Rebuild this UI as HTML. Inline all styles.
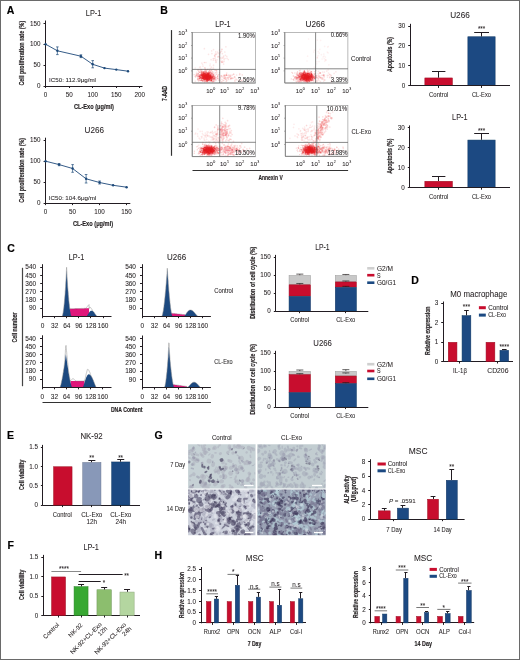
<!DOCTYPE html>
<html><head><meta charset="utf-8"><style>
html,body{margin:0;padding:0;background:#fff;}
svg{display:block;}
text{font-family:"Liberation Sans",sans-serif;stroke:#231f20;stroke-width:0.06px;}
</style></head><body>
<svg width="520" height="660" viewBox="0 0 520 660" fill="#231f20">
<filter id="gb" x="0" y="0" width="100%" height="100%"><feGaussianBlur stdDeviation="0.32"/></filter>
<rect width="520" height="660" fill="#fff"/>
<g filter="url(#gb)">
<rect x="0.5" y="0.5" width="519" height="659" fill="none" stroke="#6a6a6a" stroke-width="1"/>
<text x="6.80" y="14.20" font-size="10.5" font-weight="bold" style="stroke-width:0.18px" fill="#000">A</text>
<text x="160.20" y="14.40" font-size="10.5" font-weight="bold" style="stroke-width:0.18px" fill="#000">B</text>
<text x="7.20" y="252.30" font-size="10.5" font-weight="bold" style="stroke-width:0.18px" fill="#000">C</text>
<text x="411.30" y="283.50" font-size="10.5" font-weight="bold" style="stroke-width:0.18px" fill="#000">D</text>
<text x="7.10" y="438.80" font-size="10.5" font-weight="bold" style="stroke-width:0.18px" fill="#000">E</text>
<text x="7.60" y="549.40" font-size="10.5" font-weight="bold" style="stroke-width:0.18px" fill="#000">F</text>
<text x="154.60" y="439.40" font-size="10.5" font-weight="bold" style="stroke-width:0.18px" fill="#000">G</text>
<text x="154.60" y="559.40" font-size="10.5" font-weight="bold" style="stroke-width:0.18px" fill="#000">H</text>
<text x="85.80" y="15.90" font-size="8.6" textLength="15.60" lengthAdjust="spacingAndGlyphs">LP-1</text>
<line x1="45.50" y1="20.50" x2="45.50" y2="86.40" stroke="#231f20" stroke-width="1.0"/>
<line x1="43.50" y1="23.50" x2="45.50" y2="23.50" stroke="#231f20" stroke-width="1.0"/>
<text x="40.50" y="25.67" font-size="6.300000000000001" text-anchor="end">150</text>
<line x1="43.50" y1="44.50" x2="45.50" y2="44.50" stroke="#231f20" stroke-width="1.0"/>
<text x="40.50" y="46.47" font-size="6.300000000000001" text-anchor="end">100</text>
<line x1="43.50" y1="65.50" x2="45.50" y2="65.50" stroke="#231f20" stroke-width="1.0"/>
<text x="40.50" y="67.27" font-size="6.300000000000001" text-anchor="end">50</text>
<line x1="43.50" y1="86.50" x2="45.50" y2="86.50" stroke="#231f20" stroke-width="1.0"/>
<text x="40.50" y="88.17" font-size="6.300000000000001" text-anchor="end">0</text>
<line x1="45.10" y1="86.50" x2="142.50" y2="86.50" stroke="#231f20" stroke-width="1.0"/>
<line x1="45.50" y1="86.00" x2="45.50" y2="88.00" stroke="#231f20" stroke-width="1.0"/>
<text x="45.60" y="97.17" font-size="6.300000000000001" text-anchor="middle">0</text>
<line x1="69.50" y1="86.00" x2="69.50" y2="88.00" stroke="#231f20" stroke-width="1.0"/>
<text x="69.15" y="97.17" font-size="6.300000000000001" text-anchor="middle">50</text>
<line x1="92.50" y1="86.00" x2="92.50" y2="88.00" stroke="#231f20" stroke-width="1.0"/>
<text x="92.70" y="97.17" font-size="6.300000000000001" text-anchor="middle">100</text>
<line x1="116.50" y1="86.00" x2="116.50" y2="88.00" stroke="#231f20" stroke-width="1.0"/>
<text x="116.25" y="97.17" font-size="6.300000000000001" text-anchor="middle">150</text>
<line x1="139.50" y1="86.00" x2="139.50" y2="88.00" stroke="#231f20" stroke-width="1.0"/>
<text x="139.80" y="97.17" font-size="6.300000000000001" text-anchor="middle">200</text>
<text x="74.00" y="108.77" font-size="7.7700000000000005" font-weight="bold" style="stroke-width:0.18px" textLength="40.00" lengthAdjust="spacingAndGlyphs">CL-Exo (μg/ml)</text>
<text transform="translate(24.40,85.60) rotate(-90)" font-size="7.5600000000000005" font-weight="bold" style="stroke-width:0.18px" textLength="64.80" lengthAdjust="spacingAndGlyphs">Cell proliferation rate (%)</text>
<text x="49.00" y="81.72" font-size="5.88" textLength="47.00" lengthAdjust="spacingAndGlyphs">IC50: 112.9μg/ml</text>
<path d="M45.60,44.20 L57.38,50.80 L80.92,56.20 L92.70,64.30 L104.47,68.10 L116.25,69.60 L128.03,71.20" fill="none" stroke="#1f4a7a" stroke-width="0.9"/>
<circle cx="45.60" cy="44.20" r="1.2" fill="#1f4a7a"/>
<circle cx="57.38" cy="50.80" r="1.2" fill="#1f4a7a"/>
<circle cx="80.92" cy="56.20" r="1.2" fill="#1f4a7a"/>
<circle cx="92.70" cy="64.30" r="1.2" fill="#1f4a7a"/>
<circle cx="104.47" cy="68.10" r="1.2" fill="#1f4a7a"/>
<circle cx="116.25" cy="69.60" r="1.2" fill="#1f4a7a"/>
<circle cx="128.03" cy="71.20" r="1.2" fill="#1f4a7a"/>
<line x1="57.38" y1="46.90" x2="57.38" y2="54.60" stroke="#1f4a7a" stroke-width="0.7"/>
<line x1="56.08" y1="46.90" x2="58.67" y2="46.90" stroke="#1f4a7a" stroke-width="0.7"/>
<line x1="56.08" y1="54.60" x2="58.67" y2="54.60" stroke="#1f4a7a" stroke-width="0.7"/>
<line x1="80.92" y1="54.80" x2="80.92" y2="57.60" stroke="#1f4a7a" stroke-width="0.7"/>
<line x1="79.62" y1="54.80" x2="82.22" y2="54.80" stroke="#1f4a7a" stroke-width="0.7"/>
<line x1="79.62" y1="57.60" x2="82.22" y2="57.60" stroke="#1f4a7a" stroke-width="0.7"/>
<line x1="92.70" y1="60.60" x2="92.70" y2="67.80" stroke="#1f4a7a" stroke-width="0.7"/>
<line x1="91.40" y1="60.60" x2="94.00" y2="60.60" stroke="#1f4a7a" stroke-width="0.7"/>
<line x1="91.40" y1="67.80" x2="94.00" y2="67.80" stroke="#1f4a7a" stroke-width="0.7"/>
<text x="84.60" y="133.10" font-size="8.6" textLength="19.40" lengthAdjust="spacingAndGlyphs">U266</text>
<line x1="45.50" y1="137.70" x2="45.50" y2="203.50" stroke="#231f20" stroke-width="1.0"/>
<line x1="43.60" y1="140.50" x2="45.60" y2="140.50" stroke="#231f20" stroke-width="1.0"/>
<text x="40.60" y="142.17" font-size="6.300000000000001" text-anchor="end">150</text>
<line x1="43.60" y1="161.50" x2="45.60" y2="161.50" stroke="#231f20" stroke-width="1.0"/>
<text x="40.60" y="163.27" font-size="6.300000000000001" text-anchor="end">100</text>
<line x1="43.60" y1="182.50" x2="45.60" y2="182.50" stroke="#231f20" stroke-width="1.0"/>
<text x="40.60" y="184.27" font-size="6.300000000000001" text-anchor="end">50</text>
<line x1="43.60" y1="203.50" x2="45.60" y2="203.50" stroke="#231f20" stroke-width="1.0"/>
<text x="40.60" y="205.27" font-size="6.300000000000001" text-anchor="end">0</text>
<line x1="45.20" y1="203.50" x2="130.30" y2="203.50" stroke="#231f20" stroke-width="1.0"/>
<line x1="45.50" y1="203.10" x2="45.50" y2="205.10" stroke="#231f20" stroke-width="1.0"/>
<text x="45.60" y="214.47" font-size="6.300000000000001" text-anchor="middle">0</text>
<line x1="72.50" y1="203.10" x2="72.50" y2="205.10" stroke="#231f20" stroke-width="1.0"/>
<text x="72.60" y="214.47" font-size="6.300000000000001" text-anchor="middle">50</text>
<line x1="99.50" y1="203.10" x2="99.50" y2="205.10" stroke="#231f20" stroke-width="1.0"/>
<text x="99.60" y="214.47" font-size="6.300000000000001" text-anchor="middle">100</text>
<line x1="126.50" y1="203.10" x2="126.50" y2="205.10" stroke="#231f20" stroke-width="1.0"/>
<text x="126.60" y="214.47" font-size="6.300000000000001" text-anchor="middle">150</text>
<text x="72.90" y="226.27" font-size="7.7700000000000005" font-weight="bold" style="stroke-width:0.18px" textLength="40.20" lengthAdjust="spacingAndGlyphs">CL-Exo (μg/ml)</text>
<text transform="translate(24.40,202.80) rotate(-90)" font-size="7.5600000000000005" font-weight="bold" style="stroke-width:0.18px" textLength="65.00" lengthAdjust="spacingAndGlyphs">Cell proliferation rate (%)</text>
<text x="48.80" y="200.02" font-size="5.88" textLength="47.40" lengthAdjust="spacingAndGlyphs">IC50: 104.6μg/ml</text>
<path d="M45.60,161.20 L59.10,164.60 L72.60,168.50 L86.10,178.80 L99.60,182.50 L113.10,185.30 L126.60,187.20" fill="none" stroke="#1f4a7a" stroke-width="0.9"/>
<circle cx="45.60" cy="161.20" r="1.2" fill="#1f4a7a"/>
<circle cx="59.10" cy="164.60" r="1.2" fill="#1f4a7a"/>
<circle cx="72.60" cy="168.50" r="1.2" fill="#1f4a7a"/>
<circle cx="86.10" cy="178.80" r="1.2" fill="#1f4a7a"/>
<circle cx="99.60" cy="182.50" r="1.2" fill="#1f4a7a"/>
<circle cx="113.10" cy="185.30" r="1.2" fill="#1f4a7a"/>
<circle cx="126.60" cy="187.20" r="1.2" fill="#1f4a7a"/>
<line x1="59.10" y1="163.50" x2="59.10" y2="165.70" stroke="#1f4a7a" stroke-width="0.7"/>
<line x1="57.80" y1="163.50" x2="60.40" y2="163.50" stroke="#1f4a7a" stroke-width="0.7"/>
<line x1="57.80" y1="165.70" x2="60.40" y2="165.70" stroke="#1f4a7a" stroke-width="0.7"/>
<line x1="72.60" y1="164.60" x2="72.60" y2="172.30" stroke="#1f4a7a" stroke-width="0.7"/>
<line x1="71.30" y1="164.60" x2="73.90" y2="164.60" stroke="#1f4a7a" stroke-width="0.7"/>
<line x1="71.30" y1="172.30" x2="73.90" y2="172.30" stroke="#1f4a7a" stroke-width="0.7"/>
<line x1="86.10" y1="174.50" x2="86.10" y2="183.00" stroke="#1f4a7a" stroke-width="0.7"/>
<line x1="84.80" y1="174.50" x2="87.40" y2="174.50" stroke="#1f4a7a" stroke-width="0.7"/>
<line x1="84.80" y1="183.00" x2="87.40" y2="183.00" stroke="#1f4a7a" stroke-width="0.7"/>
<line x1="99.60" y1="181.00" x2="99.60" y2="184.00" stroke="#1f4a7a" stroke-width="0.7"/>
<line x1="98.30" y1="181.00" x2="100.90" y2="181.00" stroke="#1f4a7a" stroke-width="0.7"/>
<line x1="98.30" y1="184.00" x2="100.90" y2="184.00" stroke="#1f4a7a" stroke-width="0.7"/>
<path d="M205.4 78.1h0M208.0 76.8h0M202.9 77.2h0M209.4 75.4h0M207.7 78.0h0M208.1 78.6h0M203.0 78.2h0M205.1 77.7h0M211.2 74.0h0M210.3 77.4h0M212.4 79.1h0M211.8 80.9h0M206.3 79.5h0M205.7 73.5h0M201.2 77.4h0M210.7 80.4h0M210.7 77.3h0M200.1 74.7h0M203.3 76.3h0M208.6 76.4h0M206.5 78.3h0M208.3 79.8h0M205.5 73.1h0M209.5 78.8h0M206.2 75.0h0M203.3 73.1h0M210.1 79.5h0M214.3 77.3h0M203.6 76.5h0M202.4 77.0h0M207.3 77.9h0M208.7 75.5h0M210.0 76.7h0M207.9 77.5h0M199.7 76.5h0M208.0 81.2h0M206.6 76.1h0M199.4 80.6h0M206.0 80.9h0M209.0 72.9h0M211.0 78.8h0M212.1 81.5h0M212.6 76.6h0M210.7 77.2h0M203.6 78.7h0M212.0 79.0h0M211.9 75.1h0M206.7 76.1h0M203.8 77.1h0M216.2 70.6h0M207.5 78.8h0M203.4 74.7h0M209.2 77.3h0M213.8 81.8h0M212.0 78.0h0M208.1 72.9h0M207.9 73.8h0M198.0 77.3h0M204.3 73.2h0M200.9 72.9h0M211.3 77.6h0M208.7 79.7h0M207.4 76.5h0M209.0 79.4h0" stroke="#e4181d" stroke-opacity="0.17" stroke-width="1.40" stroke-linecap="round" fill="none"/>
<path d="M205.6 75.9h0M209.0 75.3h0M208.6 73.1h0M204.5 73.4h0M213.9 78.8h0M207.2 79.8h0M211.8 79.3h0M215.1 70.6h0M206.3 79.2h0M206.2 80.7h0M213.4 74.8h0M213.3 76.7h0M213.5 81.4h0M204.0 79.4h0M195.7 77.0h0M205.2 75.5h0M202.7 74.4h0M207.9 77.4h0M208.7 77.9h0M208.7 74.4h0M214.2 79.7h0M210.2 77.1h0M215.0 78.6h0M213.5 80.2h0M205.8 69.7h0M204.9 74.8h0M208.9 76.5h0M207.8 75.8h0M198.6 81.0h0M204.4 80.7h0M205.5 77.7h0M206.1 78.7h0M208.7 77.9h0M200.6 75.9h0M203.5 77.6h0M203.6 76.7h0M204.3 74.5h0M208.1 79.2h0M205.1 78.6h0M210.1 73.0h0M205.3 74.0h0M203.0 75.5h0M210.6 76.0h0M205.3 75.2h0M216.8 70.8h0M202.8 78.8h0M207.8 75.5h0M207.8 75.8h0M204.4 76.9h0M205.7 72.0h0M202.6 76.5h0M207.7 74.9h0M203.0 74.8h0M206.7 78.3h0M203.8 77.7h0M215.5 77.5h0M206.0 80.5h0M203.7 71.8h0M204.1 72.7h0M204.0 75.1h0M199.3 78.1h0M201.6 80.5h0M207.6 78.8h0M207.5 73.5h0" stroke="#e4181d" stroke-opacity="0.17" stroke-width="1.40" stroke-linecap="round" fill="none"/>
<path d="M202.3 76.0h0M208.0 77.9h0M206.8 80.2h0M202.1 75.2h0M209.0 78.4h0M203.6 75.6h0M208.2 77.3h0M201.4 77.1h0M210.5 80.9h0M211.4 76.3h0M206.6 73.9h0M203.2 79.2h0M203.5 78.9h0M199.0 74.8h0M203.6 71.6h0M215.5 72.8h0M218.9 80.4h0M204.8 74.2h0M209.5 77.5h0M197.9 76.5h0M211.3 74.3h0M210.5 78.4h0M211.6 74.8h0M200.6 75.2h0M202.1 76.6h0M201.5 76.2h0M208.9 74.1h0M213.1 75.3h0M212.9 74.0h0M210.1 76.7h0M206.8 78.8h0M202.6 78.2h0M199.7 75.9h0M204.1 77.8h0M201.4 71.4h0M207.4 79.5h0M203.7 78.3h0M207.5 76.5h0M214.3 77.3h0M203.4 75.2h0M207.1 79.5h0M195.2 81.1h0M209.9 74.9h0M205.4 78.3h0M204.6 78.0h0M208.9 78.6h0M207.3 75.1h0M201.9 74.6h0M210.0 79.0h0M195.1 76.5h0M209.4 77.3h0M212.6 76.9h0M196.9 75.8h0M212.0 79.2h0M214.1 78.8h0M206.4 73.9h0M209.7 76.6h0M199.8 78.0h0M212.2 78.5h0M208.3 77.6h0M202.5 79.9h0M205.9 78.5h0M211.0 75.3h0M210.2 79.1h0" stroke="#e4181d" stroke-opacity="0.17" stroke-width="1.40" stroke-linecap="round" fill="none"/>
<path d="M211.7 78.2h0M203.6 81.1h0M197.3 75.4h0M212.5 71.9h0M199.4 79.7h0M211.4 77.1h0M207.3 78.3h0M208.4 77.5h0M198.8 75.4h0M219.2 74.5h0M210.1 81.1h0M207.1 77.2h0M198.0 73.5h0M211.2 79.1h0M209.9 76.3h0M202.3 78.3h0M209.5 70.3h0M216.4 80.0h0M205.1 78.8h0M202.3 78.5h0M205.9 78.6h0M207.5 77.0h0M205.7 72.0h0M201.7 73.7h0M199.7 76.9h0M204.3 76.9h0M212.0 74.5h0M209.7 75.7h0M199.7 72.2h0M204.4 74.9h0M197.9 74.0h0M215.2 75.8h0M213.5 75.7h0M206.1 76.5h0M206.8 77.5h0M200.9 71.0h0M206.8 77.0h0M199.5 78.9h0M212.2 75.3h0M204.8 78.9h0M201.6 73.9h0M203.3 76.5h0M206.1 81.2h0M208.2 73.8h0M206.2 75.0h0M196.2 75.4h0M199.3 79.2h0M203.9 75.1h0M210.8 78.6h0M209.0 76.2h0M212.3 82.3h0M201.6 79.9h0M208.8 78.3h0M212.1 73.8h0M212.4 77.4h0M206.3 73.9h0M207.2 76.5h0M203.0 75.6h0M201.1 80.1h0M206.7 75.1h0M203.5 76.2h0M204.9 73.8h0M199.7 80.1h0M209.1 75.7h0" stroke="#e4181d" stroke-opacity="0.17" stroke-width="1.40" stroke-linecap="round" fill="none"/>
<path d="M211.4 77.7h0M209.2 80.0h0M206.1 74.7h0M199.9 77.0h0M211.0 78.4h0M202.5 79.0h0M205.8 77.5h0M204.6 78.4h0M205.0 78.3h0M210.8 76.4h0M202.5 80.6h0M213.2 76.5h0M197.6 79.1h0M206.6 78.9h0M196.3 74.0h0M215.3 77.0h0M209.5 78.2h0M201.1 73.0h0M206.8 74.7h0M201.6 69.7h0M205.2 79.5h0M205.5 78.5h0M210.2 79.4h0M206.2 76.8h0M207.3 73.3h0M209.0 75.9h0M207.7 82.4h0M203.4 78.5h0M212.0 75.9h0M202.3 75.6h0M206.6 74.1h0M207.3 76.4h0M201.9 73.0h0M205.0 79.4h0M204.1 79.0h0M209.4 79.0h0M205.8 79.1h0M206.7 76.1h0M207.6 76.7h0M207.0 75.8h0M206.5 71.8h0M209.0 73.4h0M208.6 76.5h0M208.6 77.4h0M216.5 77.6h0M210.7 78.9h0M208.0 75.4h0M201.3 78.1h0M205.3 76.7h0M209.1 71.1h0M202.4 71.6h0M203.9 77.2h0M206.0 76.3h0M203.7 77.8h0M209.0 76.4h0M206.9 78.0h0M206.4 78.7h0M208.1 80.4h0M210.7 72.1h0M204.6 79.1h0M207.9 76.0h0M211.6 79.4h0M207.1 79.7h0M208.0 78.9h0" stroke="#e4181d" stroke-opacity="0.17" stroke-width="1.40" stroke-linecap="round" fill="none"/>
<path d="M208.4 77.4h0M203.7 74.7h0M208.9 76.8h0M213.2 78.7h0M197.5 74.6h0M213.3 76.0h0M209.2 77.0h0M207.9 75.5h0M211.6 70.1h0M207.2 78.7h0M211.1 76.6h0M196.0 75.2h0M200.9 76.4h0M207.4 73.8h0M207.9 75.7h0M209.2 79.3h0M214.3 78.3h0M214.4 79.8h0M203.7 76.6h0M201.8 80.6h0M209.3 79.3h0M201.8 74.9h0M197.9 76.2h0M208.9 72.8h0M205.4 75.9h0M217.3 76.6h0M205.6 76.8h0M212.7 77.1h0M206.3 76.0h0M208.0 78.2h0M201.8 78.2h0M213.7 78.0h0M201.0 77.4h0M213.0 76.2h0M205.3 75.2h0M207.5 77.5h0M208.9 76.6h0M208.2 77.1h0M207.1 79.8h0M209.1 81.0h0M205.4 75.6h0M208.7 76.9h0M201.3 74.5h0M202.0 78.5h0M199.0 78.6h0M210.7 70.7h0M207.5 79.4h0M200.6 78.2h0M205.4 75.9h0M210.5 78.0h0M210.5 81.0h0M206.5 76.0h0M210.9 77.1h0M213.2 77.4h0M208.6 80.3h0M206.7 77.5h0M206.2 70.6h0M215.5 80.0h0M215.1 79.4h0M210.1 77.3h0M207.8 75.4h0M213.7 79.4h0M199.0 75.5h0" stroke="#e4181d" stroke-opacity="0.17" stroke-width="1.40" stroke-linecap="round" fill="none"/>
<path d="M198.9 78.6h0M205.0 76.4h0M199.9 78.6h0M197.9 69.8h0M210.5 72.3h0M200.3 76.1h0M210.1 78.5h0M217.8 78.4h0M211.6 73.3h0M207.6 78.5h0M197.5 79.9h0M198.1 78.4h0M205.7 76.7h0M199.4 74.7h0M210.2 78.9h0M202.4 76.3h0M206.3 78.1h0M215.0 79.4h0M206.1 77.2h0M204.8 73.2h0M212.3 76.6h0M206.6 73.0h0M209.5 72.4h0M200.9 76.4h0M208.7 78.5h0M211.7 77.4h0M211.9 77.2h0M203.5 78.7h0M206.0 74.0h0M209.2 82.4h0M203.6 78.3h0M210.7 75.2h0M214.4 78.4h0M210.5 75.1h0M208.8 72.9h0M210.9 78.0h0M209.7 76.6h0M209.7 76.0h0M217.6 75.7h0M206.6 77.7h0M208.7 75.1h0M198.2 77.1h0M207.5 79.3h0M205.3 75.9h0M198.7 79.3h0M207.4 78.1h0M202.1 76.3h0M201.9 77.4h0M205.8 72.3h0M206.7 75.3h0M210.8 79.1h0M208.1 75.1h0M210.0 78.5h0M202.7 75.7h0M200.0 76.3h0M202.7 80.3h0M206.5 74.5h0M207.3 77.3h0M216.1 74.2h0M205.1 80.7h0M209.7 77.0h0M204.0 72.4h0M206.7 73.1h0" stroke="#e4181d" stroke-opacity="0.17" stroke-width="1.40" stroke-linecap="round" fill="none"/>
<path d="M208.9 78.2h0M209.5 77.6h0M209.7 79.4h0M208.2 75.0h0M205.8 79.4h0M205.9 76.0h0M215.8 78.2h0M204.1 76.4h0M209.7 73.1h0M199.6 72.5h0M206.2 75.2h0M208.1 75.3h0M203.9 77.3h0M210.8 75.6h0M209.7 77.8h0M207.9 79.0h0M197.7 79.0h0M202.6 77.2h0M206.6 77.3h0M203.1 77.9h0M205.0 79.0h0M204.6 71.5h0M198.2 73.6h0M205.7 75.9h0M206.4 74.6h0M211.7 70.9h0M202.9 77.3h0M206.4 77.6h0M206.7 73.1h0M203.4 76.7h0M210.0 77.8h0M206.5 76.8h0M204.2 74.9h0M206.9 78.8h0M203.5 76.6h0M214.3 74.0h0M201.3 80.3h0M206.4 71.3h0M204.0 77.9h0M212.3 77.8h0M202.5 75.6h0M212.1 72.3h0M208.6 78.3h0M210.3 80.4h0M203.9 77.0h0M218.3 75.0h0M209.1 78.3h0M212.9 77.7h0M205.1 76.7h0M209.5 75.7h0M203.8 74.8h0M198.1 70.6h0M207.6 80.2h0M203.6 74.4h0M207.7 75.4h0M203.6 71.9h0M209.6 75.4h0M214.9 81.0h0M209.0 78.0h0M203.9 78.3h0M207.6 69.7h0M203.6 74.9h0M204.2 78.5h0" stroke="#e4181d" stroke-opacity="0.17" stroke-width="1.40" stroke-linecap="round" fill="none"/>
<path d="M198.8 71.8h0M204.5 74.2h0M213.2 78.1h0M201.4 79.0h0M200.6 80.6h0M213.1 74.5h0M204.6 75.7h0M205.6 76.6h0M207.4 79.9h0M209.4 74.5h0M208.4 78.0h0M206.6 79.0h0M214.8 77.4h0M202.4 74.6h0M212.7 78.9h0M206.4 76.3h0M208.1 75.1h0M196.7 74.3h0M206.0 73.5h0M208.9 77.4h0M211.1 77.1h0M203.5 78.1h0M203.7 73.0h0M206.3 74.8h0M205.9 76.6h0M203.1 77.2h0M209.3 78.8h0M213.6 80.1h0M206.3 77.6h0M219.5 72.7h0M208.9 76.7h0M198.4 80.1h0M209.0 78.4h0M213.6 76.2h0M210.5 76.6h0M204.9 67.8h0M208.7 74.4h0M204.7 78.4h0M201.7 77.8h0M216.8 72.2h0M206.4 75.1h0M210.3 77.6h0M206.4 80.3h0M203.4 77.8h0M212.4 77.4h0M205.1 76.8h0M205.1 71.3h0M203.2 76.7h0M202.1 76.5h0M207.6 75.5h0M210.7 74.7h0M200.8 74.5h0M204.0 75.7h0M213.5 75.6h0M205.2 78.8h0M205.7 74.8h0M201.8 73.6h0M205.2 77.9h0M207.5 77.3h0M211.9 76.4h0M211.9 77.2h0M202.9 78.1h0M211.6 81.2h0" stroke="#e4181d" stroke-opacity="0.17" stroke-width="1.40" stroke-linecap="round" fill="none"/>
<path d="M202.5 75.4h0M204.2 79.8h0M207.1 73.5h0M211.7 77.5h0M209.1 76.6h0M212.4 73.8h0M206.5 79.2h0M194.1 74.8h0M205.9 77.3h0M201.9 72.7h0M213.5 74.6h0M207.0 80.3h0M209.0 79.5h0M199.6 76.1h0M208.7 71.5h0M201.9 75.6h0M212.7 81.8h0M206.3 78.1h0M208.5 79.6h0M213.4 79.0h0M201.2 77.0h0M209.2 76.8h0M206.7 77.5h0M209.8 77.9h0M210.0 77.8h0M208.1 80.2h0M203.0 81.1h0M206.6 78.8h0M208.8 76.3h0M204.2 77.1h0M200.1 76.4h0M210.7 72.5h0M201.9 73.5h0M206.3 77.3h0M208.0 75.2h0M210.3 76.0h0M211.6 78.0h0M212.7 76.2h0M209.2 76.2h0M206.4 77.9h0M206.7 78.7h0M208.8 78.1h0M204.8 75.3h0M204.3 79.8h0M200.2 72.1h0M210.7 75.9h0M212.3 78.0h0M207.3 72.4h0M209.0 76.5h0M196.3 76.1h0M198.3 73.7h0M206.5 76.9h0M202.9 74.5h0M206.7 82.4h0M215.8 78.9h0M202.0 75.6h0M200.1 70.2h0M207.9 77.0h0M211.4 73.2h0M210.4 74.1h0M198.4 76.6h0M208.1 76.2h0M202.6 73.0h0" stroke="#e4181d" stroke-opacity="0.17" stroke-width="1.40" stroke-linecap="round" fill="none"/>
<path d="M204.8 73.4h0M207.5 79.3h0M204.7 77.3h0M204.4 75.4h0M202.6 76.3h0M205.1 77.8h0M208.3 73.9h0M203.0 77.7h0M206.8 79.9h0M204.4 76.2h0M207.3 76.7h0M201.9 76.0h0M203.3 74.2h0M205.5 75.6h0M202.5 73.3h0M206.6 77.1h0M203.5 74.6h0M202.7 77.6h0M211.2 76.7h0M208.3 73.6h0M206.2 79.8h0M203.7 77.9h0M206.8 75.0h0M211.1 80.2h0M207.2 74.1h0M206.1 76.5h0M205.3 76.0h0M211.5 78.5h0M207.1 75.3h0M206.0 78.0h0M207.7 75.9h0M211.2 78.5h0M203.5 75.6h0M209.1 73.2h0M212.2 76.1h0M205.0 75.6h0M204.9 76.5h0M205.6 78.0h0" stroke="#e4181d" stroke-opacity="0.4" stroke-width="1.40" stroke-linecap="round" fill="none"/>
<path d="M207.2 77.7h0M207.7 77.7h0M205.4 73.1h0M203.6 72.9h0M207.8 75.0h0M207.0 79.8h0M204.2 77.0h0M205.0 75.3h0M205.4 77.6h0M206.4 77.8h0M203.9 74.7h0M207.0 78.7h0M210.3 77.8h0M204.9 75.0h0M209.5 77.8h0M210.2 77.2h0M200.4 77.4h0M209.1 79.5h0M204.5 75.8h0M204.4 76.0h0M207.0 74.9h0M206.8 77.3h0M210.5 76.1h0M206.1 79.1h0M201.7 72.3h0M205.9 75.6h0M206.5 77.4h0M205.4 75.7h0M206.4 76.9h0M203.2 74.8h0M208.2 80.0h0M209.2 76.4h0M205.9 76.0h0M204.2 77.9h0M206.3 78.7h0M205.4 75.4h0M207.3 77.5h0M206.9 79.0h0" stroke="#e4181d" stroke-opacity="0.4" stroke-width="1.40" stroke-linecap="round" fill="none"/>
<path d="M206.3 78.4h0M205.8 77.1h0M206.9 74.1h0M207.8 79.3h0M201.0 78.8h0M209.3 76.2h0M205.0 76.4h0M210.9 75.6h0M210.1 75.3h0M205.4 76.8h0M209.8 77.5h0M203.4 77.7h0M208.8 75.5h0M206.4 76.0h0M207.6 77.1h0M211.2 80.4h0M206.1 81.4h0M203.9 78.6h0M201.4 78.1h0M209.1 74.4h0M210.3 78.8h0M208.8 76.9h0M209.1 72.8h0M202.2 73.0h0M207.7 77.2h0M212.1 78.1h0M205.6 74.5h0M204.2 76.9h0M207.9 75.0h0M207.6 74.7h0M205.3 77.5h0M203.1 76.4h0M209.1 74.9h0M208.0 75.1h0M204.6 75.4h0M200.6 75.3h0M205.6 78.5h0M203.7 78.2h0" stroke="#e4181d" stroke-opacity="0.4" stroke-width="1.40" stroke-linecap="round" fill="none"/>
<path d="M204.8 76.5h0M202.6 78.4h0M208.7 74.8h0M206.8 75.1h0M207.3 79.5h0M207.2 80.0h0M207.5 75.4h0M210.9 78.3h0M209.0 80.3h0M204.9 76.9h0M203.8 72.8h0M207.3 75.5h0M208.4 77.4h0M206.6 77.3h0M207.6 74.7h0M210.8 79.0h0M206.2 76.5h0M204.4 75.3h0M203.5 78.5h0M204.0 73.0h0M206.6 75.5h0M209.2 78.6h0M206.3 77.3h0M205.0 75.1h0M206.5 72.6h0M207.4 81.0h0M209.5 79.9h0M206.2 78.0h0M207.4 78.6h0M206.6 77.5h0M203.9 78.4h0M205.8 76.7h0M207.6 77.1h0M201.4 79.1h0M205.3 76.6h0M204.9 75.8h0M205.8 78.1h0M208.7 77.1h0" stroke="#e4181d" stroke-opacity="0.4" stroke-width="1.40" stroke-linecap="round" fill="none"/>
<path d="M205.5 77.8h0M205.2 74.7h0M204.5 75.1h0M199.3 76.6h0M202.9 78.5h0M204.9 77.5h0M207.5 75.7h0M210.1 75.3h0M202.8 74.6h0M203.3 76.7h0M202.7 81.0h0M207.5 75.3h0M208.0 77.0h0M207.2 72.9h0M208.8 76.0h0M206.6 77.1h0M210.1 77.3h0M202.9 78.6h0M201.9 74.2h0M205.7 77.4h0M201.4 74.6h0M206.7 75.8h0M206.8 77.9h0M204.8 77.0h0M205.3 75.4h0M209.9 74.3h0M206.0 78.6h0M201.0 80.6h0M207.9 76.2h0M206.0 75.0h0M209.4 77.1h0M208.1 76.7h0M203.2 76.7h0M206.7 75.2h0M203.5 77.5h0M203.5 76.4h0M209.1 78.2h0M207.5 75.9h0" stroke="#e4181d" stroke-opacity="0.4" stroke-width="1.40" stroke-linecap="round" fill="none"/>
<path d="M210.4 76.6h0M204.3 75.2h0M204.9 79.0h0M209.5 77.6h0M211.7 80.8h0M209.4 79.3h0M204.9 77.7h0M209.4 79.6h0M203.6 73.3h0M201.3 75.6h0M203.3 76.5h0M204.2 76.6h0M209.4 75.9h0M204.9 75.3h0M208.9 77.1h0M205.9 75.5h0M206.7 76.2h0M210.6 76.0h0M207.0 75.5h0M201.9 75.4h0M208.7 75.5h0M204.3 75.7h0M207.0 77.1h0M214.2 76.2h0M202.6 74.9h0M208.1 78.4h0M207.5 78.1h0M212.2 77.2h0M205.0 76.3h0M206.1 76.2h0M203.3 77.3h0M206.8 77.6h0M206.1 77.7h0M206.4 78.4h0M207.7 77.0h0M208.3 76.5h0M208.2 74.9h0M203.5 75.9h0" stroke="#e4181d" stroke-opacity="0.4" stroke-width="1.40" stroke-linecap="round" fill="none"/>
<path d="M211.6 79.9h0M208.5 78.8h0M208.5 78.0h0M208.7 79.6h0M205.8 77.2h0M207.6 74.5h0M204.8 77.2h0M206.0 76.5h0M207.5 73.6h0M211.3 77.3h0M206.8 76.6h0M199.2 76.1h0M203.8 74.0h0M208.3 74.1h0M201.2 74.1h0M206.1 75.6h0M204.7 79.4h0M204.3 76.1h0M208.3 77.0h0M207.6 79.7h0M202.9 76.9h0M205.8 76.7h0M201.4 75.2h0M206.4 77.3h0M208.1 77.9h0M211.2 79.5h0M207.6 75.5h0M208.1 77.8h0M208.2 79.7h0M207.2 75.4h0M209.3 79.0h0M206.3 80.1h0M205.1 77.3h0M199.6 78.3h0M210.7 76.5h0M205.0 79.1h0M202.9 75.5h0M204.6 81.9h0" stroke="#e4181d" stroke-opacity="0.4" stroke-width="1.40" stroke-linecap="round" fill="none"/>
<path d="M208.4 78.0h0M202.8 78.2h0M207.1 74.1h0M209.2 76.2h0M205.9 78.6h0M203.0 77.0h0M210.5 77.1h0M212.7 77.6h0M207.6 79.5h0M203.0 77.0h0M205.6 74.3h0M203.7 74.0h0M209.3 75.7h0M204.4 76.1h0M209.2 76.8h0M210.6 78.1h0M208.9 80.1h0M212.8 79.1h0M203.2 77.7h0M208.0 76.4h0M206.9 77.9h0M214.1 78.5h0M200.2 77.5h0M206.2 78.5h0M206.2 77.7h0M208.3 74.8h0M207.8 78.7h0M207.0 76.5h0M205.9 75.6h0M209.1 74.0h0M208.4 73.7h0M207.5 77.0h0M202.0 74.6h0M208.2 73.2h0M209.7 76.1h0M208.8 78.6h0M207.5 79.6h0M205.0 79.7h0" stroke="#e4181d" stroke-opacity="0.4" stroke-width="1.40" stroke-linecap="round" fill="none"/>
<path d="M210.9 76.8h0M208.6 75.9h0M204.9 75.7h0M209.0 78.4h0M209.0 77.1h0M207.3 81.4h0M205.9 78.1h0M205.2 75.6h0M202.1 75.9h0M203.8 73.7h0M203.6 79.6h0M205.2 78.1h0M203.6 74.9h0M205.4 78.5h0M205.3 77.2h0M205.1 73.3h0M205.4 76.8h0M204.9 73.5h0M208.5 73.5h0M203.2 74.9h0M208.0 79.4h0M208.3 75.4h0M207.1 76.5h0M210.9 74.9h0M204.7 76.8h0M204.0 77.1h0M204.0 80.2h0M206.0 75.3h0M207.3 77.2h0M205.8 76.8h0M204.5 79.2h0M205.8 75.6h0M208.3 78.8h0M208.3 73.8h0M208.3 73.5h0M209.3 76.4h0M203.1 77.1h0M206.8 77.4h0" stroke="#e4181d" stroke-opacity="0.4" stroke-width="1.40" stroke-linecap="round" fill="none"/>
<path d="M206.0 74.9h0M202.4 75.2h0M203.8 77.5h0M202.3 75.8h0M202.8 77.9h0M204.1 78.7h0M205.3 78.7h0M207.5 77.5h0M201.3 77.9h0M204.4 78.0h0M204.3 78.2h0M205.2 79.0h0M205.1 74.4h0M205.1 78.4h0M205.2 75.7h0M206.2 76.0h0M204.0 78.4h0M204.6 78.8h0M211.0 78.0h0M204.6 76.9h0M204.1 78.4h0M204.5 76.1h0M204.2 75.6h0M206.7 76.4h0M206.4 77.8h0M207.6 75.1h0M211.7 80.4h0M206.8 76.8h0M203.9 75.3h0M208.8 75.9h0M203.1 78.6h0M209.8 77.3h0M206.3 75.7h0M209.3 77.7h0M206.8 76.5h0M206.0 78.8h0M204.1 75.3h0M208.2 75.5h0" stroke="#e4181d" stroke-opacity="0.4" stroke-width="1.40" stroke-linecap="round" fill="none"/>
<path d="M224.1 61.2h0M221.5 51.2h0M215.6 60.4h0M211.1 59.7h0M223.5 61.9h0M225.4 55.3h0" stroke="#e4181d" stroke-opacity="0.098" stroke-width="1.70" stroke-linecap="round" fill="none"/>
<path d="M213.2 58.6h0M222.0 57.4h0M217.0 59.8h0M221.4 58.6h0M215.3 60.0h0M225.9 46.8h0" stroke="#e4181d" stroke-opacity="0.098" stroke-width="1.70" stroke-linecap="round" fill="none"/>
<path d="M222.5 61.0h0M220.3 57.8h0M222.0 49.6h0M215.2 54.2h0M211.7 50.8h0M223.6 56.0h0" stroke="#e4181d" stroke-opacity="0.098" stroke-width="1.70" stroke-linecap="round" fill="none"/>
<path d="M227.1 58.4h0M220.6 51.9h0M215.1 56.4h0M226.8 56.3h0M225.1 58.5h0M222.1 62.0h0" stroke="#e4181d" stroke-opacity="0.098" stroke-width="1.70" stroke-linecap="round" fill="none"/>
<path d="M222.3 62.3h0M208.5 54.3h0M221.5 62.2h0M204.4 48.7h0M214.1 58.5h0M214.7 55.8h0" stroke="#e4181d" stroke-opacity="0.098" stroke-width="1.70" stroke-linecap="round" fill="none"/>
<path d="M215.9 62.4h0M215.8 54.4h0M223.6 64.1h0M214.6 55.6h0M224.1 59.3h0M221.1 61.2h0" stroke="#e4181d" stroke-opacity="0.098" stroke-width="1.70" stroke-linecap="round" fill="none"/>
<path d="M213.5 49.6h0M221.9 49.2h0M218.3 56.4h0M218.2 53.1h0M211.9 53.6h0M215.8 51.9h0" stroke="#e4181d" stroke-opacity="0.098" stroke-width="1.70" stroke-linecap="round" fill="none"/>
<path d="M222.4 53.6h0M216.6 53.9h0M223.5 57.1h0M216.2 61.7h0M221.9 62.3h0M211.3 67.2h0" stroke="#e4181d" stroke-opacity="0.098" stroke-width="1.70" stroke-linecap="round" fill="none"/>
<path d="M219.5 50.0h0M215.2 58.0h0M224.8 52.0h0M213.5 65.2h0M228.3 59.6h0M219.1 56.7h0" stroke="#e4181d" stroke-opacity="0.098" stroke-width="1.70" stroke-linecap="round" fill="none"/>
<path d="M220.3 52.7h0M219.4 53.9h0M222.9 58.2h0M217.6 52.0h0M217.8 57.1h0M213.3 60.2h0" stroke="#e4181d" stroke-opacity="0.098" stroke-width="1.70" stroke-linecap="round" fill="none"/>
<path d="M223.7 80.6h0M232.0 77.9h0M243.8 78.8h0M226.9 75.3h0M224.4 78.5h0M213.6 81.4h0M219.2 79.4h0M226.4 79.5h0M241.2 80.7h0" stroke="#e4181d" stroke-opacity="0.112" stroke-width="1.70" stroke-linecap="round" fill="none"/>
<path d="M234.8 77.1h0M213.3 76.3h0M210.4 73.9h0M222.1 81.8h0M230.4 78.9h0M222.3 76.9h0M221.7 76.1h0M239.6 74.7h0M226.7 73.1h0" stroke="#e4181d" stroke-opacity="0.112" stroke-width="1.70" stroke-linecap="round" fill="none"/>
<path d="M233.8 74.2h0M217.0 74.0h0M217.7 78.3h0M213.9 77.4h0M228.2 77.7h0M223.9 77.4h0M225.4 77.7h0M239.8 73.7h0M230.2 77.2h0" stroke="#e4181d" stroke-opacity="0.112" stroke-width="1.70" stroke-linecap="round" fill="none"/>
<path d="M225.4 75.6h0M229.2 77.2h0M228.0 77.7h0M228.2 78.5h0M224.2 75.0h0M226.3 75.1h0M234.9 81.4h0M232.3 78.5h0M230.8 78.4h0" stroke="#e4181d" stroke-opacity="0.112" stroke-width="1.70" stroke-linecap="round" fill="none"/>
<path d="M217.8 77.0h0M228.9 74.8h0M242.3 74.9h0M224.8 78.2h0M235.0 80.2h0M236.6 75.0h0M222.9 80.3h0M239.9 77.7h0M225.4 79.3h0" stroke="#e4181d" stroke-opacity="0.112" stroke-width="1.70" stroke-linecap="round" fill="none"/>
<path d="M226.8 80.6h0M226.4 74.7h0M221.2 81.9h0M234.5 76.6h0M233.3 78.1h0M223.9 78.4h0M236.0 79.0h0M224.2 75.0h0M234.7 77.5h0" stroke="#e4181d" stroke-opacity="0.112" stroke-width="1.70" stroke-linecap="round" fill="none"/>
<path d="M201.2 75.3h0M231.1 78.7h0M230.7 75.1h0M224.3 76.5h0M230.1 75.9h0M223.7 75.9h0M221.9 79.3h0M218.0 78.9h0M224.7 75.8h0" stroke="#e4181d" stroke-opacity="0.112" stroke-width="1.70" stroke-linecap="round" fill="none"/>
<path d="M220.7 75.8h0M242.0 80.2h0M211.8 73.2h0M220.3 76.5h0M213.7 78.7h0M230.8 76.1h0M227.1 77.9h0M226.1 75.2h0M233.5 74.3h0" stroke="#e4181d" stroke-opacity="0.112" stroke-width="1.70" stroke-linecap="round" fill="none"/>
<path d="M231.4 78.0h0M221.6 75.9h0M208.4 77.2h0M225.6 77.5h0M229.6 75.6h0M218.0 76.7h0M225.8 78.7h0M232.3 75.1h0M226.7 75.1h0" stroke="#e4181d" stroke-opacity="0.112" stroke-width="1.70" stroke-linecap="round" fill="none"/>
<path d="M228.2 75.8h0M220.5 77.8h0M228.4 79.5h0M238.7 80.3h0M220.3 80.2h0M226.2 81.3h0M236.9 79.8h0M224.5 75.9h0" stroke="#e4181d" stroke-opacity="0.112" stroke-width="1.70" stroke-linecap="round" fill="none"/>
<path d="M196.6 72.4h0M204.8 62.5h0M201.8 63.1h0M210.1 68.5h0M209.5 71.2h0" stroke="#e4181d" stroke-opacity="0.084" stroke-width="1.70" stroke-linecap="round" fill="none"/>
<path d="M204.8 70.1h0M204.5 71.7h0M204.5 75.0h0M201.2 77.9h0M208.0 75.9h0" stroke="#e4181d" stroke-opacity="0.084" stroke-width="1.70" stroke-linecap="round" fill="none"/>
<path d="M210.2 64.0h0M210.9 68.6h0M213.4 68.9h0M209.9 74.0h0M202.2 70.6h0" stroke="#e4181d" stroke-opacity="0.084" stroke-width="1.70" stroke-linecap="round" fill="none"/>
<path d="M204.6 71.2h0M213.3 67.4h0M200.6 69.2h0M199.5 76.4h0M202.0 74.0h0" stroke="#e4181d" stroke-opacity="0.084" stroke-width="1.70" stroke-linecap="round" fill="none"/>
<path d="M210.0 65.7h0M204.2 62.5h0M210.3 71.4h0M195.3 68.0h0M202.6 71.8h0" stroke="#e4181d" stroke-opacity="0.084" stroke-width="1.70" stroke-linecap="round" fill="none"/>
<path d="M209.3 70.9h0M200.4 66.8h0M201.6 71.4h0M209.3 75.2h0M205.8 70.3h0" stroke="#e4181d" stroke-opacity="0.084" stroke-width="1.70" stroke-linecap="round" fill="none"/>
<path d="M213.1 74.6h0M213.8 72.1h0M203.8 72.0h0M199.6 67.4h0M215.0 69.7h0" stroke="#e4181d" stroke-opacity="0.084" stroke-width="1.70" stroke-linecap="round" fill="none"/>
<path d="M208.3 78.6h0M198.5 72.1h0M202.6 64.3h0M206.1 62.5h0M213.2 73.2h0" stroke="#e4181d" stroke-opacity="0.084" stroke-width="1.70" stroke-linecap="round" fill="none"/>
<path d="M205.0 68.3h0M207.8 69.1h0M205.3 73.0h0M208.7 72.2h0M212.7 69.4h0" stroke="#e4181d" stroke-opacity="0.084" stroke-width="1.70" stroke-linecap="round" fill="none"/>
<path d="M203.0 66.2h0M205.1 68.8h0M198.5 69.6h0M202.4 72.1h0M210.4 72.9h0" stroke="#e4181d" stroke-opacity="0.084" stroke-width="1.70" stroke-linecap="round" fill="none"/>
<rect x="192.20" y="32.50" width="63.50" height="50.50" fill="none" stroke="#8a8a8a" stroke-width="0.6"/>
<line x1="192.20" y1="32.50" x2="192.20" y2="83.00" stroke="#777" stroke-width="0.8"/>
<line x1="192.20" y1="83.00" x2="255.70" y2="83.00" stroke="#777" stroke-width="0.8"/>
<line x1="219.70" y1="32.50" x2="219.70" y2="83.00" stroke="#555" stroke-width="0.7"/>
<line x1="192.20" y1="69.40" x2="255.70" y2="69.40" stroke="#555" stroke-width="0.7"/>
<line x1="191.00" y1="32.50" x2="192.20" y2="32.50" stroke="#777" stroke-width="0.6"/>
<line x1="191.00" y1="45.50" x2="192.20" y2="45.50" stroke="#777" stroke-width="0.6"/>
<line x1="191.00" y1="58.10" x2="192.20" y2="58.10" stroke="#777" stroke-width="0.6"/>
<line x1="191.00" y1="70.90" x2="192.20" y2="70.90" stroke="#777" stroke-width="0.6"/>
<text x="178.22" y="34.56" font-size="6.0">10<tspan font-size="3.60" dx="0.3" dy="-3.00">3</tspan></text>
<text x="178.22" y="47.56" font-size="6.0">10<tspan font-size="3.60" dx="0.3" dy="-3.00">2</tspan></text>
<text x="178.22" y="60.16" font-size="6.0">10<tspan font-size="3.60" dx="0.3" dy="-3.00">1</tspan></text>
<text x="178.22" y="72.96" font-size="6.0">10<tspan font-size="3.60" dx="0.3" dy="-3.00">0</tspan></text>
<text x="206.21" y="92.56" font-size="6.0">10<tspan font-size="3.60" dx="0.3" dy="-3.00">0</tspan></text>
<text x="220.01" y="92.56" font-size="6.0">10<tspan font-size="3.60" dx="0.3" dy="-3.00">1</tspan></text>
<text x="235.21" y="92.56" font-size="6.0">10<tspan font-size="3.60" dx="0.3" dy="-3.00">2</tspan></text>
<text x="250.31" y="92.56" font-size="6.0">10<tspan font-size="3.60" dx="0.3" dy="-3.00">3</tspan></text>
<text x="238.00" y="38.20" font-size="6.405" textLength="16.80" lengthAdjust="spacingAndGlyphs">1.90%</text>
<text x="238.00" y="82.30" font-size="6.405" textLength="16.80" lengthAdjust="spacingAndGlyphs">2.56%</text>
<path d="M302.5 77.7h0M309.8 81.0h0M299.6 77.1h0M304.0 80.7h0M314.5 71.7h0M311.8 78.9h0M306.5 80.4h0M311.7 76.2h0M309.6 80.7h0M307.4 79.7h0M303.9 78.2h0M304.2 76.6h0M305.0 80.4h0M305.1 73.9h0M306.4 77.8h0M308.7 75.8h0M304.0 78.2h0M302.4 75.8h0M298.6 75.7h0M306.2 74.6h0M306.2 75.1h0M312.1 75.8h0M295.0 77.5h0M316.5 77.3h0M303.4 77.5h0M311.5 74.2h0M302.0 78.3h0M306.8 76.5h0M303.6 74.9h0M298.6 77.9h0M296.6 77.6h0M306.6 76.0h0M308.4 76.2h0M295.1 77.9h0M305.6 73.6h0M304.0 78.8h0M306.6 75.4h0M310.5 78.0h0M307.3 77.7h0M307.1 75.7h0M311.2 75.8h0M298.8 82.2h0M311.4 79.2h0M308.7 79.8h0M307.7 78.7h0M307.3 74.8h0M299.7 77.4h0M312.3 74.6h0M302.0 77.5h0M311.3 77.1h0M311.0 79.7h0M305.4 77.0h0M302.2 75.1h0M315.6 75.4h0M303.6 73.1h0M307.2 79.1h0M298.6 75.6h0M305.7 73.1h0M299.6 76.4h0M305.7 73.9h0M299.4 70.7h0M302.4 75.3h0M298.9 76.7h0M308.3 81.0h0" stroke="#e4181d" stroke-opacity="0.17" stroke-width="1.40" stroke-linecap="round" fill="none"/>
<path d="M304.9 76.9h0M309.5 73.3h0M307.8 78.8h0M300.3 76.8h0M312.3 76.1h0M300.9 79.5h0M310.0 79.0h0M305.9 75.6h0M300.9 80.7h0M309.0 74.1h0M295.3 76.9h0M307.8 79.2h0M293.2 75.9h0M302.4 75.2h0M304.1 79.1h0M305.4 77.6h0M307.8 80.0h0M304.7 77.1h0M301.9 75.6h0M309.1 76.9h0M311.3 76.7h0M306.1 79.0h0M309.5 80.3h0M310.3 80.4h0M320.7 78.0h0M305.1 78.6h0M293.8 80.4h0M304.0 74.8h0M301.2 74.6h0M310.5 72.1h0M305.7 75.5h0M299.0 73.1h0M313.3 76.3h0M300.1 78.1h0M312.6 78.3h0M309.5 74.4h0M311.1 75.4h0M304.5 76.4h0M308.1 70.8h0M309.8 70.1h0M304.3 79.3h0M304.6 76.3h0M309.9 79.5h0M300.7 76.9h0M310.4 77.5h0M307.6 74.3h0M307.5 71.4h0M310.0 72.9h0M294.6 77.3h0M307.9 77.1h0M314.5 78.2h0M296.8 78.3h0M298.1 76.5h0M309.6 79.7h0M305.0 78.5h0M308.6 76.4h0M305.6 74.9h0M297.8 79.5h0M300.3 72.1h0M314.1 73.7h0M307.0 74.7h0M302.3 79.9h0M307.0 82.2h0M300.2 76.7h0" stroke="#e4181d" stroke-opacity="0.17" stroke-width="1.40" stroke-linecap="round" fill="none"/>
<path d="M311.8 75.2h0M304.0 78.5h0M303.7 76.5h0M302.7 79.4h0M306.2 76.2h0M300.2 78.6h0M303.8 76.4h0M305.8 76.1h0M301.5 72.6h0M306.3 77.4h0M305.9 76.3h0M299.1 77.7h0M306.8 77.0h0M300.7 76.2h0M304.6 73.7h0M307.5 78.8h0M310.6 74.4h0M311.2 75.5h0M305.3 75.0h0M305.6 75.9h0M302.5 75.2h0M305.1 79.8h0M301.0 75.4h0M308.0 77.9h0M301.3 81.9h0M305.3 78.0h0M301.8 78.7h0M301.7 74.4h0M306.7 80.5h0M306.5 76.4h0M303.5 74.7h0M307.1 79.6h0M300.4 79.8h0M296.2 76.6h0M304.1 74.1h0M300.3 76.8h0M309.6 77.7h0M306.8 76.2h0M299.2 78.9h0M304.5 77.4h0M305.5 74.0h0M302.8 79.5h0M302.6 79.0h0M307.1 79.5h0M301.4 76.8h0M306.1 76.8h0M305.6 73.3h0M301.0 75.5h0M302.4 73.2h0M307.5 74.5h0M307.1 78.9h0M305.5 79.4h0M310.4 75.3h0M304.1 76.6h0M297.2 74.8h0M303.2 79.5h0M298.2 81.4h0M308.8 78.4h0M308.5 78.8h0M305.1 72.2h0M304.9 76.0h0M307.3 81.5h0M314.5 76.9h0M308.0 80.8h0" stroke="#e4181d" stroke-opacity="0.17" stroke-width="1.40" stroke-linecap="round" fill="none"/>
<path d="M297.4 72.6h0M307.5 75.0h0M304.4 75.6h0M300.8 72.8h0M302.4 73.8h0M300.9 76.0h0M303.9 77.6h0M305.9 79.5h0M309.0 78.8h0M312.4 80.0h0M309.3 81.4h0M301.9 78.6h0M297.5 75.3h0M309.7 77.9h0M309.7 76.1h0M304.5 75.2h0M308.6 76.2h0M307.2 76.9h0M303.5 72.7h0M308.1 77.2h0M307.2 74.3h0M305.9 78.7h0M296.4 74.4h0M304.6 76.0h0M309.7 79.1h0M311.2 77.8h0M303.2 77.8h0M313.8 77.0h0M297.6 77.7h0M298.6 80.3h0M301.8 76.8h0M307.3 73.5h0M304.6 77.9h0M301.6 73.3h0M312.7 78.3h0M309.5 77.7h0M300.5 76.4h0M302.9 76.1h0M304.4 75.6h0M300.3 79.5h0M307.5 76.5h0M305.6 81.3h0M303.9 75.7h0M306.3 78.3h0M307.1 76.3h0M310.3 76.0h0M307.7 80.5h0M309.5 72.9h0M298.7 79.9h0M301.1 75.2h0M310.1 76.4h0M310.6 79.0h0M296.5 82.4h0M299.0 79.7h0M306.8 74.7h0M308.5 78.3h0M301.4 76.6h0M297.5 71.6h0M310.2 78.1h0M299.4 72.7h0M307.8 75.0h0M307.9 81.8h0M309.8 76.4h0M306.8 78.9h0" stroke="#e4181d" stroke-opacity="0.17" stroke-width="1.40" stroke-linecap="round" fill="none"/>
<path d="M303.3 75.4h0M301.2 79.4h0M293.1 79.4h0M308.0 76.1h0M303.6 80.2h0M307.9 78.1h0M296.2 78.9h0M312.2 77.3h0M304.5 70.7h0M308.0 80.0h0M303.4 74.7h0M312.1 77.1h0M311.5 73.8h0M300.7 77.3h0M311.3 75.4h0M302.8 78.0h0M301.6 80.8h0M299.4 74.3h0M306.2 74.8h0M311.0 78.1h0M300.7 82.0h0M305.9 73.3h0M308.1 82.2h0M299.5 81.9h0M309.0 79.1h0M300.2 78.8h0M306.0 77.0h0M309.1 74.5h0M299.9 76.6h0M306.6 75.8h0M302.4 78.7h0M304.5 77.6h0M305.7 74.5h0M304.3 77.4h0M299.7 78.7h0M311.5 73.5h0M301.4 76.1h0M311.2 75.4h0M312.7 78.4h0M306.5 80.2h0M295.6 77.5h0M309.3 81.1h0M300.8 81.4h0M306.1 82.3h0M302.3 76.1h0M303.7 77.6h0M310.5 73.2h0M308.4 75.4h0M307.6 73.2h0M303.7 78.5h0M307.2 82.4h0M309.4 74.6h0M314.4 78.7h0M302.9 75.4h0M309.3 79.4h0M301.6 78.6h0M302.8 75.5h0M300.4 74.0h0M295.7 76.9h0M310.8 80.0h0M312.5 77.1h0M307.7 74.0h0M307.4 76.9h0M298.3 75.5h0" stroke="#e4181d" stroke-opacity="0.17" stroke-width="1.40" stroke-linecap="round" fill="none"/>
<path d="M305.6 78.4h0M299.1 80.6h0M306.7 77.4h0M304.0 79.7h0M311.0 76.1h0M310.4 74.9h0M298.0 75.7h0M306.5 79.1h0M305.2 76.2h0M303.6 80.8h0M302.6 77.2h0M305.0 77.5h0M300.7 74.3h0M305.7 78.9h0M308.2 77.8h0M297.5 73.9h0M302.5 74.9h0M304.4 78.0h0M307.4 69.9h0M302.5 76.4h0M311.8 79.6h0M306.9 80.3h0M299.9 80.5h0M303.3 71.7h0M308.8 80.6h0M305.0 77.3h0M296.6 73.3h0M291.9 72.4h0M306.0 78.4h0M307.7 78.6h0M304.8 77.3h0M301.0 77.9h0M299.7 76.5h0M302.8 74.0h0M314.7 76.9h0M307.9 75.4h0M304.2 81.6h0M307.3 74.1h0M314.7 78.3h0M310.1 78.6h0M300.4 75.1h0M304.9 77.9h0M309.5 74.9h0M295.0 76.9h0M298.3 74.4h0M305.8 81.2h0M312.1 79.3h0M311.5 76.2h0M314.2 75.3h0M299.6 81.0h0M297.3 73.5h0M297.3 81.2h0M302.9 74.0h0M305.8 74.8h0M307.6 75.9h0M309.3 76.5h0M305.7 76.3h0M306.3 74.4h0M302.3 74.0h0M303.5 73.6h0M308.1 78.6h0M314.0 77.9h0M302.8 77.2h0M313.7 76.3h0" stroke="#e4181d" stroke-opacity="0.17" stroke-width="1.40" stroke-linecap="round" fill="none"/>
<path d="M314.0 77.8h0M305.6 77.8h0M302.5 77.6h0M301.2 76.1h0M303.0 75.2h0M313.1 80.4h0M305.6 75.7h0M304.1 74.4h0M303.7 76.3h0M303.5 78.0h0M308.3 74.9h0M291.3 78.9h0M302.9 78.6h0M303.9 78.1h0M292.6 73.3h0M303.5 75.6h0M303.5 74.9h0M307.0 78.2h0M301.6 77.6h0M309.9 76.1h0M312.1 78.5h0M311.0 81.3h0M307.6 75.8h0M306.8 76.9h0M310.4 80.4h0M302.7 73.5h0M305.3 80.6h0M306.2 80.6h0M311.0 75.6h0M309.2 78.5h0M307.5 80.2h0M304.5 74.9h0M312.3 74.5h0M306.5 72.6h0M307.4 75.9h0M306.0 77.8h0M303.5 81.0h0M302.0 73.5h0M304.5 78.8h0M304.8 74.3h0M307.8 77.8h0M303.4 76.6h0M306.8 77.9h0M317.4 77.6h0M305.1 76.1h0M304.3 75.7h0M303.8 78.3h0M307.8 76.6h0M303.7 77.6h0M302.5 75.5h0M300.9 78.9h0M311.3 74.6h0M297.6 78.4h0M300.5 76.3h0M305.3 75.4h0M296.4 78.5h0M308.5 74.0h0M313.2 75.4h0M300.1 78.9h0M305.2 78.0h0M310.6 78.0h0M311.3 77.5h0M298.2 78.1h0M316.1 75.1h0" stroke="#e4181d" stroke-opacity="0.17" stroke-width="1.40" stroke-linecap="round" fill="none"/>
<path d="M307.7 75.2h0M299.1 75.5h0M305.4 76.8h0M306.2 78.0h0M299.7 81.5h0M305.5 78.2h0M313.5 76.8h0M310.8 74.7h0M296.9 75.6h0M309.9 74.7h0M310.3 74.4h0M308.2 77.4h0M308.4 71.9h0M315.6 77.2h0M300.1 80.5h0M304.2 70.4h0M310.3 77.9h0M305.7 75.9h0M293.7 76.1h0M307.3 78.3h0M297.4 80.0h0M308.2 75.5h0M316.1 70.6h0M306.4 81.6h0M303.1 77.0h0M299.4 76.1h0M302.8 78.3h0M305.3 74.5h0M299.4 76.5h0M307.5 74.0h0M308.4 77.6h0M299.4 79.1h0M312.1 77.6h0M308.1 78.2h0M302.4 79.7h0M300.8 76.4h0M307.7 73.7h0M304.5 78.7h0M301.7 75.9h0M304.4 75.8h0M307.5 75.5h0M297.2 75.5h0M307.3 76.1h0M296.7 77.3h0M305.7 80.5h0M304.0 78.2h0M312.8 76.2h0M314.1 76.1h0M300.0 73.0h0M308.9 78.1h0M311.2 76.2h0M311.7 78.7h0M311.8 74.3h0M312.7 76.5h0M304.9 77.8h0M299.8 73.6h0M298.3 81.9h0M302.8 79.2h0M304.1 82.0h0M298.1 74.1h0M297.0 75.4h0M303.9 77.4h0M304.1 74.2h0M304.1 72.9h0" stroke="#e4181d" stroke-opacity="0.17" stroke-width="1.40" stroke-linecap="round" fill="none"/>
<path d="M308.3 80.4h0M308.8 73.3h0M310.8 72.7h0M303.0 79.6h0M308.7 77.3h0M301.8 76.6h0M313.0 79.9h0M310.0 74.6h0M314.1 80.9h0M302.1 72.6h0M309.5 78.1h0M303.6 75.2h0M312.5 75.5h0M300.3 77.8h0M296.4 79.3h0M303.9 76.4h0M312.2 78.0h0M307.6 74.5h0M306.0 77.3h0M304.6 71.2h0M311.5 78.2h0M305.6 72.2h0M305.2 77.6h0M305.0 76.3h0M302.0 79.4h0M300.3 70.1h0M306.3 78.2h0M304.3 74.5h0M306.9 75.2h0M303.4 77.3h0M304.7 75.0h0M307.2 74.8h0M300.1 77.7h0M313.7 79.2h0M320.5 77.3h0M299.9 77.7h0M294.3 78.7h0M307.0 75.8h0M302.8 76.4h0M306.7 75.8h0M306.6 76.7h0M300.9 75.4h0M299.3 77.1h0M298.6 75.3h0M306.9 76.9h0M306.6 78.7h0M305.4 75.6h0M305.4 82.0h0M301.9 80.0h0M303.9 74.3h0M308.7 76.9h0M293.7 79.3h0M305.5 76.3h0M308.0 73.3h0M304.1 79.4h0M304.4 78.4h0M305.1 78.9h0M307.1 74.7h0M307.8 72.2h0M305.0 78.8h0M314.6 78.2h0M300.0 74.0h0M303.7 78.4h0" stroke="#e4181d" stroke-opacity="0.17" stroke-width="1.40" stroke-linecap="round" fill="none"/>
<path d="M312.0 72.1h0M315.5 73.5h0M306.7 74.3h0M316.3 76.0h0M303.1 74.4h0M299.2 77.2h0M303.1 78.0h0M314.3 74.4h0M303.8 75.2h0M306.3 76.9h0M307.7 82.4h0M304.6 80.0h0M302.7 81.2h0M301.6 76.1h0M310.7 78.2h0M309.2 72.1h0M302.5 79.6h0M299.0 76.2h0M298.3 77.6h0M306.1 77.5h0M296.0 80.1h0M304.6 79.3h0M315.8 81.5h0M301.9 76.9h0M309.5 75.8h0M311.1 74.1h0M310.3 73.2h0M298.7 76.4h0M309.9 81.3h0M303.7 74.3h0M303.8 78.7h0M300.6 79.3h0M308.3 74.7h0M307.2 77.7h0M304.9 79.0h0M301.4 75.8h0M295.9 78.8h0M308.5 76.1h0M309.3 75.8h0M320.3 73.0h0M294.9 73.0h0M311.4 77.7h0M309.7 79.0h0M306.6 81.3h0M299.9 74.3h0M314.4 76.9h0M311.1 71.6h0M305.9 78.7h0M310.1 73.0h0M300.7 73.0h0M306.9 75.6h0M300.7 79.9h0M304.3 78.3h0M296.1 81.6h0M318.0 75.6h0M305.8 74.1h0M311.2 78.4h0M309.5 81.8h0M309.8 80.2h0M305.9 78.1h0M308.2 78.2h0M301.1 75.7h0M302.2 78.2h0" stroke="#e4181d" stroke-opacity="0.17" stroke-width="1.40" stroke-linecap="round" fill="none"/>
<path d="M308.2 77.5h0M309.3 79.7h0M306.0 75.1h0M302.0 77.3h0M304.1 74.3h0M307.2 77.1h0M310.5 79.1h0M308.9 74.0h0M299.8 73.7h0M303.8 73.6h0M306.3 75.5h0M308.0 76.8h0M304.5 74.3h0M305.2 77.8h0M307.3 75.8h0M306.5 77.7h0M307.0 78.3h0M306.7 79.0h0M307.7 76.0h0M309.6 77.3h0M306.5 77.5h0M307.3 75.9h0M307.7 78.1h0M309.2 76.3h0M308.3 73.1h0M309.7 77.1h0M307.8 78.0h0M301.0 80.6h0M305.9 75.5h0M304.0 77.2h0M305.9 75.7h0M306.1 79.0h0M304.7 72.3h0M305.5 74.7h0M302.2 77.7h0M306.5 76.0h0M298.9 77.8h0M308.6 79.8h0" stroke="#e4181d" stroke-opacity="0.4" stroke-width="1.40" stroke-linecap="round" fill="none"/>
<path d="M312.3 77.3h0M297.3 78.0h0M308.5 73.6h0M306.9 78.4h0M306.6 79.7h0M306.7 81.4h0M311.4 74.3h0M304.8 77.3h0M306.3 76.8h0M300.7 78.6h0M306.3 79.0h0M302.0 76.5h0M306.2 73.8h0M309.0 78.4h0M309.6 74.3h0M312.1 77.3h0M304.2 78.2h0M307.1 77.5h0M308.3 77.7h0M306.1 74.6h0M304.8 77.4h0M309.6 77.0h0M311.8 80.3h0M312.6 78.3h0M308.2 76.7h0M304.2 74.3h0M306.8 78.5h0M306.9 73.4h0M306.6 77.1h0M307.5 77.3h0M307.9 73.7h0M301.6 76.4h0M307.0 75.4h0M306.5 76.1h0M306.2 77.5h0M307.2 77.5h0M304.3 76.0h0M305.2 78.0h0" stroke="#e4181d" stroke-opacity="0.4" stroke-width="1.40" stroke-linecap="round" fill="none"/>
<path d="M305.6 74.4h0M310.8 75.2h0M306.6 77.2h0M308.7 76.0h0M305.1 75.0h0M307.2 79.8h0M312.2 77.1h0M305.1 76.0h0M307.6 77.4h0M309.4 81.1h0M308.5 77.2h0M299.4 75.9h0M306.3 78.5h0M310.8 76.4h0M305.1 75.7h0M311.6 80.6h0M304.2 75.3h0M304.1 78.6h0M309.3 76.0h0M306.7 79.2h0M308.1 79.9h0M307.4 81.8h0M307.3 77.8h0M306.7 77.2h0M312.0 78.9h0M305.2 76.0h0M307.9 77.2h0M303.6 74.9h0M308.4 79.6h0M307.0 77.7h0M309.6 78.4h0M311.0 77.6h0M304.4 79.8h0M309.0 77.8h0M312.8 76.5h0M308.2 79.0h0M301.7 77.7h0M301.4 78.7h0" stroke="#e4181d" stroke-opacity="0.4" stroke-width="1.40" stroke-linecap="round" fill="none"/>
<path d="M306.1 78.8h0M300.8 77.5h0M307.2 79.5h0M309.5 78.5h0M310.4 80.2h0M310.2 75.9h0M301.1 75.8h0M305.0 77.4h0M304.9 74.6h0M301.9 78.1h0M311.4 74.2h0M300.7 79.3h0M310.8 77.5h0M305.5 80.2h0M308.2 77.1h0M303.2 79.3h0M307.0 76.6h0M309.8 76.1h0M306.2 76.3h0M302.9 75.3h0M300.1 74.8h0M305.0 78.7h0M302.4 76.7h0M305.7 78.5h0M304.6 76.5h0M311.4 76.1h0M303.7 78.1h0M304.1 72.2h0M308.5 77.0h0M303.0 74.9h0M308.0 79.8h0M306.8 78.5h0M310.2 77.9h0M304.0 77.1h0M308.6 78.5h0M307.2 76.0h0M306.1 76.0h0M308.9 75.1h0" stroke="#e4181d" stroke-opacity="0.4" stroke-width="1.40" stroke-linecap="round" fill="none"/>
<path d="M308.5 79.3h0M307.3 77.7h0M306.0 77.2h0M307.7 77.9h0M305.4 76.6h0M308.3 76.3h0M302.1 77.0h0M310.0 76.6h0M303.0 76.7h0M306.3 78.6h0M303.9 79.9h0M303.4 72.4h0M306.9 78.4h0M306.9 77.8h0M307.8 76.4h0M309.7 79.6h0M303.4 73.9h0M308.2 77.6h0M303.8 77.5h0M309.6 79.7h0M302.6 78.7h0M303.8 79.4h0M307.1 76.6h0M312.2 76.2h0M305.5 75.6h0M306.6 79.0h0M309.8 78.2h0M308.0 80.1h0M305.9 80.0h0M305.9 80.4h0M308.1 73.8h0M303.4 74.8h0M307.1 77.3h0M305.3 75.8h0M304.4 75.9h0M308.7 79.9h0M308.9 81.5h0M311.4 77.2h0" stroke="#e4181d" stroke-opacity="0.4" stroke-width="1.40" stroke-linecap="round" fill="none"/>
<path d="M308.9 76.9h0M303.0 76.1h0M308.8 74.1h0M302.5 77.7h0M306.7 78.9h0M306.6 77.3h0M301.8 75.1h0M305.5 77.7h0M302.9 78.4h0M304.8 78.4h0M307.3 73.1h0M308.1 77.7h0M310.5 76.4h0M305.3 78.8h0M304.1 74.9h0M306.3 78.8h0M306.4 77.5h0M306.2 74.6h0M307.5 79.7h0M310.9 76.0h0M313.6 77.4h0M309.2 77.3h0M306.5 78.1h0M303.1 78.1h0M306.5 78.8h0M308.3 76.7h0M310.0 76.1h0M305.6 78.4h0M306.9 77.0h0M305.9 75.3h0M306.5 77.8h0M301.4 74.3h0M304.6 76.9h0M304.9 79.0h0M310.8 78.3h0M303.9 77.8h0M310.6 79.2h0M301.3 74.5h0" stroke="#e4181d" stroke-opacity="0.4" stroke-width="1.40" stroke-linecap="round" fill="none"/>
<path d="M308.1 77.3h0M306.9 78.4h0M305.4 77.1h0M303.2 74.7h0M307.6 73.6h0M306.4 76.1h0M307.2 77.3h0M305.6 73.3h0M302.3 73.6h0M309.0 78.2h0M307.3 74.7h0M304.8 81.0h0M302.6 75.5h0M305.1 75.1h0M305.3 76.0h0M304.9 76.9h0M304.9 77.4h0M311.6 73.5h0M305.3 77.7h0M308.1 75.6h0M306.7 79.2h0M309.3 80.0h0M303.5 75.9h0M309.5 74.2h0M301.8 76.6h0M299.9 79.6h0M303.4 79.3h0M308.1 74.7h0M311.6 79.9h0M304.4 77.1h0M304.3 74.9h0M307.0 78.6h0M311.9 75.4h0M305.1 73.8h0M306.7 75.0h0M307.9 78.0h0M305.1 78.2h0M308.8 76.5h0" stroke="#e4181d" stroke-opacity="0.4" stroke-width="1.40" stroke-linecap="round" fill="none"/>
<path d="M302.4 80.2h0M312.8 77.6h0M309.1 75.5h0M305.3 77.3h0M303.0 74.7h0M311.0 76.5h0M303.9 76.6h0M307.1 76.3h0M305.7 73.6h0M310.6 76.7h0M310.7 79.2h0M308.6 77.1h0M302.5 75.3h0M306.1 76.2h0M307.1 77.7h0M306.4 80.4h0M301.7 77.7h0M307.2 76.3h0M309.7 76.8h0M307.9 76.3h0M299.0 76.7h0M310.4 77.0h0M301.0 79.2h0M304.2 75.1h0M310.7 78.4h0M308.1 76.2h0M304.6 77.5h0M309.9 73.9h0M308.0 76.8h0M309.8 75.9h0M307.6 77.9h0M305.1 75.7h0M304.4 77.3h0M304.0 78.5h0M308.9 78.0h0M307.8 76.8h0M306.2 79.1h0M309.5 74.1h0" stroke="#e4181d" stroke-opacity="0.4" stroke-width="1.40" stroke-linecap="round" fill="none"/>
<path d="M307.4 75.0h0M304.5 72.6h0M308.7 77.7h0M306.1 76.4h0M307.6 77.2h0M308.4 80.2h0M306.0 77.1h0M304.6 78.2h0M311.2 75.1h0M310.9 75.7h0M304.7 79.5h0M304.4 71.4h0M305.9 77.7h0M308.8 76.3h0M309.2 76.8h0M305.7 78.8h0M307.5 77.5h0M309.7 76.2h0M306.5 77.3h0M306.9 79.5h0M297.0 77.3h0M306.1 79.1h0M303.2 73.8h0M308.0 77.9h0M303.9 75.5h0M306.0 75.2h0M305.7 77.0h0M304.6 76.3h0M304.4 79.0h0M307.9 77.3h0M305.1 76.6h0M307.5 78.1h0M308.9 78.5h0M312.6 75.1h0M312.7 79.7h0M306.0 80.1h0M308.0 76.9h0M306.0 78.8h0" stroke="#e4181d" stroke-opacity="0.4" stroke-width="1.40" stroke-linecap="round" fill="none"/>
<path d="M307.4 77.5h0M309.5 76.8h0M301.9 74.2h0M303.3 77.4h0M311.6 76.5h0M308.2 78.9h0M306.3 76.6h0M306.4 75.9h0M306.1 76.5h0M311.3 71.8h0M303.8 78.7h0M307.7 78.8h0M306.8 77.1h0M306.7 76.6h0M304.1 75.0h0M306.5 75.7h0M304.5 77.2h0M306.4 78.2h0M304.2 75.1h0M307.3 76.5h0M304.8 76.1h0M301.9 75.9h0M308.6 76.6h0M304.1 74.9h0M303.8 74.0h0M303.6 74.2h0M305.5 76.0h0M310.0 77.2h0M305.0 78.8h0M305.3 75.2h0M304.8 75.9h0M307.1 73.5h0M303.5 76.8h0M305.3 76.4h0M308.6 77.5h0M311.4 74.4h0M307.9 75.7h0" stroke="#e4181d" stroke-opacity="0.4" stroke-width="1.40" stroke-linecap="round" fill="none"/>
<path d="M318.1 78.7h0M324.4 74.9h0M322.0 78.2h0M317.4 81.7h0M313.3 78.6h0M317.4 80.6h0M309.2 76.9h0M319.9 72.9h0" stroke="#e4181d" stroke-opacity="0.098" stroke-width="1.70" stroke-linecap="round" fill="none"/>
<path d="M319.9 77.8h0M328.5 73.0h0M321.4 77.5h0M319.5 76.5h0M319.6 77.5h0M324.9 79.9h0M334.1 73.4h0M322.4 78.9h0" stroke="#e4181d" stroke-opacity="0.098" stroke-width="1.70" stroke-linecap="round" fill="none"/>
<path d="M314.8 78.9h0M324.4 76.1h0M323.2 75.3h0M312.4 74.5h0M311.0 76.3h0M313.1 77.0h0M308.1 76.6h0M318.3 76.8h0" stroke="#e4181d" stroke-opacity="0.098" stroke-width="1.70" stroke-linecap="round" fill="none"/>
<path d="M329.7 74.3h0M331.2 75.4h0M324.0 77.4h0M315.1 76.7h0M323.4 74.7h0M331.3 81.9h0M318.9 76.5h0M311.6 73.7h0" stroke="#e4181d" stroke-opacity="0.098" stroke-width="1.70" stroke-linecap="round" fill="none"/>
<path d="M328.1 69.8h0M318.1 73.7h0M321.8 75.3h0M311.3 79.6h0M323.7 81.1h0M329.7 77.0h0M314.6 73.7h0M324.4 80.2h0" stroke="#e4181d" stroke-opacity="0.098" stroke-width="1.70" stroke-linecap="round" fill="none"/>
<path d="M320.6 72.8h0M333.6 78.5h0M316.1 77.6h0M319.9 75.5h0M323.3 75.3h0M323.1 75.5h0M314.8 78.6h0M320.2 72.9h0" stroke="#e4181d" stroke-opacity="0.098" stroke-width="1.70" stroke-linecap="round" fill="none"/>
<path d="M323.8 75.2h0M315.7 76.2h0M326.8 71.1h0M318.3 78.8h0M335.9 71.8h0M328.4 75.3h0M321.7 79.0h0M319.8 73.2h0" stroke="#e4181d" stroke-opacity="0.098" stroke-width="1.70" stroke-linecap="round" fill="none"/>
<path d="M318.7 75.0h0M316.4 80.7h0M318.9 80.3h0M330.9 76.0h0M316.6 78.0h0M322.7 72.0h0M315.7 78.4h0M320.4 81.7h0" stroke="#e4181d" stroke-opacity="0.098" stroke-width="1.70" stroke-linecap="round" fill="none"/>
<path d="M323.7 75.9h0M324.4 72.1h0M327.3 75.3h0M331.4 80.9h0M318.5 71.4h0M313.2 81.3h0M319.4 77.2h0" stroke="#e4181d" stroke-opacity="0.098" stroke-width="1.70" stroke-linecap="round" fill="none"/>
<path d="M316.7 76.4h0M323.2 79.2h0M329.9 74.6h0M329.8 77.7h0M323.5 79.0h0M322.3 77.5h0M327.5 77.1h0" stroke="#e4181d" stroke-opacity="0.098" stroke-width="1.70" stroke-linecap="round" fill="none"/>
<path d="M323.8 54.1h0M324.2 58.6h0M317.4 58.2h0M320.6 40.4h0" stroke="#e4181d" stroke-opacity="0.056" stroke-width="1.70" stroke-linecap="round" fill="none"/>
<path d="M328.1 52.8h0M325.4 57.0h0M317.0 57.5h0M325.5 59.5h0" stroke="#e4181d" stroke-opacity="0.056" stroke-width="1.70" stroke-linecap="round" fill="none"/>
<path d="M324.0 56.2h0M319.1 61.5h0M319.8 49.4h0M328.3 46.5h0" stroke="#e4181d" stroke-opacity="0.056" stroke-width="1.70" stroke-linecap="round" fill="none"/>
<path d="M324.6 46.4h0M324.8 61.3h0M328.9 64.8h0M314.4 50.2h0" stroke="#e4181d" stroke-opacity="0.056" stroke-width="1.70" stroke-linecap="round" fill="none"/>
<path d="M326.2 60.2h0M307.0 61.0h0M321.4 54.7h0M314.3 67.2h0" stroke="#e4181d" stroke-opacity="0.056" stroke-width="1.70" stroke-linecap="round" fill="none"/>
<path d="M308.6 39.0h0M307.6 56.2h0M327.7 47.1h0" stroke="#e4181d" stroke-opacity="0.056" stroke-width="1.70" stroke-linecap="round" fill="none"/>
<path d="M316.7 63.8h0M318.1 55.7h0M316.8 61.7h0" stroke="#e4181d" stroke-opacity="0.056" stroke-width="1.70" stroke-linecap="round" fill="none"/>
<path d="M322.1 59.0h0M319.2 53.2h0M327.3 52.1h0" stroke="#e4181d" stroke-opacity="0.056" stroke-width="1.70" stroke-linecap="round" fill="none"/>
<path d="M325.3 60.2h0M323.1 57.0h0M317.4 57.1h0" stroke="#e4181d" stroke-opacity="0.056" stroke-width="1.70" stroke-linecap="round" fill="none"/>
<path d="M318.2 51.6h0M317.3 40.1h0M313.7 52.0h0" stroke="#e4181d" stroke-opacity="0.056" stroke-width="1.70" stroke-linecap="round" fill="none"/>
<rect x="284.80" y="32.50" width="63.10" height="50.50" fill="none" stroke="#8a8a8a" stroke-width="0.6"/>
<line x1="284.80" y1="32.50" x2="284.80" y2="83.00" stroke="#777" stroke-width="0.8"/>
<line x1="284.80" y1="83.00" x2="347.90" y2="83.00" stroke="#777" stroke-width="0.8"/>
<line x1="315.60" y1="32.50" x2="315.60" y2="83.00" stroke="#555" stroke-width="0.7"/>
<line x1="284.80" y1="68.80" x2="347.90" y2="68.80" stroke="#555" stroke-width="0.7"/>
<line x1="283.60" y1="32.50" x2="284.80" y2="32.50" stroke="#777" stroke-width="0.6"/>
<line x1="283.60" y1="45.50" x2="284.80" y2="45.50" stroke="#777" stroke-width="0.6"/>
<line x1="283.60" y1="58.10" x2="284.80" y2="58.10" stroke="#777" stroke-width="0.6"/>
<line x1="283.60" y1="70.90" x2="284.80" y2="70.90" stroke="#777" stroke-width="0.6"/>
<text x="271.12" y="34.56" font-size="6.0">10<tspan font-size="3.60" dx="0.3" dy="-3.00">3</tspan></text>
<text x="271.12" y="47.56" font-size="6.0">10<tspan font-size="3.60" dx="0.3" dy="-3.00">2</tspan></text>
<text x="271.12" y="60.16" font-size="6.0">10<tspan font-size="3.60" dx="0.3" dy="-3.00">1</tspan></text>
<text x="271.12" y="72.96" font-size="6.0">10<tspan font-size="3.60" dx="0.3" dy="-3.00">0</tspan></text>
<text x="295.81" y="92.56" font-size="6.0">10<tspan font-size="3.60" dx="0.3" dy="-3.00">0</tspan></text>
<text x="311.11" y="92.56" font-size="6.0">10<tspan font-size="3.60" dx="0.3" dy="-3.00">1</tspan></text>
<text x="326.71" y="92.56" font-size="6.0">10<tspan font-size="3.60" dx="0.3" dy="-3.00">2</tspan></text>
<text x="342.21" y="92.56" font-size="6.0">10<tspan font-size="3.60" dx="0.3" dy="-3.00">3</tspan></text>
<text x="330.80" y="37.30" font-size="6.405" textLength="16.80" lengthAdjust="spacingAndGlyphs">0.66%</text>
<text x="330.80" y="82.30" font-size="6.405" textLength="16.80" lengthAdjust="spacingAndGlyphs">3.39%</text>
<path d="M204.2 149.4h0M209.9 148.2h0M208.2 146.1h0M209.7 150.6h0M210.2 151.6h0M210.9 151.5h0M206.2 151.6h0M214.0 153.7h0M208.4 148.4h0M208.3 149.4h0M202.6 155.2h0M204.8 147.9h0M203.3 150.8h0M211.9 151.7h0M212.9 146.9h0M213.1 154.6h0M224.3 147.8h0M203.7 151.9h0M215.0 148.6h0M211.5 150.6h0M209.9 152.8h0M205.7 150.3h0M208.3 151.0h0M210.5 150.2h0M206.0 149.2h0M200.9 150.7h0M214.9 149.4h0M210.2 151.6h0M208.5 150.5h0M205.7 153.5h0M208.0 154.7h0M209.1 150.4h0M204.2 148.0h0M204.2 151.1h0M207.3 149.1h0M201.4 148.4h0M200.2 152.0h0M214.4 150.0h0M210.8 148.5h0M206.1 150.0h0M208.8 155.1h0M210.8 155.3h0M209.8 148.0h0M209.0 151.3h0M199.2 153.4h0M209.2 153.5h0M214.3 150.6h0M204.3 152.1h0M211.4 149.0h0M211.1 149.6h0M209.8 149.5h0M207.9 153.9h0M206.4 149.1h0M212.1 150.7h0M217.8 148.3h0M210.6 155.2h0M203.8 148.7h0M211.8 154.0h0M203.8 151.2h0M212.0 149.9h0" stroke="#e4181d" stroke-opacity="0.17" stroke-width="1.40" stroke-linecap="round" fill="none"/>
<path d="M210.0 151.4h0M205.6 152.1h0M219.2 146.8h0M207.2 146.7h0M204.2 153.6h0M203.3 152.9h0M216.3 147.6h0M199.2 147.7h0M206.7 148.5h0M215.2 150.0h0M210.1 151.5h0M212.3 148.0h0M208.5 152.7h0M204.6 147.8h0M204.4 144.8h0M218.3 153.8h0M216.0 150.1h0M210.7 150.3h0M209.8 151.1h0M213.2 147.1h0M209.7 151.3h0M206.2 147.5h0M202.1 148.1h0M202.8 154.4h0M208.0 153.2h0M210.3 153.0h0M202.7 144.3h0M206.8 156.0h0M203.1 153.4h0M204.2 148.3h0M194.4 151.2h0M210.8 150.8h0M208.6 151.3h0M210.0 154.8h0M206.7 149.2h0M205.4 152.3h0M206.7 147.2h0M210.2 148.2h0M207.3 147.7h0M213.9 148.8h0M202.6 149.1h0M206.8 151.2h0M208.5 148.3h0M205.2 150.3h0M205.6 151.6h0M210.3 149.4h0M205.9 153.3h0M206.8 150.9h0M201.1 151.8h0M206.5 154.1h0M208.9 149.0h0M216.7 152.6h0M216.2 150.1h0M213.8 149.6h0M211.9 148.8h0M204.4 154.6h0M209.1 152.3h0M201.2 148.2h0M209.3 147.9h0M213.9 151.5h0" stroke="#e4181d" stroke-opacity="0.17" stroke-width="1.40" stroke-linecap="round" fill="none"/>
<path d="M216.2 147.4h0M201.8 154.6h0M198.3 148.4h0M211.3 151.2h0M214.7 151.4h0M218.0 150.3h0M211.2 145.5h0M204.5 148.8h0M201.3 154.4h0M208.8 148.8h0M210.0 149.0h0M218.0 153.5h0M201.0 148.7h0M216.2 148.9h0M216.5 150.0h0M207.9 155.5h0M207.3 148.9h0M205.8 151.1h0M212.9 151.4h0M212.9 153.2h0M202.9 142.5h0M210.5 148.2h0M204.5 153.5h0M213.4 150.1h0M203.8 150.1h0M206.3 151.9h0M210.2 148.4h0M211.7 148.3h0M205.2 153.6h0M211.5 151.5h0M213.6 151.1h0M205.4 152.2h0M213.6 149.5h0M199.9 151.5h0M204.7 150.1h0M218.1 149.3h0M211.2 148.9h0M217.2 148.1h0M209.6 152.0h0M200.2 150.0h0M207.2 149.2h0M211.7 153.3h0M202.5 148.5h0M207.3 153.0h0M219.9 153.0h0M202.0 154.1h0M207.6 151.4h0M204.8 149.9h0M208.5 151.7h0M213.8 150.5h0M213.8 149.3h0M205.4 150.2h0M211.3 147.1h0M204.7 151.3h0M210.3 147.3h0M207.7 152.1h0M213.7 149.7h0M204.3 147.7h0M214.4 152.5h0M214.7 150.5h0" stroke="#e4181d" stroke-opacity="0.17" stroke-width="1.40" stroke-linecap="round" fill="none"/>
<path d="M213.4 150.6h0M205.1 149.7h0M218.6 153.4h0M211.9 153.4h0M208.4 149.6h0M210.3 147.2h0M216.6 150.0h0M211.0 149.7h0M225.4 147.0h0M205.8 148.3h0M211.3 153.0h0M211.6 146.5h0M206.5 149.4h0M201.1 155.0h0M208.9 150.0h0M204.6 150.0h0M208.1 146.9h0M209.2 148.3h0M215.1 152.2h0M214.6 151.3h0M207.0 152.0h0M217.4 148.3h0M203.7 153.2h0M216.4 147.7h0M207.4 148.8h0M203.7 153.6h0M207.8 151.3h0M215.3 145.8h0M206.7 149.0h0M207.0 152.7h0M210.0 153.8h0M204.9 150.1h0M214.5 152.7h0M203.3 153.2h0M206.5 149.8h0M207.6 149.2h0M212.7 148.8h0M208.6 148.3h0M213.6 149.5h0M211.6 154.1h0M209.7 148.1h0M211.1 152.9h0M205.0 152.3h0M202.9 153.5h0M203.6 150.0h0M209.8 150.1h0M207.0 148.3h0M213.8 149.7h0M203.8 149.9h0M213.0 152.3h0M200.8 147.2h0M213.5 152.2h0M217.8 152.7h0M206.3 146.2h0M207.2 152.5h0M208.4 150.4h0M219.4 149.8h0M217.1 148.0h0M210.4 148.4h0" stroke="#e4181d" stroke-opacity="0.17" stroke-width="1.40" stroke-linecap="round" fill="none"/>
<path d="M203.2 150.6h0M204.4 154.4h0M206.0 150.9h0M202.8 144.1h0M200.8 151.9h0M217.9 150.4h0M205.5 154.2h0M209.4 149.0h0M203.2 151.7h0M209.1 155.0h0M207.5 151.5h0M208.9 148.3h0M212.6 148.6h0M204.8 147.8h0M214.0 151.0h0M214.0 149.6h0M202.2 154.5h0M210.7 148.5h0M205.2 151.2h0M207.8 151.2h0M207.3 148.6h0M206.3 150.4h0M208.6 150.3h0M213.4 147.6h0M205.1 149.8h0M208.6 148.4h0M211.3 146.1h0M206.1 151.0h0M216.4 150.7h0M202.0 154.4h0M210.7 145.3h0M207.2 147.2h0M204.6 149.7h0M212.5 150.5h0M202.1 150.6h0M208.0 149.8h0M213.5 150.6h0M218.6 153.4h0M203.1 150.0h0M203.5 154.0h0M214.7 146.7h0M203.8 149.5h0M215.6 151.7h0M208.6 148.9h0M201.1 151.9h0M204.1 147.6h0M210.1 148.1h0M205.7 150.9h0M218.9 148.1h0M211.8 150.3h0M210.5 150.8h0M201.0 150.1h0M210.7 152.0h0M206.0 148.1h0M211.9 145.4h0M204.5 151.2h0M215.9 153.8h0M204.9 149.3h0M204.7 145.2h0" stroke="#e4181d" stroke-opacity="0.17" stroke-width="1.40" stroke-linecap="round" fill="none"/>
<path d="M202.1 154.4h0M213.1 153.6h0M208.9 145.1h0M200.1 155.8h0M204.1 148.9h0M202.6 152.2h0M208.5 153.8h0M208.6 151.5h0M212.0 146.1h0M214.6 150.8h0M214.1 148.9h0M199.9 151.3h0M222.7 148.4h0M213.8 147.3h0M213.3 149.8h0M208.4 149.3h0M208.9 151.6h0M213.8 151.8h0M197.3 149.7h0M208.6 146.1h0M202.8 152.5h0M206.4 150.3h0M215.8 152.5h0M216.1 149.5h0M210.0 146.2h0M209.9 154.7h0M204.2 150.4h0M209.7 147.7h0M205.8 148.8h0M219.9 155.3h0M204.3 149.4h0M212.0 150.0h0M204.4 154.6h0M216.3 149.2h0M211.8 151.9h0M221.2 147.4h0M210.8 150.6h0M202.5 149.0h0M217.3 150.9h0M212.3 151.4h0M205.0 145.9h0M199.5 150.1h0M208.0 148.8h0M209.1 150.5h0M211.8 147.6h0M212.1 147.8h0M200.3 148.9h0M213.3 149.8h0M209.5 153.5h0M209.4 151.3h0M206.7 147.0h0M205.4 152.1h0M206.6 149.1h0M203.5 148.9h0M213.2 147.0h0M218.9 150.6h0M216.8 150.7h0M213.3 149.1h0M210.9 151.2h0" stroke="#e4181d" stroke-opacity="0.17" stroke-width="1.40" stroke-linecap="round" fill="none"/>
<path d="M205.4 152.8h0M212.2 150.4h0M207.3 151.0h0M204.4 151.2h0M214.0 147.8h0M201.7 148.4h0M214.4 154.5h0M212.7 148.2h0M199.4 151.6h0M217.3 152.8h0M209.8 148.3h0M220.0 148.8h0M213.2 152.9h0M204.6 152.9h0M208.4 150.1h0M215.8 143.8h0M210.6 151.4h0M205.6 151.7h0M209.1 151.7h0M206.0 150.1h0M206.4 150.8h0M206.0 146.5h0M213.7 147.4h0M215.1 149.1h0M210.2 147.1h0M204.8 147.0h0M208.3 153.2h0M216.9 154.0h0M212.0 155.1h0M209.6 155.3h0M209.7 149.0h0M203.2 150.0h0M206.3 152.5h0M206.4 147.5h0M206.3 147.3h0M208.5 148.2h0M207.2 149.3h0M210.8 149.1h0M208.7 144.9h0M205.2 148.0h0M202.1 151.7h0M220.5 150.8h0M201.3 148.9h0M207.9 151.3h0M211.2 152.6h0M211.9 151.8h0M215.1 153.0h0M203.3 146.3h0M207.9 150.5h0M211.8 151.1h0M208.3 148.1h0M212.1 148.9h0M201.3 151.2h0M217.5 149.2h0M210.4 151.5h0M208.9 150.3h0M211.8 146.5h0M212.6 151.6h0M204.5 150.3h0" stroke="#e4181d" stroke-opacity="0.17" stroke-width="1.40" stroke-linecap="round" fill="none"/>
<path d="M215.4 148.6h0M217.4 151.9h0M214.8 147.1h0M208.9 152.1h0M206.4 152.4h0M198.3 153.8h0M205.0 150.3h0M208.4 148.2h0M199.0 153.9h0M210.0 149.8h0M212.0 149.2h0M213.0 153.5h0M213.8 149.7h0M209.6 150.3h0M199.7 153.0h0M215.4 153.0h0M201.4 147.7h0M209.3 148.4h0M207.5 152.4h0M206.4 147.8h0M214.7 151.6h0M196.9 146.8h0M214.7 154.6h0M211.0 153.2h0M204.2 150.0h0M203.9 147.2h0M206.5 144.8h0M204.3 151.2h0M212.1 149.2h0M209.3 153.7h0M208.5 154.5h0M202.1 153.9h0M213.6 149.5h0M205.7 150.5h0M202.5 147.2h0M210.8 148.9h0M211.2 152.0h0M207.3 147.4h0M206.9 151.6h0M204.3 152.6h0M212.1 149.7h0M209.4 150.9h0M216.7 153.1h0M206.2 145.9h0M213.0 148.5h0M207.1 146.1h0M219.7 152.7h0M202.4 152.9h0M198.6 152.2h0M206.3 150.0h0M205.8 150.2h0M219.5 149.5h0M215.1 152.4h0M214.6 150.1h0M205.9 149.5h0M212.5 149.7h0M200.3 148.7h0M205.9 144.4h0M225.1 147.5h0" stroke="#e4181d" stroke-opacity="0.17" stroke-width="1.40" stroke-linecap="round" fill="none"/>
<path d="M204.6 150.5h0M211.2 151.7h0M197.8 146.1h0M225.0 148.9h0M218.3 148.4h0M220.1 148.5h0M210.8 149.7h0M208.1 146.5h0M206.5 150.4h0M203.5 150.8h0M214.7 148.2h0M204.2 149.3h0M204.9 149.5h0M205.8 149.6h0M201.1 147.6h0M208.6 151.7h0M212.2 152.8h0M204.4 145.9h0M215.6 148.0h0M207.8 149.2h0M220.2 149.9h0M216.6 151.4h0M208.5 148.9h0M204.5 150.5h0M207.7 152.8h0M208.7 151.1h0M214.9 145.9h0M205.8 149.1h0M203.4 148.5h0M208.0 150.7h0M194.3 153.2h0M211.6 155.4h0M206.6 151.1h0M212.3 153.5h0M205.8 149.4h0M211.9 147.4h0M207.0 156.0h0M210.2 147.4h0M204.3 153.7h0M210.1 152.9h0M213.2 151.8h0M209.7 146.8h0M210.1 149.6h0M212.4 150.2h0M205.6 147.4h0M211.0 153.8h0M216.9 150.9h0M208.6 151.4h0M206.8 153.5h0M211.2 147.8h0M205.2 151.0h0M221.0 149.8h0M213.5 152.0h0M211.0 148.6h0M207.8 151.2h0M209.0 150.8h0M212.5 152.9h0M204.5 147.2h0M200.6 151.7h0" stroke="#e4181d" stroke-opacity="0.17" stroke-width="1.40" stroke-linecap="round" fill="none"/>
<path d="M203.8 152.5h0M212.7 150.9h0M210.6 150.4h0M208.2 148.6h0M214.5 148.5h0M205.7 148.7h0M216.6 148.3h0M213.8 151.9h0M209.0 148.7h0M207.4 146.1h0M217.4 149.4h0M210.3 151.4h0M212.3 150.5h0M206.5 150.1h0M212.4 150.3h0M204.2 153.1h0M203.3 148.7h0M203.3 151.1h0M206.3 150.9h0M209.3 150.1h0M213.8 152.0h0M209.8 149.0h0M203.5 152.8h0M204.8 152.4h0M206.6 145.6h0M208.2 150.7h0M204.1 151.2h0M213.9 150.5h0M208.4 150.8h0M211.6 145.7h0M213.7 151.8h0M206.2 152.0h0M205.1 146.9h0M207.7 148.3h0M200.2 151.9h0M219.5 150.7h0M217.4 147.3h0M207.4 154.4h0M206.2 148.0h0M218.0 150.3h0M206.2 150.1h0M205.6 149.8h0M209.0 151.3h0M217.2 151.2h0M202.7 151.0h0M205.0 147.0h0M206.9 151.4h0M214.3 150.9h0M208.6 149.3h0M209.0 152.1h0M205.4 149.1h0M208.6 155.0h0M204.5 147.0h0M208.6 146.1h0M213.5 153.6h0M215.4 152.6h0M208.5 152.8h0M217.0 148.5h0M206.9 149.0h0" stroke="#e4181d" stroke-opacity="0.17" stroke-width="1.40" stroke-linecap="round" fill="none"/>
<path d="M202.2 152.5h0M203.4 151.8h0M211.5 151.8h0M212.0 149.2h0M208.7 149.8h0M210.2 152.3h0M212.4 152.4h0M211.9 146.7h0M210.5 151.0h0M211.2 150.5h0M214.8 148.2h0M208.1 146.1h0M211.7 147.5h0M207.6 150.8h0M206.6 149.7h0M212.0 151.1h0M206.8 148.7h0M207.1 153.0h0M207.7 150.2h0M210.8 151.1h0M215.6 148.8h0M205.6 149.3h0M208.8 152.4h0M204.2 147.7h0M207.4 149.7h0M213.7 151.9h0M210.1 150.4h0M213.0 150.9h0M211.2 150.4h0M210.9 147.3h0M205.7 151.0h0M207.7 152.2h0M206.9 150.5h0" stroke="#e4181d" stroke-opacity="0.4" stroke-width="1.40" stroke-linecap="round" fill="none"/>
<path d="M203.5 152.0h0M206.0 145.8h0M214.6 146.4h0M211.8 149.0h0M205.3 147.6h0M209.6 146.0h0M206.8 150.2h0M206.7 152.7h0M209.0 148.2h0M208.8 153.4h0M204.8 150.9h0M207.1 148.9h0M204.5 152.6h0M211.8 151.1h0M210.2 150.6h0M207.3 149.1h0M206.7 149.8h0M205.5 152.7h0M208.8 148.9h0M208.0 147.9h0M211.2 150.3h0M207.3 152.3h0M209.9 148.8h0M210.0 151.1h0M209.8 150.0h0M207.1 148.5h0M213.4 150.1h0M205.0 150.3h0M207.9 151.1h0M210.0 150.1h0M205.0 151.2h0M208.0 150.8h0M213.0 151.3h0" stroke="#e4181d" stroke-opacity="0.4" stroke-width="1.40" stroke-linecap="round" fill="none"/>
<path d="M209.2 147.9h0M210.6 148.2h0M208.5 149.6h0M209.2 150.2h0M208.7 152.0h0M210.9 150.4h0M210.9 147.2h0M206.2 147.0h0M209.2 149.2h0M207.3 147.1h0M210.0 149.1h0M206.0 150.1h0M209.6 153.1h0M205.7 149.2h0M205.5 152.8h0M211.8 150.8h0M212.9 149.8h0M203.6 148.7h0M208.4 150.2h0M210.8 152.8h0M207.6 151.3h0M209.2 147.3h0M204.1 150.2h0M208.8 148.2h0M209.5 147.4h0M215.7 149.5h0M208.9 151.2h0M210.7 151.9h0M207.8 150.4h0M208.9 151.0h0M206.6 151.6h0M213.0 148.1h0M213.5 151.6h0" stroke="#e4181d" stroke-opacity="0.4" stroke-width="1.40" stroke-linecap="round" fill="none"/>
<path d="M208.7 151.7h0M208.1 150.1h0M211.7 148.4h0M204.8 150.8h0M209.2 153.0h0M201.5 150.4h0M210.0 154.4h0M206.3 149.6h0M210.7 151.2h0M203.9 149.6h0M208.4 151.0h0M205.3 150.9h0M205.5 150.6h0M211.6 150.0h0M210.2 149.4h0M213.3 150.8h0M204.3 149.7h0M211.4 150.0h0M208.2 152.9h0M212.2 152.2h0M202.7 151.8h0M204.8 153.6h0M210.0 152.6h0M211.0 149.5h0M206.6 152.7h0M209.7 150.0h0M212.1 148.6h0M209.0 149.3h0M211.5 149.2h0M207.7 147.3h0M205.9 151.0h0M208.6 151.6h0M206.8 148.4h0" stroke="#e4181d" stroke-opacity="0.4" stroke-width="1.40" stroke-linecap="round" fill="none"/>
<path d="M205.5 150.3h0M206.8 151.1h0M207.4 154.2h0M207.4 145.5h0M204.5 149.8h0M211.5 153.1h0M209.3 149.0h0M208.5 152.5h0M209.8 149.5h0M210.6 151.5h0M203.4 150.2h0M214.1 148.1h0M210.3 153.2h0M206.6 151.7h0M209.1 148.3h0M206.8 149.2h0M210.7 151.2h0M208.9 150.2h0M208.9 147.6h0M209.3 150.8h0M214.1 150.7h0M209.5 148.0h0M200.9 152.5h0M202.5 152.9h0M204.3 151.8h0M207.1 147.4h0M207.1 149.7h0M210.7 148.9h0M211.9 148.3h0M205.4 147.7h0M209.8 150.1h0M206.8 147.2h0M213.9 147.6h0" stroke="#e4181d" stroke-opacity="0.4" stroke-width="1.40" stroke-linecap="round" fill="none"/>
<path d="M206.3 148.5h0M207.7 149.7h0M211.4 146.8h0M206.1 148.8h0M206.7 152.3h0M205.5 151.6h0M214.5 150.2h0M212.4 152.9h0M213.0 151.5h0M207.8 151.6h0M210.3 151.8h0M211.6 149.3h0M208.3 149.4h0M211.9 154.0h0M204.9 149.7h0M206.4 150.6h0M209.2 153.6h0M209.0 149.9h0M203.9 151.2h0M208.5 152.4h0M208.3 150.5h0M205.8 150.4h0M210.3 152.8h0M204.2 154.1h0M215.2 151.3h0M208.1 150.0h0M202.3 152.5h0M208.3 151.5h0M207.9 147.2h0M204.7 150.0h0M213.3 150.5h0M205.6 150.5h0M207.5 149.6h0" stroke="#e4181d" stroke-opacity="0.4" stroke-width="1.40" stroke-linecap="round" fill="none"/>
<path d="M206.7 152.4h0M205.7 149.7h0M208.6 152.6h0M206.0 148.5h0M213.5 149.3h0M209.5 149.9h0M209.1 149.5h0M210.2 149.3h0M212.2 151.7h0M208.4 149.0h0M211.9 150.1h0M210.1 150.0h0M210.6 150.0h0M205.3 149.0h0M209.6 150.4h0M209.2 151.2h0M211.7 150.4h0M205.6 149.7h0M207.5 149.1h0M207.7 153.9h0M210.4 149.4h0M212.7 153.0h0M210.8 150.6h0M210.1 149.4h0M204.5 152.4h0M211.4 149.3h0M211.6 150.2h0M204.3 150.9h0M207.0 153.0h0M212.3 149.0h0M205.9 151.4h0M209.1 153.4h0M205.8 149.2h0" stroke="#e4181d" stroke-opacity="0.4" stroke-width="1.40" stroke-linecap="round" fill="none"/>
<path d="M210.5 150.2h0M205.4 150.3h0M206.7 151.2h0M206.5 146.0h0M210.7 149.8h0M207.7 151.1h0M209.0 147.1h0M207.0 147.7h0M210.5 150.9h0M207.4 151.5h0M204.3 152.5h0M212.3 149.0h0M206.3 151.5h0M206.5 150.8h0M206.2 147.8h0M209.8 148.4h0M212.1 147.9h0M208.8 148.6h0M204.5 149.7h0M210.8 149.6h0M208.9 151.1h0M207.4 149.7h0M209.8 150.9h0M201.7 149.0h0M203.1 150.8h0M203.9 148.3h0M218.3 152.4h0M202.8 148.6h0M209.5 152.4h0M206.3 148.2h0M206.1 149.3h0M212.4 147.5h0M208.5 154.3h0" stroke="#e4181d" stroke-opacity="0.4" stroke-width="1.40" stroke-linecap="round" fill="none"/>
<path d="M208.3 150.4h0M212.4 151.9h0M208.8 147.7h0M211.1 150.3h0M205.6 150.0h0M210.2 151.3h0M204.7 147.7h0M212.3 152.4h0M205.3 147.1h0M211.3 148.3h0M210.8 149.1h0M210.7 148.9h0M202.9 148.5h0M207.1 152.1h0M203.6 153.0h0M207.9 148.6h0M208.0 148.7h0M209.9 153.2h0M208.2 149.0h0M208.5 147.4h0M207.5 150.9h0M214.1 148.5h0M206.7 150.0h0M212.8 152.6h0M207.3 152.3h0M208.4 150.6h0M214.4 152.9h0M204.9 150.0h0M204.2 148.4h0M203.5 150.3h0M208.5 150.5h0M211.5 151.8h0M208.3 149.3h0" stroke="#e4181d" stroke-opacity="0.4" stroke-width="1.40" stroke-linecap="round" fill="none"/>
<path d="M209.3 150.5h0M209.8 147.9h0M206.7 152.2h0M209.3 149.8h0M205.4 152.9h0M207.3 147.9h0M211.2 150.0h0M208.8 148.7h0M205.7 151.3h0M205.6 150.4h0M211.5 152.0h0M209.2 150.2h0M212.5 149.3h0M200.6 151.9h0M209.6 148.8h0M209.9 147.9h0M209.0 153.0h0M203.7 149.3h0M207.5 151.7h0M206.4 149.7h0M209.5 151.4h0M213.1 150.8h0M208.9 149.4h0M209.3 147.2h0M211.9 150.5h0M210.6 149.5h0M211.1 147.7h0M210.6 150.1h0M209.9 151.6h0M207.1 149.8h0M213.5 147.2h0M213.2 149.9h0M208.9 151.8h0" stroke="#e4181d" stroke-opacity="0.4" stroke-width="1.40" stroke-linecap="round" fill="none"/>
<path d="M221.0 129.4h0M222.2 137.7h0M220.2 131.8h0M221.0 137.3h0M222.9 129.8h0M226.4 130.1h0M220.2 126.0h0M224.4 129.7h0M224.5 130.2h0M226.2 123.3h0M228.1 127.0h0M225.7 134.0h0M222.3 143.4h0M225.3 130.2h0M222.1 137.5h0M220.8 130.5h0M221.6 131.6h0M228.4 135.4h0" stroke="#e4181d" stroke-opacity="0.126" stroke-width="1.70" stroke-linecap="round" fill="none"/>
<path d="M217.5 133.6h0M227.7 129.6h0M225.2 122.3h0M223.7 131.8h0M226.2 133.3h0M226.0 134.4h0M221.6 131.2h0M222.0 140.3h0M219.7 140.5h0M223.1 134.2h0M220.6 129.6h0M221.5 125.4h0M225.2 125.3h0M220.9 137.5h0M218.1 141.0h0M221.8 126.1h0M223.2 139.4h0M222.8 118.3h0" stroke="#e4181d" stroke-opacity="0.126" stroke-width="1.70" stroke-linecap="round" fill="none"/>
<path d="M226.5 139.5h0M223.9 138.2h0M216.4 134.9h0M223.0 126.9h0M223.8 137.7h0M227.6 120.7h0M225.3 130.7h0M223.3 129.7h0M229.6 125.4h0M224.4 124.9h0M222.8 141.4h0M226.0 125.7h0M221.9 138.7h0M225.6 128.3h0M229.9 131.4h0M221.4 129.1h0M225.8 132.2h0M225.6 131.6h0" stroke="#e4181d" stroke-opacity="0.126" stroke-width="1.70" stroke-linecap="round" fill="none"/>
<path d="M219.6 140.8h0M222.9 139.8h0M224.0 145.0h0M226.7 134.2h0M226.2 126.9h0M220.4 125.5h0M225.3 135.4h0M221.4 123.6h0M224.5 126.3h0M221.6 134.5h0M225.0 128.4h0M225.1 131.6h0M217.2 131.0h0M229.5 133.1h0M224.7 130.5h0M223.4 124.7h0M227.5 133.1h0M214.3 141.8h0" stroke="#e4181d" stroke-opacity="0.126" stroke-width="1.70" stroke-linecap="round" fill="none"/>
<path d="M227.2 131.6h0M225.6 135.5h0M218.3 129.4h0M225.7 140.9h0M221.4 132.9h0M223.4 135.5h0M219.7 130.4h0M222.1 133.0h0M225.2 126.3h0M228.1 140.3h0M226.2 134.1h0M226.8 132.9h0M218.9 138.0h0M225.9 133.1h0M226.5 135.7h0M223.0 126.6h0M221.0 136.4h0M214.7 127.1h0" stroke="#e4181d" stroke-opacity="0.126" stroke-width="1.70" stroke-linecap="round" fill="none"/>
<path d="M222.6 130.2h0M216.3 133.9h0M221.8 134.0h0M220.8 129.9h0M230.3 132.7h0M233.4 141.4h0M218.2 128.0h0M222.2 128.1h0M226.2 135.0h0M217.3 132.4h0M225.0 132.0h0M224.4 129.4h0M222.3 126.9h0M228.4 135.9h0M226.8 136.2h0M221.0 132.1h0M229.6 139.3h0M224.0 133.1h0" stroke="#e4181d" stroke-opacity="0.126" stroke-width="1.70" stroke-linecap="round" fill="none"/>
<path d="M219.5 134.4h0M225.3 135.0h0M229.2 140.7h0M224.0 135.9h0M223.4 133.1h0M229.0 135.0h0M227.4 129.6h0M225.5 134.5h0M230.3 139.1h0M222.2 135.0h0M225.7 127.1h0M217.6 128.8h0M217.7 127.1h0M222.7 135.0h0M231.2 133.0h0M228.1 134.4h0M219.6 139.6h0M226.8 131.5h0" stroke="#e4181d" stroke-opacity="0.126" stroke-width="1.70" stroke-linecap="round" fill="none"/>
<path d="M221.8 128.1h0M225.8 134.9h0M220.3 136.7h0M223.3 136.1h0M226.9 132.3h0M222.6 134.1h0M230.9 136.1h0M222.4 133.0h0M222.3 135.9h0M217.7 129.8h0M219.5 128.9h0M226.6 137.4h0M214.5 127.4h0M222.5 132.2h0M226.6 131.8h0M222.2 129.5h0M222.5 135.1h0M220.7 129.5h0" stroke="#e4181d" stroke-opacity="0.126" stroke-width="1.70" stroke-linecap="round" fill="none"/>
<path d="M225.9 133.0h0M222.1 135.6h0M219.5 132.3h0M225.7 124.4h0M225.1 130.4h0M215.9 134.2h0M227.3 133.3h0M220.4 135.0h0M222.3 131.1h0M226.6 129.7h0M219.9 134.2h0M229.1 128.7h0M232.1 134.5h0M230.1 128.7h0M224.1 133.0h0M229.0 125.8h0M228.4 144.0h0M216.2 124.9h0" stroke="#e4181d" stroke-opacity="0.126" stroke-width="1.70" stroke-linecap="round" fill="none"/>
<path d="M221.8 130.4h0M224.2 127.3h0M224.6 135.0h0M221.5 122.1h0M222.0 127.9h0M224.0 134.8h0M227.2 137.8h0M220.3 129.5h0M222.1 123.5h0M222.7 127.2h0M231.2 139.5h0M220.5 134.3h0M223.0 126.4h0M220.2 129.2h0M223.8 133.5h0M228.2 126.2h0M218.0 125.8h0M231.4 130.7h0" stroke="#e4181d" stroke-opacity="0.126" stroke-width="1.70" stroke-linecap="round" fill="none"/>
<path d="M228.4 154.8h0M215.2 151.2h0M236.6 148.7h0M223.7 150.8h0M238.0 152.2h0M239.2 149.9h0M228.6 146.3h0M235.1 150.0h0M230.4 150.5h0M234.1 145.7h0M231.8 144.1h0M224.1 144.8h0M230.5 153.3h0M228.8 150.1h0M224.5 151.8h0M221.3 147.4h0M226.3 148.3h0M237.8 147.5h0M241.7 143.5h0M230.9 148.1h0M230.0 150.4h0M222.2 147.3h0M232.9 149.8h0M237.4 154.5h0" stroke="#e4181d" stroke-opacity="0.126" stroke-width="1.70" stroke-linecap="round" fill="none"/>
<path d="M237.2 150.3h0M246.9 148.9h0M232.3 152.5h0M209.9 146.2h0M211.9 151.7h0M226.3 151.6h0M239.8 148.3h0M221.9 154.9h0M234.8 146.6h0M230.1 148.7h0M232.2 149.8h0M223.3 154.7h0M224.0 151.3h0M243.1 149.4h0M244.1 150.6h0M226.8 150.7h0M226.3 150.8h0M233.8 151.0h0M230.2 146.8h0M224.4 147.3h0M209.3 147.5h0M232.4 147.9h0M232.5 154.5h0M214.7 147.7h0" stroke="#e4181d" stroke-opacity="0.126" stroke-width="1.70" stroke-linecap="round" fill="none"/>
<path d="M234.8 149.3h0M222.7 149.6h0M221.9 148.5h0M229.8 151.0h0M239.5 152.6h0M220.1 146.9h0M232.1 150.0h0M226.8 150.0h0M224.3 148.4h0M232.5 150.1h0M229.0 148.1h0M228.2 146.6h0M238.5 154.2h0M231.7 150.9h0M228.3 147.0h0M244.2 150.5h0M230.5 148.4h0M220.8 148.3h0M226.6 146.4h0M237.1 149.0h0M227.5 152.4h0M248.6 151.5h0M236.4 151.2h0M234.3 152.4h0" stroke="#e4181d" stroke-opacity="0.126" stroke-width="1.70" stroke-linecap="round" fill="none"/>
<path d="M221.9 152.5h0M206.6 149.1h0M232.5 150.0h0M227.7 148.8h0M225.3 147.8h0M229.2 154.0h0M237.3 150.6h0M225.7 153.4h0M227.1 155.8h0M237.2 145.9h0M225.7 152.1h0M220.3 151.8h0M216.5 145.5h0M231.0 153.8h0M234.8 150.0h0M240.5 145.8h0M233.2 151.6h0M232.5 150.2h0M249.6 148.3h0M227.9 150.5h0M223.4 153.9h0M218.7 149.3h0M231.6 146.0h0M225.3 150.2h0" stroke="#e4181d" stroke-opacity="0.126" stroke-width="1.70" stroke-linecap="round" fill="none"/>
<path d="M230.1 154.1h0M227.5 146.2h0M228.0 148.7h0M230.5 152.8h0M236.6 152.6h0M237.0 150.0h0M238.6 150.5h0M230.4 148.8h0M227.4 149.9h0M223.2 149.8h0M231.8 149.9h0M232.2 150.5h0M231.9 151.8h0M230.1 150.4h0M236.2 148.3h0M241.2 152.0h0M221.8 147.1h0M219.1 148.6h0M229.4 148.2h0M219.3 150.6h0M214.7 150.2h0M241.1 151.7h0M230.1 148.7h0M227.5 155.8h0" stroke="#e4181d" stroke-opacity="0.126" stroke-width="1.70" stroke-linecap="round" fill="none"/>
<path d="M226.9 149.0h0M233.5 147.8h0M228.5 154.7h0M236.1 149.8h0M229.5 147.1h0M236.9 149.0h0M225.4 148.7h0M230.5 147.5h0M225.0 152.0h0M231.5 149.0h0M225.2 150.5h0M227.5 151.2h0M226.2 149.9h0M228.1 150.0h0M233.1 154.6h0M232.5 152.1h0M213.5 149.2h0M241.1 152.2h0M221.2 148.8h0M227.6 151.1h0M233.3 150.0h0M220.9 152.7h0M234.8 148.4h0M227.4 146.9h0" stroke="#e4181d" stroke-opacity="0.126" stroke-width="1.70" stroke-linecap="round" fill="none"/>
<path d="M231.7 149.5h0M214.5 148.2h0M239.7 145.9h0M225.3 152.7h0M217.0 150.7h0M219.7 145.7h0M234.1 147.9h0M220.7 149.6h0M249.1 153.0h0M228.8 150.1h0M238.4 150.0h0M241.1 151.2h0M225.8 153.1h0M228.6 152.5h0M232.2 149.2h0M233.9 154.9h0M229.1 148.2h0M229.6 153.5h0M230.6 154.5h0M226.0 150.1h0M231.1 152.4h0M225.2 155.7h0M232.5 147.3h0M216.7 146.7h0" stroke="#e4181d" stroke-opacity="0.126" stroke-width="1.70" stroke-linecap="round" fill="none"/>
<path d="M226.6 147.7h0M234.0 154.9h0M229.4 150.2h0M233.2 152.2h0M222.5 148.3h0M231.1 152.3h0M236.3 149.4h0M206.4 153.0h0M241.0 147.3h0M237.2 149.7h0M226.1 147.0h0M227.7 146.4h0M211.6 150.7h0M229.2 150.2h0M218.7 150.0h0M235.4 145.5h0M224.2 149.7h0M221.8 149.6h0M231.3 154.0h0M233.1 152.5h0M222.6 151.5h0M224.6 151.5h0M236.1 148.1h0M239.3 149.0h0" stroke="#e4181d" stroke-opacity="0.126" stroke-width="1.70" stroke-linecap="round" fill="none"/>
<path d="M231.0 150.8h0M238.8 150.5h0M229.3 146.5h0M226.8 147.8h0M232.5 152.7h0M231.9 149.9h0M221.7 147.8h0M244.6 147.2h0M237.3 150.1h0M230.9 145.4h0M229.8 147.7h0M232.5 154.0h0M218.9 148.3h0M228.6 151.9h0M234.2 151.5h0M215.2 154.1h0M229.2 151.5h0M236.6 149.1h0M220.6 150.2h0M223.6 152.5h0M237.4 149.4h0M233.5 148.9h0M228.8 151.5h0M244.4 151.6h0" stroke="#e4181d" stroke-opacity="0.126" stroke-width="1.70" stroke-linecap="round" fill="none"/>
<path d="M243.3 149.9h0M225.0 149.3h0M228.0 150.4h0M230.5 148.4h0M212.8 148.3h0M225.9 152.8h0M227.9 154.5h0M227.9 146.0h0M238.8 152.7h0M208.4 146.3h0M217.7 152.2h0M234.1 146.8h0M216.9 147.7h0M225.3 152.4h0M220.2 147.4h0M228.3 153.4h0M235.6 151.1h0M220.2 151.5h0M225.5 146.0h0M221.2 149.5h0M210.7 146.9h0M227.8 153.0h0M226.4 150.0h0" stroke="#e4181d" stroke-opacity="0.126" stroke-width="1.70" stroke-linecap="round" fill="none"/>
<path d="M212.6 139.5h0M213.2 135.8h0M212.8 137.5h0M198.0 129.0h0M208.7 145.0h0M198.8 145.1h0M206.0 134.6h0M200.1 139.2h0M217.5 135.2h0M213.5 137.6h0" stroke="#e4181d" stroke-opacity="0.084" stroke-width="1.70" stroke-linecap="round" fill="none"/>
<path d="M215.5 140.6h0M215.9 134.2h0M216.2 138.8h0M223.7 135.4h0M219.5 141.6h0M205.5 135.6h0M209.7 141.8h0M213.6 140.2h0M216.5 137.1h0M217.3 134.2h0" stroke="#e4181d" stroke-opacity="0.084" stroke-width="1.70" stroke-linecap="round" fill="none"/>
<path d="M203.2 134.8h0M216.1 139.7h0M216.5 136.3h0M218.8 142.0h0M217.2 133.9h0M197.4 133.9h0M205.1 136.4h0M212.4 131.1h0M213.2 142.3h0M215.6 142.4h0" stroke="#e4181d" stroke-opacity="0.084" stroke-width="1.70" stroke-linecap="round" fill="none"/>
<path d="M206.2 137.4h0M197.8 136.2h0M209.6 136.0h0M210.6 132.5h0M209.4 136.7h0M204.9 140.1h0M210.8 132.3h0M207.2 136.0h0M202.1 136.7h0M222.5 133.4h0" stroke="#e4181d" stroke-opacity="0.084" stroke-width="1.70" stroke-linecap="round" fill="none"/>
<path d="M208.3 132.1h0M212.2 140.0h0M201.3 136.5h0M219.5 136.9h0M202.4 133.6h0M207.1 135.1h0M206.7 139.4h0M211.1 140.0h0M220.6 134.0h0M202.2 131.3h0" stroke="#e4181d" stroke-opacity="0.084" stroke-width="1.70" stroke-linecap="round" fill="none"/>
<path d="M205.2 144.1h0M211.1 136.9h0M217.5 140.0h0M213.6 138.9h0M211.1 132.2h0M204.6 135.3h0M217.8 129.6h0M219.8 138.1h0M211.5 137.5h0M216.7 139.3h0" stroke="#e4181d" stroke-opacity="0.084" stroke-width="1.70" stroke-linecap="round" fill="none"/>
<path d="M224.7 133.6h0M207.6 135.9h0M204.1 138.2h0M216.6 141.0h0M213.7 138.9h0M199.1 138.1h0M214.9 135.9h0M195.7 133.0h0M207.1 131.9h0M212.4 133.6h0" stroke="#e4181d" stroke-opacity="0.084" stroke-width="1.70" stroke-linecap="round" fill="none"/>
<path d="M212.6 136.9h0M210.0 132.8h0M215.2 131.6h0M200.2 131.4h0M208.4 135.7h0M218.3 137.6h0M218.9 139.4h0M195.2 134.0h0M205.3 133.1h0M218.7 143.3h0" stroke="#e4181d" stroke-opacity="0.084" stroke-width="1.70" stroke-linecap="round" fill="none"/>
<path d="M204.1 139.8h0M214.4 135.7h0M212.4 138.3h0M211.0 137.0h0M214.2 138.9h0M206.3 142.0h0M223.6 138.2h0M201.7 137.9h0M217.5 138.0h0" stroke="#e4181d" stroke-opacity="0.084" stroke-width="1.70" stroke-linecap="round" fill="none"/>
<path d="M209.5 143.6h0M213.6 135.0h0M215.2 138.0h0M215.4 136.5h0M212.5 132.2h0M213.4 132.9h0M207.3 133.7h0M208.5 141.4h0M214.9 132.3h0" stroke="#e4181d" stroke-opacity="0.084" stroke-width="1.70" stroke-linecap="round" fill="none"/>
<rect x="192.20" y="105.60" width="63.50" height="51.00" fill="none" stroke="#8a8a8a" stroke-width="0.6"/>
<line x1="192.20" y1="105.60" x2="192.20" y2="156.60" stroke="#777" stroke-width="0.8"/>
<line x1="192.20" y1="156.60" x2="255.70" y2="156.60" stroke="#777" stroke-width="0.8"/>
<line x1="219.70" y1="105.60" x2="219.70" y2="156.60" stroke="#555" stroke-width="0.7"/>
<line x1="192.20" y1="142.30" x2="255.70" y2="142.30" stroke="#555" stroke-width="0.7"/>
<line x1="191.00" y1="105.90" x2="192.20" y2="105.90" stroke="#777" stroke-width="0.6"/>
<line x1="191.00" y1="118.20" x2="192.20" y2="118.20" stroke="#777" stroke-width="0.6"/>
<line x1="191.00" y1="131.20" x2="192.20" y2="131.20" stroke="#777" stroke-width="0.6"/>
<line x1="191.00" y1="144.50" x2="192.20" y2="144.50" stroke="#777" stroke-width="0.6"/>
<text x="178.22" y="107.96" font-size="6.0">10<tspan font-size="3.60" dx="0.3" dy="-3.00">3</tspan></text>
<text x="178.22" y="120.26" font-size="6.0">10<tspan font-size="3.60" dx="0.3" dy="-3.00">2</tspan></text>
<text x="178.22" y="133.26" font-size="6.0">10<tspan font-size="3.60" dx="0.3" dy="-3.00">1</tspan></text>
<text x="178.22" y="146.56" font-size="6.0">10<tspan font-size="3.60" dx="0.3" dy="-3.00">0</tspan></text>
<text x="206.21" y="166.16" font-size="6.0">10<tspan font-size="3.60" dx="0.3" dy="-3.00">0</tspan></text>
<text x="220.01" y="166.16" font-size="6.0">10<tspan font-size="3.60" dx="0.3" dy="-3.00">1</tspan></text>
<text x="235.21" y="166.16" font-size="6.0">10<tspan font-size="3.60" dx="0.3" dy="-3.00">2</tspan></text>
<text x="250.31" y="166.16" font-size="6.0">10<tspan font-size="3.60" dx="0.3" dy="-3.00">3</tspan></text>
<text x="238.00" y="110.40" font-size="6.405" textLength="16.80" lengthAdjust="spacingAndGlyphs">9.78%</text>
<text x="234.90" y="155.40" font-size="6.405" textLength="19.90" lengthAdjust="spacingAndGlyphs">15.50%</text>
<path d="M309.8 149.7h0M298.7 148.4h0M309.0 149.2h0M304.6 148.7h0M313.2 147.2h0M307.8 147.9h0M306.0 151.8h0M302.4 148.4h0M311.7 150.0h0M311.6 147.4h0M309.7 149.3h0M312.1 150.9h0M314.0 151.3h0M310.6 149.5h0M311.8 153.6h0M314.6 149.1h0M309.1 149.8h0M311.5 154.0h0M305.9 145.5h0M304.3 151.9h0M313.4 154.0h0M322.8 150.5h0M314.6 152.0h0M309.7 145.6h0M310.2 148.5h0M310.6 151.7h0M305.8 147.6h0M321.6 150.3h0M312.4 146.2h0M303.4 148.3h0M313.9 150.1h0M310.3 152.9h0M315.6 147.3h0M309.5 151.6h0M313.2 151.6h0M316.0 152.1h0M309.0 153.1h0M308.2 152.2h0M302.1 150.9h0M310.3 144.7h0M311.6 151.7h0M312.2 150.3h0M305.1 146.9h0M309.8 144.6h0M302.4 148.2h0M303.5 151.9h0M315.2 150.0h0M297.9 147.9h0M313.1 146.1h0M310.8 149.5h0M311.4 150.7h0M296.3 148.1h0M314.9 149.7h0M313.3 145.7h0M312.0 152.8h0M312.7 151.3h0M307.1 153.5h0M316.7 148.4h0M305.7 151.0h0" stroke="#e4181d" stroke-opacity="0.17" stroke-width="1.40" stroke-linecap="round" fill="none"/>
<path d="M315.9 151.3h0M307.9 150.1h0M309.1 154.4h0M308.6 147.1h0M310.4 145.0h0M320.0 147.9h0M305.2 148.0h0M314.6 153.7h0M314.1 150.9h0M320.9 152.2h0M307.9 147.8h0M311.3 151.5h0M314.6 149.2h0M319.4 155.2h0M305.8 149.2h0M305.1 149.0h0M313.0 150.2h0M313.5 153.5h0M311.8 147.3h0M298.5 147.9h0M312.0 147.2h0M308.5 153.2h0M308.7 149.1h0M308.8 153.6h0M310.0 149.7h0M306.7 148.5h0M309.0 147.7h0M308.3 149.1h0M299.5 151.2h0M315.4 150.1h0M317.3 153.0h0M311.5 150.1h0M309.0 147.0h0M317.4 153.3h0M312.1 150.7h0M314.5 153.1h0M310.1 150.3h0M305.8 150.1h0M318.8 146.4h0M308.9 152.0h0M316.1 150.8h0M309.0 147.0h0M319.5 150.3h0M300.7 151.4h0M304.1 148.3h0M311.3 149.2h0M312.6 150.2h0M310.4 148.8h0M304.2 152.8h0M311.4 146.3h0M309.4 151.6h0M314.7 149.9h0M313.5 152.1h0M304.1 150.2h0M312.7 150.0h0M309.4 146.6h0M311.5 149.7h0M316.5 148.9h0M311.9 144.7h0" stroke="#e4181d" stroke-opacity="0.17" stroke-width="1.40" stroke-linecap="round" fill="none"/>
<path d="M316.6 149.0h0M309.1 148.5h0M309.3 151.0h0M305.3 152.2h0M309.9 152.7h0M314.0 149.6h0M317.2 145.9h0M319.2 149.0h0M320.8 153.0h0M316.7 154.1h0M313.8 149.0h0M307.6 148.0h0M308.6 149.1h0M314.9 147.4h0M315.1 151.4h0M308.5 150.0h0M306.1 147.1h0M304.2 147.2h0M303.0 152.8h0M303.8 149.8h0M312.0 148.7h0M313.3 149.5h0M305.9 149.3h0M306.0 152.1h0M313.3 151.7h0M310.7 146.6h0M304.4 150.4h0M304.2 149.6h0M315.3 142.1h0M313.3 149.7h0M308.6 148.5h0M307.5 150.4h0M311.4 149.0h0M312.3 149.3h0M317.1 152.8h0M308.3 148.3h0M300.0 149.3h0M318.1 149.9h0M310.3 148.4h0M309.1 148.6h0M312.8 150.8h0M310.3 148.3h0M313.8 148.5h0M314.2 152.2h0M310.8 151.1h0M301.1 149.7h0M310.9 148.8h0M305.4 149.4h0M312.2 153.4h0M310.5 148.5h0M313.8 148.5h0M322.0 148.3h0M316.4 151.3h0M311.4 148.9h0M309.1 154.6h0M312.8 151.6h0M307.3 150.1h0M309.8 146.5h0M307.7 153.9h0" stroke="#e4181d" stroke-opacity="0.17" stroke-width="1.40" stroke-linecap="round" fill="none"/>
<path d="M311.7 149.1h0M316.2 149.7h0M299.9 150.5h0M314.6 150.3h0M308.7 150.8h0M307.7 149.9h0M309.7 150.3h0M313.1 143.9h0M306.9 152.0h0M317.0 151.1h0M306.0 150.9h0M313.1 149.0h0M311.5 144.9h0M306.1 148.1h0M300.9 149.3h0M314.9 147.7h0M317.3 149.8h0M314.0 149.3h0M306.5 147.3h0M305.0 150.6h0M306.9 152.7h0M313.1 150.7h0M309.8 146.4h0M302.7 149.3h0M314.9 151.5h0M311.0 149.0h0M310.0 149.0h0M308.0 148.1h0M316.3 149.1h0M308.0 150.2h0M308.9 147.8h0M312.0 149.1h0M302.8 147.4h0M303.1 154.3h0M311.1 149.5h0M306.6 150.3h0M309.3 148.3h0M304.6 152.9h0M309.6 150.2h0M317.1 149.2h0M315.2 155.2h0M309.4 151.8h0M302.8 149.5h0M309.7 145.5h0M307.8 146.0h0M317.8 153.7h0M308.1 153.0h0M317.8 149.4h0M313.3 150.2h0M315.3 151.6h0M314.6 147.6h0M303.6 149.5h0M310.5 151.8h0M310.1 150.4h0M304.1 155.1h0M320.4 152.4h0M309.9 147.2h0M310.3 151.0h0M310.1 150.3h0" stroke="#e4181d" stroke-opacity="0.17" stroke-width="1.40" stroke-linecap="round" fill="none"/>
<path d="M307.2 149.2h0M314.8 148.3h0M310.3 149.2h0M326.0 152.1h0M315.4 147.2h0M308.8 150.8h0M311.3 146.3h0M308.7 146.8h0M313.8 147.5h0M312.4 151.6h0M306.0 149.6h0M310.1 151.7h0M306.6 151.8h0M307.5 150.7h0M310.9 151.6h0M307.7 151.7h0M309.2 149.9h0M307.9 147.6h0M310.9 149.5h0M309.1 148.8h0M309.2 147.2h0M315.6 154.2h0M315.8 148.1h0M314.7 154.3h0M305.4 153.5h0M313.4 147.5h0M306.1 149.9h0M315.9 148.1h0M309.3 146.1h0M309.7 154.8h0M308.0 149.8h0M310.0 145.4h0M311.2 146.2h0M319.1 144.6h0M313.2 145.3h0M314.9 147.3h0M303.4 149.8h0M312.6 149.3h0M311.4 152.3h0M308.4 149.7h0M311.0 147.9h0M314.6 146.7h0M316.5 148.3h0M307.7 151.0h0M308.1 148.3h0M314.2 149.1h0M308.8 149.9h0M306.9 148.8h0M312.1 152.2h0M304.0 147.5h0M318.5 146.7h0M312.9 154.3h0M302.6 145.5h0M304.5 150.2h0M313.7 150.2h0M310.1 147.1h0M313.9 146.7h0M309.8 147.2h0M306.6 145.9h0" stroke="#e4181d" stroke-opacity="0.17" stroke-width="1.40" stroke-linecap="round" fill="none"/>
<path d="M308.6 151.3h0M306.6 153.4h0M308.0 146.5h0M316.1 147.9h0M303.7 150.2h0M297.5 149.9h0M308.9 149.2h0M314.1 145.8h0M306.3 148.0h0M302.6 152.1h0M307.5 147.7h0M314.7 153.1h0M306.2 149.8h0M306.2 149.4h0M306.9 154.4h0M314.5 155.6h0M315.6 149.2h0M317.3 147.0h0M315.6 150.2h0M305.9 144.4h0M306.8 154.9h0M308.5 149.9h0M311.3 151.5h0M312.3 151.9h0M297.1 150.3h0M307.5 148.6h0M306.7 148.9h0M318.3 152.1h0M305.2 151.8h0M318.8 151.0h0M314.4 146.0h0M307.5 153.0h0M315.3 151.1h0M314.2 149.9h0M307.5 148.2h0M307.5 146.6h0M305.1 148.6h0M301.3 145.2h0M312.5 152.7h0M308.9 152.7h0M312.9 149.7h0M314.5 153.5h0M301.5 149.6h0M316.6 149.1h0M301.5 150.4h0M310.7 151.4h0M315.8 152.5h0M304.4 151.2h0M309.9 149.5h0M312.8 153.0h0M308.7 147.2h0M301.6 150.4h0M317.9 150.4h0M321.1 148.3h0M306.4 154.7h0M323.4 148.3h0M316.4 149.1h0M314.5 152.3h0M309.1 147.8h0" stroke="#e4181d" stroke-opacity="0.17" stroke-width="1.40" stroke-linecap="round" fill="none"/>
<path d="M308.5 150.2h0M308.6 147.2h0M302.7 150.4h0M315.4 154.3h0M311.4 149.3h0M310.4 147.5h0M319.5 152.6h0M304.9 147.2h0M297.8 151.6h0M305.2 151.1h0M308.9 147.9h0M306.6 149.1h0M310.7 151.3h0M317.3 153.6h0M310.8 153.7h0M312.6 147.9h0M310.9 149.4h0M310.6 146.5h0M317.9 152.9h0M310.4 146.8h0M305.9 151.7h0M309.2 153.1h0M307.4 145.5h0M318.5 143.9h0M311.7 148.7h0M308.3 147.5h0M311.0 151.8h0M313.2 148.5h0M306.5 149.9h0M313.0 145.0h0M303.3 148.1h0M316.9 149.8h0M309.2 153.5h0M313.5 150.8h0M310.9 149.0h0M319.7 152.0h0M302.4 149.8h0M302.7 153.8h0M314.9 152.8h0M312.8 149.8h0M313.1 152.0h0M315.4 150.7h0M308.7 150.0h0M307.4 148.0h0M303.0 145.6h0M311.0 152.7h0M308.2 150.6h0M305.3 152.3h0M311.6 149.2h0M313.7 149.6h0M310.3 153.3h0M316.2 148.3h0M305.0 148.5h0M305.1 151.7h0M316.0 152.3h0M311.0 151.9h0M298.8 146.0h0M309.6 152.0h0M310.6 145.0h0" stroke="#e4181d" stroke-opacity="0.17" stroke-width="1.40" stroke-linecap="round" fill="none"/>
<path d="M306.0 146.9h0M309.2 152.7h0M306.9 149.8h0M308.1 154.6h0M305.2 153.1h0M319.1 151.6h0M306.3 152.2h0M312.0 152.1h0M309.0 153.1h0M305.0 151.8h0M303.9 150.9h0M312.8 146.4h0M307.7 147.1h0M300.9 147.6h0M312.0 150.2h0M304.9 148.0h0M312.9 147.5h0M309.2 155.7h0M318.8 152.8h0M308.6 150.9h0M310.9 152.9h0M312.0 152.0h0M314.8 151.0h0M301.7 154.8h0M319.2 147.3h0M308.8 146.6h0M313.8 148.5h0M307.6 145.0h0M309.3 155.0h0M306.2 152.1h0M308.6 151.1h0M299.6 154.6h0M305.6 151.7h0M309.1 150.0h0M321.9 151.9h0M311.1 146.9h0M314.4 147.9h0M311.5 147.8h0M306.8 151.0h0M308.3 149.4h0M310.8 148.9h0M309.6 154.4h0M305.1 149.2h0M314.9 152.2h0M317.3 152.4h0M306.9 144.1h0M305.2 150.3h0M314.4 151.5h0M321.6 148.1h0M315.4 144.0h0M306.5 154.5h0M307.9 146.9h0M309.3 150.2h0M316.6 152.7h0M320.2 145.4h0M312.5 153.4h0M311.5 147.8h0M314.9 147.5h0M317.0 154.4h0" stroke="#e4181d" stroke-opacity="0.17" stroke-width="1.40" stroke-linecap="round" fill="none"/>
<path d="M317.1 147.5h0M309.2 148.2h0M309.1 148.7h0M306.0 147.1h0M304.3 149.3h0M311.2 149.2h0M313.2 149.7h0M305.5 154.6h0M307.3 150.2h0M311.0 151.3h0M308.6 146.3h0M303.8 151.5h0M322.3 148.2h0M308.2 153.3h0M308.5 147.1h0M310.4 150.6h0M311.1 152.6h0M322.0 148.8h0M310.4 151.4h0M315.2 151.8h0M308.7 147.6h0M314.5 148.4h0M308.8 152.9h0M322.1 151.5h0M304.4 148.7h0M312.7 151.7h0M315.9 147.1h0M311.4 149.3h0M314.4 146.7h0M316.0 149.0h0M306.3 153.8h0M308.1 152.5h0M303.5 149.2h0M309.9 152.9h0M312.0 155.7h0M305.1 148.4h0M311.6 146.2h0M315.6 153.7h0M308.3 147.9h0M318.2 149.2h0M311.5 146.8h0M308.5 146.1h0M307.4 152.2h0M301.3 153.1h0M317.0 150.3h0M298.5 147.7h0M311.6 150.0h0M315.0 149.8h0M302.8 146.7h0M307.5 147.5h0M316.9 151.0h0M313.8 152.1h0M306.4 152.5h0M307.0 149.8h0M310.6 149.2h0M305.0 148.2h0M319.0 153.6h0M309.9 145.2h0M306.3 150.8h0" stroke="#e4181d" stroke-opacity="0.17" stroke-width="1.40" stroke-linecap="round" fill="none"/>
<path d="M319.0 152.4h0M313.1 152.5h0M306.4 154.7h0M309.8 148.0h0M309.8 151.8h0M316.9 148.9h0M308.8 149.3h0M310.8 147.9h0M313.6 152.5h0M305.6 149.3h0M308.1 150.5h0M307.0 147.7h0M318.5 145.6h0M308.4 154.8h0M314.3 151.9h0M309.7 148.5h0M315.9 151.6h0M305.1 154.1h0M310.2 146.1h0M317.3 146.4h0M306.9 147.4h0M310.7 153.5h0M314.5 147.6h0M310.4 150.7h0M312.1 152.0h0M310.0 149.5h0M309.2 153.3h0M312.0 148.3h0M307.8 147.1h0M309.0 148.9h0M307.5 149.5h0M307.1 153.5h0M313.1 148.7h0M308.8 148.6h0M310.0 149.2h0M310.2 146.8h0M312.8 151.4h0M306.0 151.2h0M319.4 150.7h0M313.2 146.0h0M311.4 147.8h0M310.5 150.7h0M310.8 152.2h0M305.6 146.3h0M308.1 149.8h0M303.4 151.7h0M310.8 150.9h0M301.6 149.8h0M315.1 149.0h0M305.1 151.4h0M307.2 152.3h0M312.9 150.6h0M304.8 154.2h0M311.1 149.5h0M306.5 150.2h0M310.9 146.8h0M320.4 152.3h0M304.9 151.1h0M305.6 152.2h0" stroke="#e4181d" stroke-opacity="0.17" stroke-width="1.40" stroke-linecap="round" fill="none"/>
<path d="M307.7 149.9h0M308.1 148.4h0M305.9 149.0h0M309.4 150.4h0M313.5 151.5h0M312.1 149.6h0M307.0 152.4h0M309.9 150.3h0M314.6 149.7h0M308.8 150.3h0M308.1 151.3h0M306.6 150.2h0M304.1 145.5h0M317.8 152.2h0M311.4 152.3h0M315.0 148.1h0M308.3 148.9h0M310.1 147.6h0M309.2 152.5h0M312.4 151.2h0M313.1 151.3h0M306.4 149.6h0M307.0 149.7h0M310.1 148.1h0M308.9 148.4h0M312.5 149.5h0M305.6 148.0h0M309.4 152.2h0M312.5 147.7h0M311.0 148.3h0M311.2 152.6h0M309.1 150.4h0M310.9 150.4h0M308.9 148.3h0M312.0 149.3h0" stroke="#e4181d" stroke-opacity="0.4" stroke-width="1.40" stroke-linecap="round" fill="none"/>
<path d="M313.7 151.1h0M304.8 149.4h0M307.9 152.3h0M307.3 151.7h0M305.3 150.5h0M309.0 152.5h0M317.5 149.2h0M308.9 143.8h0M308.5 147.0h0M312.3 147.5h0M306.5 151.2h0M307.9 151.8h0M309.9 150.4h0M310.9 148.0h0M309.0 151.5h0M309.7 150.1h0M309.2 149.3h0M307.1 149.1h0M310.2 149.3h0M311.8 153.5h0M310.2 149.3h0M315.1 150.5h0M309.6 150.3h0M311.2 149.6h0M312.1 151.3h0M308.4 147.5h0M311.9 149.2h0M303.4 150.1h0M306.7 150.9h0M313.0 146.4h0M306.3 149.4h0M314.6 151.9h0M312.9 150.2h0M304.7 149.6h0M313.6 149.6h0" stroke="#e4181d" stroke-opacity="0.4" stroke-width="1.40" stroke-linecap="round" fill="none"/>
<path d="M309.1 147.5h0M305.8 146.9h0M309.8 148.4h0M316.6 152.9h0M312.4 149.6h0M305.3 153.3h0M306.5 151.4h0M308.1 149.0h0M316.1 148.0h0M306.4 150.5h0M313.4 150.7h0M302.4 151.5h0M312.7 148.9h0M308.5 149.0h0M309.8 148.5h0M307.9 148.9h0M313.5 150.8h0M308.2 148.4h0M308.2 150.3h0M309.0 152.2h0M313.5 151.8h0M308.4 150.5h0M307.9 150.0h0M308.9 146.3h0M308.3 154.4h0M309.7 149.9h0M314.1 150.6h0M308.0 153.8h0M316.4 149.8h0M309.6 149.5h0M311.3 152.1h0M310.1 149.0h0M306.5 149.4h0M313.1 151.6h0M315.7 149.6h0" stroke="#e4181d" stroke-opacity="0.4" stroke-width="1.40" stroke-linecap="round" fill="none"/>
<path d="M305.6 152.4h0M307.4 146.6h0M307.5 146.7h0M307.3 149.2h0M311.2 149.1h0M311.5 150.1h0M312.6 152.0h0M307.6 153.1h0M307.3 149.8h0M311.1 148.2h0M310.9 149.9h0M304.6 146.7h0M306.8 147.5h0M310.5 146.6h0M309.8 147.2h0M305.3 148.7h0M309.8 149.2h0M305.7 152.3h0M307.4 148.0h0M314.1 151.1h0M305.1 150.8h0M312.2 148.4h0M310.8 150.5h0M314.3 148.1h0M303.4 152.5h0M308.2 147.4h0M308.5 147.8h0M309.4 147.9h0M309.1 149.7h0M307.0 152.2h0M312.0 148.1h0M309.5 150.9h0M311.9 151.3h0M308.1 153.0h0M310.5 148.5h0" stroke="#e4181d" stroke-opacity="0.4" stroke-width="1.40" stroke-linecap="round" fill="none"/>
<path d="M311.5 150.3h0M313.9 152.4h0M307.7 151.8h0M312.1 150.4h0M309.8 150.0h0M310.3 151.3h0M314.3 147.7h0M312.6 149.9h0M313.4 150.3h0M306.8 150.5h0M312.8 148.7h0M311.5 149.6h0M312.1 149.1h0M307.6 151.6h0M309.5 150.5h0M313.7 152.8h0M314.0 151.0h0M309.1 151.9h0M310.4 151.5h0M305.0 149.9h0M303.2 152.9h0M309.7 147.3h0M311.7 151.7h0M306.9 151.0h0M309.9 150.8h0M310.4 151.0h0M311.7 147.1h0M315.5 149.0h0M310.7 149.9h0M308.9 151.0h0M310.1 151.8h0M308.6 152.2h0M306.9 152.4h0M309.4 148.4h0M306.4 150.8h0" stroke="#e4181d" stroke-opacity="0.4" stroke-width="1.40" stroke-linecap="round" fill="none"/>
<path d="M313.5 150.5h0M307.3 153.9h0M304.7 150.5h0M307.9 152.4h0M311.4 148.5h0M307.8 150.7h0M311.1 151.0h0M307.3 151.1h0M310.0 150.2h0M309.6 147.3h0M314.5 150.2h0M310.4 148.5h0M312.8 150.1h0M310.4 151.5h0M312.0 148.3h0M309.2 151.5h0M315.9 151.8h0M306.9 146.0h0M309.2 151.7h0M309.2 147.3h0M311.7 149.1h0M305.6 147.4h0M311.6 151.9h0M311.6 148.8h0M310.9 149.8h0M313.2 151.1h0M306.3 147.8h0M310.0 147.9h0M313.0 152.0h0M308.5 150.5h0M310.7 149.8h0M310.1 148.1h0M310.9 147.5h0M312.7 152.7h0M311.0 148.4h0" stroke="#e4181d" stroke-opacity="0.4" stroke-width="1.40" stroke-linecap="round" fill="none"/>
<path d="M308.0 150.0h0M311.9 145.7h0M309.7 151.7h0M311.5 152.0h0M306.8 150.8h0M307.3 146.9h0M313.5 148.6h0M308.3 152.9h0M312.4 150.1h0M307.5 152.9h0M309.1 147.2h0M307.1 148.9h0M309.2 146.8h0M312.4 148.1h0M306.3 148.9h0M311.3 150.4h0M309.4 149.2h0M308.3 151.8h0M314.5 147.9h0M309.8 151.6h0M306.4 149.7h0M312.4 150.8h0M312.4 152.7h0M310.0 150.7h0M310.9 147.8h0M314.3 152.4h0M314.8 153.3h0M311.9 150.5h0M311.5 153.0h0M308.7 150.3h0M306.7 150.5h0M315.8 145.0h0M311.3 152.0h0M308.9 148.0h0M311.6 149.5h0" stroke="#e4181d" stroke-opacity="0.4" stroke-width="1.40" stroke-linecap="round" fill="none"/>
<path d="M309.8 150.2h0M310.1 148.4h0M306.8 151.8h0M309.5 152.5h0M308.6 151.1h0M310.6 150.4h0M310.1 149.5h0M313.1 150.0h0M310.5 150.1h0M307.0 152.1h0M308.8 150.6h0M309.8 148.7h0M308.1 151.6h0M306.2 151.0h0M304.2 149.0h0M309.6 152.4h0M309.2 150.5h0M308.4 150.9h0M310.7 148.5h0M309.3 149.9h0M305.1 151.2h0M312.1 152.4h0M311.8 149.1h0M310.4 151.1h0M308.9 153.5h0M302.1 153.2h0M309.4 149.5h0M309.2 149.5h0M309.3 149.2h0M309.7 149.0h0M309.8 150.3h0M309.2 150.0h0M311.5 149.6h0M309.8 145.8h0M308.4 150.1h0" stroke="#e4181d" stroke-opacity="0.4" stroke-width="1.40" stroke-linecap="round" fill="none"/>
<path d="M317.0 151.2h0M305.2 149.7h0M314.4 154.3h0M308.7 148.2h0M308.6 147.8h0M311.8 151.2h0M309.6 149.9h0M311.7 148.8h0M306.9 152.6h0M305.7 152.9h0M313.5 147.3h0M308.8 148.6h0M308.3 151.4h0M310.1 150.3h0M317.4 150.5h0M311.6 149.8h0M312.2 151.1h0M307.0 152.7h0M308.2 150.5h0M314.1 149.1h0M308.6 147.0h0M310.1 150.6h0M316.5 152.2h0M312.2 149.5h0M302.8 152.4h0M309.7 148.3h0M312.0 152.4h0M308.4 148.9h0M318.4 146.7h0M311.2 149.9h0M314.2 152.3h0M312.8 152.2h0M307.7 152.2h0M310.1 153.0h0M311.1 151.5h0" stroke="#e4181d" stroke-opacity="0.4" stroke-width="1.40" stroke-linecap="round" fill="none"/>
<path d="M310.8 149.8h0M313.3 151.0h0M305.5 150.1h0M310.0 147.7h0M312.1 150.7h0M312.0 151.6h0M309.6 147.0h0M305.6 151.7h0M308.1 147.8h0M314.5 149.1h0M309.6 149.0h0M310.7 148.1h0M305.4 152.0h0M307.7 152.0h0M307.9 149.0h0M309.3 151.9h0M314.4 147.5h0M311.2 152.1h0M303.3 151.3h0M307.4 150.3h0M309.9 152.3h0M311.1 151.0h0M313.5 151.5h0M305.4 154.1h0M303.7 148.7h0M311.2 151.9h0M307.7 154.2h0M306.0 152.4h0M305.6 145.9h0M307.3 148.3h0M307.8 150.6h0M314.1 153.0h0M310.6 150.2h0M310.8 148.9h0" stroke="#e4181d" stroke-opacity="0.4" stroke-width="1.40" stroke-linecap="round" fill="none"/>
<path d="M328.2 121.9h0M310.0 151.8h0M325.1 123.0h0M322.4 132.5h0M325.3 121.0h0M318.3 139.2h0M324.2 119.7h0M322.7 131.0h0M329.0 120.8h0M320.7 127.0h0M322.5 121.5h0M327.0 122.2h0M318.8 130.6h0M317.8 130.3h0M321.1 126.3h0M325.6 120.8h0M316.7 127.3h0M317.1 134.6h0M321.6 122.5h0M320.4 135.0h0M316.3 134.4h0M321.7 122.8h0M319.8 136.6h0M328.6 116.3h0M322.6 134.9h0M326.6 112.4h0" stroke="#e4181d" stroke-opacity="0.119" stroke-width="1.70" stroke-linecap="round" fill="none"/>
<path d="M318.3 129.4h0M322.3 123.7h0M324.0 120.9h0M321.9 122.4h0M325.1 125.2h0M321.1 132.2h0M322.4 127.5h0M318.2 137.1h0M321.0 127.1h0M318.2 131.9h0M315.4 149.9h0M322.0 134.6h0M317.7 128.1h0M324.7 119.2h0M317.1 130.8h0M324.1 123.5h0M317.9 133.1h0M322.9 123.4h0M320.4 126.6h0M326.2 122.1h0M321.5 127.0h0M317.4 131.4h0M321.8 125.2h0M323.8 133.3h0M328.8 120.0h0M322.2 129.3h0" stroke="#e4181d" stroke-opacity="0.119" stroke-width="1.70" stroke-linecap="round" fill="none"/>
<path d="M323.9 119.9h0M319.1 136.8h0M322.1 128.6h0M326.3 124.0h0M326.9 117.3h0M321.0 136.9h0M317.0 137.9h0M323.9 124.3h0M313.5 143.6h0M326.1 120.4h0M323.1 119.5h0M317.8 138.5h0M324.2 125.0h0M318.5 137.0h0M321.6 126.2h0M326.8 126.4h0M329.2 121.6h0M325.4 123.0h0M320.5 130.9h0M315.0 135.3h0M327.6 126.3h0M316.2 132.9h0M325.3 125.3h0M318.3 129.6h0M315.4 140.6h0M327.0 126.7h0" stroke="#e4181d" stroke-opacity="0.119" stroke-width="1.70" stroke-linecap="round" fill="none"/>
<path d="M321.1 127.2h0M323.3 124.5h0M315.9 138.6h0M318.7 130.7h0M322.1 123.1h0M319.4 121.0h0M331.5 119.0h0M315.8 133.0h0M321.5 134.5h0M328.2 118.3h0M326.1 116.5h0M326.1 119.8h0M321.3 131.0h0M318.8 132.6h0M330.2 116.2h0M322.3 132.8h0M318.4 126.7h0M320.0 139.4h0M315.4 141.3h0M318.4 138.4h0M331.8 118.0h0M327.1 125.2h0M318.6 128.7h0M319.0 124.2h0M321.7 133.9h0M317.4 132.6h0" stroke="#e4181d" stroke-opacity="0.119" stroke-width="1.70" stroke-linecap="round" fill="none"/>
<path d="M321.5 129.5h0M327.8 116.1h0M322.7 127.3h0M317.1 138.2h0M318.6 139.0h0M320.4 130.9h0M325.9 128.1h0M321.8 132.8h0M318.4 137.6h0M318.6 137.5h0M312.7 147.9h0M322.6 127.7h0M321.1 132.3h0M317.6 125.6h0M324.2 123.0h0M324.5 132.2h0M316.5 134.6h0M322.8 134.6h0M320.7 132.5h0M313.7 142.9h0M309.0 144.1h0M325.4 122.2h0M322.7 119.5h0M320.5 126.9h0M322.2 128.6h0M321.2 125.8h0" stroke="#e4181d" stroke-opacity="0.119" stroke-width="1.70" stroke-linecap="round" fill="none"/>
<path d="M327.2 129.2h0M317.7 130.7h0M319.6 140.7h0M319.9 133.0h0M311.9 136.5h0M323.4 122.8h0M321.4 133.5h0M312.2 144.0h0M318.4 135.3h0M329.0 116.0h0M328.2 116.1h0M324.9 119.7h0M330.9 118.2h0M321.6 128.0h0M321.1 124.6h0M321.4 121.5h0M326.2 120.3h0M321.2 133.8h0M311.7 138.8h0M314.5 135.0h0M325.2 120.0h0M322.6 123.6h0M317.5 138.5h0M332.7 112.0h0M325.1 120.5h0M318.0 130.0h0" stroke="#e4181d" stroke-opacity="0.119" stroke-width="1.70" stroke-linecap="round" fill="none"/>
<path d="M326.4 127.2h0M318.2 136.1h0M322.0 124.3h0M323.3 125.1h0M324.4 128.6h0M320.8 124.0h0M318.0 134.0h0M323.0 121.4h0M328.8 115.9h0M324.9 118.7h0M316.6 137.2h0M320.8 129.9h0M320.7 137.5h0M314.9 141.6h0M319.6 124.0h0M323.0 127.8h0M329.8 127.0h0M318.3 133.4h0M320.5 128.0h0M315.1 133.6h0M319.0 136.1h0M321.1 125.4h0M326.2 127.9h0M311.5 145.8h0M318.7 142.9h0M327.5 127.3h0" stroke="#e4181d" stroke-opacity="0.119" stroke-width="1.70" stroke-linecap="round" fill="none"/>
<path d="M316.6 139.9h0M320.8 124.4h0M317.7 136.3h0M323.9 124.4h0M318.1 123.3h0M320.8 129.9h0M325.5 129.8h0M326.3 124.4h0M326.5 122.2h0M320.0 128.8h0M332.1 118.0h0M322.1 127.9h0M325.5 115.7h0M326.0 127.0h0M311.8 147.4h0M320.2 129.3h0M322.8 116.8h0M327.3 111.0h0M318.7 133.6h0M319.8 132.5h0M322.7 121.8h0M314.9 132.4h0M319.8 128.0h0M326.6 121.9h0M317.7 137.8h0M325.6 131.3h0" stroke="#e4181d" stroke-opacity="0.119" stroke-width="1.70" stroke-linecap="round" fill="none"/>
<path d="M328.5 113.2h0M319.7 121.4h0M320.9 125.5h0M316.1 133.6h0M313.4 140.8h0M323.2 134.3h0M320.6 128.4h0M324.2 120.5h0M317.3 134.9h0M325.5 117.5h0M325.3 118.2h0M323.2 125.5h0M328.6 120.6h0M319.5 125.8h0M316.8 136.7h0M320.7 123.8h0M327.3 120.7h0M324.6 123.4h0M324.0 120.8h0M319.1 134.9h0M319.1 117.2h0M331.4 117.8h0M320.6 127.5h0M323.4 129.6h0M325.3 127.6h0" stroke="#e4181d" stroke-opacity="0.119" stroke-width="1.70" stroke-linecap="round" fill="none"/>
<path d="M334.7 109.0h0M322.8 127.4h0M318.4 137.1h0M316.1 139.2h0M327.5 125.3h0M312.0 143.3h0M324.3 124.6h0M316.5 139.4h0M325.2 120.5h0M319.5 128.0h0M313.2 141.1h0M319.5 136.0h0M326.2 117.2h0M321.6 129.4h0M321.4 126.1h0M330.4 113.6h0M325.3 128.5h0M327.3 122.0h0M312.4 143.7h0M330.5 117.8h0M322.0 122.3h0M318.3 132.2h0M328.2 119.0h0M319.2 131.7h0M328.6 113.2h0" stroke="#e4181d" stroke-opacity="0.119" stroke-width="1.70" stroke-linecap="round" fill="none"/>
<path d="M326.5 147.3h0M341.6 151.1h0M321.4 149.5h0M327.4 152.7h0M330.1 147.2h0M322.5 149.5h0M322.7 155.4h0M329.0 148.1h0M332.5 148.7h0M323.5 148.2h0M328.8 154.7h0M316.6 149.6h0M324.8 152.1h0M334.8 152.8h0M329.8 143.4h0M326.2 149.8h0M323.2 152.7h0M322.7 147.7h0" stroke="#e4181d" stroke-opacity="0.112" stroke-width="1.70" stroke-linecap="round" fill="none"/>
<path d="M321.5 150.5h0M322.1 145.5h0M325.4 153.5h0M320.8 149.0h0M322.2 150.6h0M314.1 149.4h0M325.8 152.1h0M328.9 149.7h0M322.0 150.5h0M329.5 151.0h0M338.6 149.2h0M329.3 148.1h0M321.0 151.9h0M316.7 151.0h0M324.8 151.0h0M324.3 152.5h0M338.7 149.3h0M317.9 148.2h0" stroke="#e4181d" stroke-opacity="0.112" stroke-width="1.70" stroke-linecap="round" fill="none"/>
<path d="M332.9 153.0h0M319.4 151.3h0M331.7 153.9h0M319.1 148.1h0M315.0 150.5h0M329.7 150.5h0M329.8 153.6h0M328.0 149.5h0M323.8 155.0h0M325.6 151.6h0M343.0 147.2h0M312.5 146.1h0M334.5 149.5h0M314.7 151.9h0M326.2 150.2h0M317.2 147.4h0M320.4 149.3h0M328.2 150.2h0" stroke="#e4181d" stroke-opacity="0.112" stroke-width="1.70" stroke-linecap="round" fill="none"/>
<path d="M319.8 152.3h0M330.5 151.1h0M331.1 148.1h0M329.4 150.3h0M330.1 144.9h0M317.3 147.9h0M323.7 147.8h0M311.0 146.0h0M324.9 155.3h0M320.5 149.1h0M320.1 152.3h0M334.9 149.4h0M319.3 149.2h0M324.5 148.9h0M324.8 153.5h0M322.8 147.6h0M329.1 152.3h0M310.1 149.7h0" stroke="#e4181d" stroke-opacity="0.112" stroke-width="1.70" stroke-linecap="round" fill="none"/>
<path d="M322.3 151.5h0M329.9 148.5h0M332.2 152.4h0M322.6 150.7h0M309.3 149.3h0M313.3 146.6h0M333.0 152.3h0M323.3 144.6h0M329.0 146.9h0M329.1 155.0h0M315.5 152.3h0M320.6 153.1h0M313.7 148.6h0M320.8 149.4h0M328.5 149.3h0M320.8 153.0h0M319.3 151.2h0M323.9 147.4h0" stroke="#e4181d" stroke-opacity="0.112" stroke-width="1.70" stroke-linecap="round" fill="none"/>
<path d="M332.2 153.6h0M336.8 147.2h0M325.1 151.1h0M317.0 149.0h0M325.1 150.3h0M326.6 150.7h0M321.4 152.7h0M315.6 155.0h0M325.9 150.1h0M325.6 150.1h0M328.5 151.6h0M324.7 146.3h0M317.7 149.6h0M325.9 147.6h0M324.3 155.2h0M310.4 151.4h0M325.7 152.9h0M325.8 151.3h0" stroke="#e4181d" stroke-opacity="0.112" stroke-width="1.70" stroke-linecap="round" fill="none"/>
<path d="M322.3 150.6h0M329.4 149.3h0M323.7 146.9h0M315.7 146.3h0M318.2 151.4h0M319.7 149.5h0M325.8 149.9h0M330.6 148.9h0M335.7 153.2h0M334.9 150.2h0M317.6 150.9h0M322.9 147.8h0M323.3 151.3h0M326.3 150.6h0M320.0 148.7h0M316.9 149.4h0M323.1 149.5h0M318.8 146.6h0" stroke="#e4181d" stroke-opacity="0.112" stroke-width="1.70" stroke-linecap="round" fill="none"/>
<path d="M328.8 149.0h0M314.3 152.2h0M325.3 151.9h0M316.6 147.3h0M326.7 148.2h0M320.4 151.5h0M338.4 151.3h0M328.1 144.5h0M343.3 148.4h0M334.8 150.6h0M332.3 149.9h0M324.6 147.7h0M326.7 151.1h0M329.5 149.9h0M328.1 150.4h0M322.0 147.5h0M320.0 146.7h0" stroke="#e4181d" stroke-opacity="0.112" stroke-width="1.70" stroke-linecap="round" fill="none"/>
<path d="M326.5 151.4h0M324.0 151.7h0M323.4 144.5h0M336.6 153.4h0M337.1 150.6h0M330.2 148.6h0M328.0 149.2h0M327.6 152.4h0M319.8 150.9h0M333.8 150.5h0M332.9 150.1h0M326.4 151.1h0M325.6 150.7h0M332.8 150.8h0M328.0 153.4h0M315.7 150.2h0M327.8 151.8h0" stroke="#e4181d" stroke-opacity="0.112" stroke-width="1.70" stroke-linecap="round" fill="none"/>
<path d="M314.7 148.4h0M334.6 150.4h0M320.5 152.7h0M334.5 148.6h0M330.9 154.6h0M322.8 147.0h0M327.2 152.6h0M327.2 146.8h0M336.9 147.5h0M319.6 147.9h0M328.2 149.2h0M322.0 149.5h0M318.1 151.6h0M316.4 151.5h0M333.7 151.1h0M305.5 144.7h0M333.7 150.7h0" stroke="#e4181d" stroke-opacity="0.112" stroke-width="1.70" stroke-linecap="round" fill="none"/>
<path d="M305.0 135.3h0M314.7 135.3h0M308.4 144.8h0M305.7 131.2h0M314.4 127.8h0M306.5 125.4h0M310.1 127.3h0M301.0 133.8h0M307.0 141.5h0M302.4 137.1h0M312.4 137.5h0" stroke="#e4181d" stroke-opacity="0.084" stroke-width="1.70" stroke-linecap="round" fill="none"/>
<path d="M305.4 141.7h0M315.7 130.7h0M311.5 122.4h0M306.9 137.3h0M316.5 130.4h0M297.6 137.4h0M304.0 141.8h0M304.6 127.0h0M293.5 127.4h0M308.0 137.3h0M310.8 140.0h0" stroke="#e4181d" stroke-opacity="0.084" stroke-width="1.70" stroke-linecap="round" fill="none"/>
<path d="M307.8 129.0h0M314.7 126.1h0M301.7 138.0h0M317.3 140.8h0M309.3 139.4h0M311.3 127.2h0M311.3 142.3h0M316.3 131.1h0M301.4 133.6h0M305.1 130.0h0M302.0 140.1h0" stroke="#e4181d" stroke-opacity="0.084" stroke-width="1.70" stroke-linecap="round" fill="none"/>
<path d="M311.5 130.8h0M306.0 132.5h0M304.6 138.2h0M318.1 133.9h0M312.5 126.2h0M312.6 121.8h0M298.9 128.8h0M303.4 136.7h0M314.0 130.1h0M311.7 137.0h0M308.3 129.0h0" stroke="#e4181d" stroke-opacity="0.084" stroke-width="1.70" stroke-linecap="round" fill="none"/>
<path d="M311.0 134.5h0M304.0 140.1h0M322.2 130.2h0M297.1 133.8h0M307.9 139.7h0M320.9 137.0h0M294.0 124.3h0M317.0 136.4h0M302.3 140.1h0M289.9 138.3h0M305.2 135.4h0" stroke="#e4181d" stroke-opacity="0.084" stroke-width="1.70" stroke-linecap="round" fill="none"/>
<path d="M314.2 129.0h0M303.4 135.8h0M320.1 133.6h0M304.5 129.0h0M306.2 133.6h0M297.1 136.6h0M304.7 128.7h0M301.6 136.2h0M309.2 136.6h0M302.4 137.4h0M309.0 140.8h0" stroke="#e4181d" stroke-opacity="0.084" stroke-width="1.70" stroke-linecap="round" fill="none"/>
<path d="M311.2 136.1h0M318.0 138.1h0M298.2 134.5h0M303.9 133.7h0M307.4 142.2h0M306.8 131.7h0M300.5 130.5h0M313.6 135.9h0M312.0 130.3h0M316.4 132.6h0M308.1 131.4h0" stroke="#e4181d" stroke-opacity="0.084" stroke-width="1.70" stroke-linecap="round" fill="none"/>
<path d="M301.6 137.5h0M304.5 130.3h0M312.3 131.1h0M307.3 138.6h0M303.7 129.3h0M304.8 132.9h0M305.9 138.2h0M310.9 131.6h0M308.3 130.7h0M301.2 135.3h0M320.1 132.3h0" stroke="#e4181d" stroke-opacity="0.084" stroke-width="1.70" stroke-linecap="round" fill="none"/>
<path d="M320.4 135.8h0M295.0 135.9h0M316.4 129.6h0M301.5 139.7h0M300.4 131.4h0M306.4 129.5h0M310.3 125.2h0M306.6 125.6h0M302.7 134.7h0M307.5 136.8h0M302.0 138.7h0" stroke="#e4181d" stroke-opacity="0.084" stroke-width="1.70" stroke-linecap="round" fill="none"/>
<path d="M302.4 133.2h0M312.2 139.5h0M305.8 138.6h0M307.2 137.7h0M305.6 135.7h0M303.6 136.8h0M315.9 132.3h0M302.7 128.3h0M309.6 127.6h0M298.5 135.2h0M304.5 130.1h0" stroke="#e4181d" stroke-opacity="0.084" stroke-width="1.70" stroke-linecap="round" fill="none"/>
<rect x="285.30" y="105.60" width="62.60" height="50.70" fill="none" stroke="#8a8a8a" stroke-width="0.6"/>
<line x1="285.30" y1="105.60" x2="285.30" y2="156.30" stroke="#777" stroke-width="0.8"/>
<line x1="285.30" y1="156.30" x2="347.90" y2="156.30" stroke="#777" stroke-width="0.8"/>
<line x1="316.80" y1="105.60" x2="316.80" y2="156.30" stroke="#555" stroke-width="0.7"/>
<line x1="285.30" y1="142.40" x2="347.90" y2="142.40" stroke="#555" stroke-width="0.7"/>
<line x1="284.10" y1="105.90" x2="285.30" y2="105.90" stroke="#777" stroke-width="0.6"/>
<line x1="284.10" y1="118.20" x2="285.30" y2="118.20" stroke="#777" stroke-width="0.6"/>
<line x1="284.10" y1="131.20" x2="285.30" y2="131.20" stroke="#777" stroke-width="0.6"/>
<line x1="284.10" y1="144.50" x2="285.30" y2="144.50" stroke="#777" stroke-width="0.6"/>
<text x="271.12" y="107.96" font-size="6.0">10<tspan font-size="3.60" dx="0.3" dy="-3.00">3</tspan></text>
<text x="271.12" y="120.26" font-size="6.0">10<tspan font-size="3.60" dx="0.3" dy="-3.00">2</tspan></text>
<text x="271.12" y="133.26" font-size="6.0">10<tspan font-size="3.60" dx="0.3" dy="-3.00">1</tspan></text>
<text x="271.12" y="146.56" font-size="6.0">10<tspan font-size="3.60" dx="0.3" dy="-3.00">0</tspan></text>
<text x="295.81" y="166.16" font-size="6.0">10<tspan font-size="3.60" dx="0.3" dy="-3.00">0</tspan></text>
<text x="311.11" y="166.16" font-size="6.0">10<tspan font-size="3.60" dx="0.3" dy="-3.00">1</tspan></text>
<text x="326.71" y="166.16" font-size="6.0">10<tspan font-size="3.60" dx="0.3" dy="-3.00">2</tspan></text>
<text x="342.21" y="166.16" font-size="6.0">10<tspan font-size="3.60" dx="0.3" dy="-3.00">3</tspan></text>
<text x="326.80" y="111.20" font-size="6.405" textLength="20.20" lengthAdjust="spacingAndGlyphs">10.01%</text>
<text x="327.70" y="154.50" font-size="6.405" textLength="19.90" lengthAdjust="spacingAndGlyphs">13.98%</text>
<text x="215.30" y="27.40" font-size="8.6" textLength="15.30" lengthAdjust="spacingAndGlyphs">LP-1</text>
<text x="305.50" y="27.20" font-size="8.6" textLength="19.60" lengthAdjust="spacingAndGlyphs">U266</text>
<text x="351.00" y="60.67" font-size="6.300000000000001" textLength="20.00" lengthAdjust="spacingAndGlyphs">Control</text>
<text x="351.40" y="133.67" font-size="6.300000000000001" textLength="19.60" lengthAdjust="spacingAndGlyphs">CL-Exo</text>
<line x1="171.50" y1="30.10" x2="171.50" y2="155.80" stroke="#333" stroke-width="1.2"/>
<text transform="translate(166.91,100.90) rotate(-90)" font-size="7.0200000000000005" font-weight="bold" style="stroke-width:0.18px" textLength="15.00" lengthAdjust="spacingAndGlyphs">7-AAD</text>
<line x1="192.50" y1="170.50" x2="348.10" y2="170.50" stroke="#333" stroke-width="1.2"/>
<text x="258.50" y="179.87" font-size="7.7700000000000005" font-weight="bold" style="stroke-width:0.18px" textLength="24.20" lengthAdjust="spacingAndGlyphs">Annexin V</text>
<text x="450.20" y="18.10" font-size="8.6" textLength="19.60" lengthAdjust="spacingAndGlyphs">U266</text>
<line x1="410.50" y1="23.80" x2="410.50" y2="86.00" stroke="#231f20" stroke-width="1.0"/>
<line x1="408.20" y1="26.50" x2="410.20" y2="26.50" stroke="#231f20" stroke-width="1.0"/>
<text x="405.20" y="28.17" font-size="6.300000000000001" text-anchor="end">30</text>
<line x1="408.20" y1="45.50" x2="410.20" y2="45.50" stroke="#231f20" stroke-width="1.0"/>
<text x="405.20" y="48.07" font-size="6.300000000000001" text-anchor="end">20</text>
<line x1="408.20" y1="65.50" x2="410.20" y2="65.50" stroke="#231f20" stroke-width="1.0"/>
<text x="405.20" y="67.97" font-size="6.300000000000001" text-anchor="end">10</text>
<line x1="408.20" y1="85.50" x2="410.20" y2="85.50" stroke="#231f20" stroke-width="1.0"/>
<text x="405.20" y="87.77" font-size="6.300000000000001" text-anchor="end">0</text>
<rect x="424.85" y="77.95" width="27.60" height="7.65" fill="#c8102e" stroke="#9c0c23" stroke-width="0.5"/>
<rect x="467.85" y="36.75" width="27.30" height="48.85" fill="#1a4a82" stroke="#143965" stroke-width="0.5"/>
<line x1="438.50" y1="77.70" x2="438.50" y2="71.50" stroke="#231f20" stroke-width="1.0"/>
<line x1="432.00" y1="71.50" x2="445.40" y2="71.50" stroke="#231f20" stroke-width="1.0"/>
<line x1="481.50" y1="36.50" x2="481.50" y2="32.50" stroke="#231f20" stroke-width="1.0"/>
<line x1="474.20" y1="32.50" x2="489.00" y2="32.50" stroke="#231f20" stroke-width="1.0"/>
<line x1="410.20" y1="85.50" x2="510.00" y2="85.50" stroke="#231f20" stroke-width="1.0"/>
<line x1="438.50" y1="85.60" x2="438.50" y2="87.90" stroke="#231f20" stroke-width="1.0"/>
<line x1="481.50" y1="85.60" x2="481.50" y2="87.90" stroke="#231f20" stroke-width="1.0"/>
<text x="481.60" y="31.37" font-size="6.300000000000001" text-anchor="middle">***</text>
<text x="429.00" y="96.77" font-size="6.300000000000001" textLength="19.30" lengthAdjust="spacingAndGlyphs">Control</text>
<text x="471.90" y="96.77" font-size="6.300000000000001" textLength="19.10" lengthAdjust="spacingAndGlyphs">CL-Exo</text>
<text transform="translate(392.01,72.00) rotate(-90)" font-size="7.0200000000000005" font-weight="bold" style="stroke-width:0.18px" textLength="35.00" lengthAdjust="spacingAndGlyphs">Apoptosis (%)</text>
<text x="452.10" y="120.20" font-size="8.6" textLength="15.40" lengthAdjust="spacingAndGlyphs">LP-1</text>
<line x1="409.50" y1="125.40" x2="409.50" y2="187.80" stroke="#231f20" stroke-width="1.0"/>
<line x1="407.80" y1="127.50" x2="409.80" y2="127.50" stroke="#231f20" stroke-width="1.0"/>
<text x="404.80" y="129.87" font-size="6.300000000000001" text-anchor="end">30</text>
<line x1="407.80" y1="147.50" x2="409.80" y2="147.50" stroke="#231f20" stroke-width="1.0"/>
<text x="404.80" y="149.77" font-size="6.300000000000001" text-anchor="end">20</text>
<line x1="407.80" y1="167.50" x2="409.80" y2="167.50" stroke="#231f20" stroke-width="1.0"/>
<text x="404.80" y="169.67" font-size="6.300000000000001" text-anchor="end">10</text>
<line x1="407.80" y1="187.50" x2="409.80" y2="187.50" stroke="#231f20" stroke-width="1.0"/>
<text x="404.80" y="189.57" font-size="6.300000000000001" text-anchor="end">0</text>
<rect x="424.85" y="181.25" width="27.60" height="6.15" fill="#c8102e" stroke="#9c0c23" stroke-width="0.5"/>
<rect x="467.85" y="140.05" width="27.30" height="47.35" fill="#1a4a82" stroke="#143965" stroke-width="0.5"/>
<line x1="438.50" y1="181.00" x2="438.50" y2="176.30" stroke="#231f20" stroke-width="1.0"/>
<line x1="432.00" y1="176.50" x2="445.40" y2="176.50" stroke="#231f20" stroke-width="1.0"/>
<line x1="481.50" y1="139.80" x2="481.50" y2="133.00" stroke="#231f20" stroke-width="1.0"/>
<line x1="474.20" y1="133.50" x2="489.00" y2="133.50" stroke="#231f20" stroke-width="1.0"/>
<line x1="409.80" y1="187.50" x2="510.00" y2="187.50" stroke="#231f20" stroke-width="1.0"/>
<line x1="438.50" y1="187.40" x2="438.50" y2="189.70" stroke="#231f20" stroke-width="1.0"/>
<line x1="481.50" y1="187.40" x2="481.50" y2="189.70" stroke="#231f20" stroke-width="1.0"/>
<text x="481.60" y="133.07" font-size="6.300000000000001" text-anchor="middle">***</text>
<text x="429.00" y="198.67" font-size="6.300000000000001" textLength="19.30" lengthAdjust="spacingAndGlyphs">Control</text>
<text x="471.90" y="198.67" font-size="6.300000000000001" textLength="19.10" lengthAdjust="spacingAndGlyphs">CL-Exo</text>
<text transform="translate(392.01,173.70) rotate(-90)" font-size="7.0200000000000005" font-weight="bold" style="stroke-width:0.18px" textLength="35.10" lengthAdjust="spacingAndGlyphs">Apoptosis (%)</text>
<text x="68.80" y="260.30" font-size="8.6" textLength="15.40" lengthAdjust="spacingAndGlyphs">LP-1</text>
<path d="M69.7,316.2L69.7,316.2L69.9,308.8L70.0,308.8L70.2,308.8L70.4,308.8L70.6,308.8L70.7,308.8L70.9,308.8L71.1,308.8L71.3,308.8L71.4,308.7L71.6,308.7L71.8,308.7L71.9,308.7L72.1,308.7L72.3,308.7L72.5,308.7L72.6,308.7L72.8,308.7L73.0,308.7L73.1,308.7L73.3,308.7L73.5,308.7L73.7,308.7L73.8,308.7L74.0,308.7L74.2,308.7L74.3,308.7L74.5,308.7L74.7,308.6L74.9,308.6L75.0,308.6L75.2,308.6L75.4,308.6L75.6,308.6L75.7,308.6L75.9,308.6L76.1,308.6L76.2,308.6L76.4,308.6L76.6,308.6L76.8,308.6L76.9,308.6L77.1,308.6L77.3,308.6L77.4,308.6L77.6,308.6L77.8,308.6L78.0,308.5L78.1,308.5L78.3,308.5L78.5,308.5L78.6,308.5L78.8,308.5L79.0,308.5L79.2,308.5L79.3,308.5L79.5,308.5L79.7,308.5L79.9,308.5L80.0,308.5L80.2,308.5L80.4,308.5L80.5,308.5L80.7,308.5L80.9,308.5L81.1,308.4L81.2,308.4L81.4,308.4L81.6,308.4L81.7,308.4L81.9,308.4L82.1,308.4L82.3,308.4L82.4,308.4L82.6,308.4L82.8,308.4L82.9,308.4L83.1,308.4L83.3,308.4L83.5,308.4L83.6,308.4L83.8,308.4L84.0,308.4L84.2,308.4L84.3,308.3L84.5,308.3L84.7,308.3L84.8,308.3L85.0,308.3L85.2,308.3L85.4,308.3L85.5,308.3L85.7,308.3L85.9,308.3L86.0,308.3L86.2,308.3L86.4,308.3L86.6,308.3L86.7,308.3L86.9,308.3L87.1,308.3L87.2,308.3L87.4,308.2L87.6,308.2L87.8,308.2L87.9,308.2L88.1,308.2L88.3,308.2L88.5,308.2L88.6,308.2L88.8,308.2L89.0,308.2L89.1,316.2L89.1,316.2Z" fill="#e0147a"/>
<path d="M62.0,316.2L62.0,316.2L62.1,316.1L62.3,315.8L62.5,315.4L62.7,314.8L62.8,314.1L63.0,313.2L63.2,312.3L63.3,311.2L63.5,309.9L63.7,308.6L63.9,307.1L64.0,305.6L64.2,303.9L64.4,302.1L64.5,300.2L64.7,298.2L64.9,296.1L65.1,293.9L65.2,291.6L65.4,289.2L65.6,286.6L65.7,284.0L65.9,281.3L66.1,278.5L66.3,275.6L66.4,272.6L66.6,269.8L66.8,272.7L67.0,275.4L67.1,278.1L67.3,280.7L67.5,283.2L67.6,285.6L67.8,288.0L68.0,290.3L68.2,292.4L68.3,294.5L68.5,296.5L68.7,298.5L68.8,300.3L69.0,302.0L69.2,303.7L69.4,305.2L69.5,306.7L69.7,308.1L69.9,309.4L70.0,310.5L70.2,311.6L70.4,312.6L70.6,313.5L70.7,314.2L70.9,314.9L71.1,315.4L71.3,315.8L71.4,316.1L71.6,316.2L86.4,316.2L86.6,316.2L86.7,316.0L86.9,315.9L87.1,315.6L87.2,315.4L87.4,315.1L87.6,314.9L87.8,314.6L87.9,314.3L88.1,314.0L88.3,313.7L88.5,313.5L88.6,313.2L88.8,312.9L89.0,312.7L89.1,312.4L89.3,312.2L89.5,312.0L89.7,311.8L89.8,311.6L90.0,311.4L90.2,311.3L90.3,311.1L90.5,311.0L90.7,310.9L90.9,310.8L91.0,310.8L91.2,310.7L91.4,310.7L91.5,310.7L91.7,310.7L91.9,310.7L92.1,310.8L92.2,310.8L92.4,310.9L92.6,311.0L92.8,311.1L92.9,311.2L93.1,311.4L93.3,311.5L93.4,311.7L93.6,311.9L93.8,312.1L94.0,312.3L94.1,312.5L94.3,312.7L94.5,312.9L94.6,313.2L94.8,313.4L95.0,313.7L95.2,313.9L95.3,314.2L95.5,314.4L95.7,314.7L95.8,314.9L96.0,315.2L96.2,315.4L96.4,315.6L96.5,315.8L96.7,316.0L96.9,316.2L97.1,316.2L97.1,316.2Z" fill="#1d4a80"/>
<path d="M62.1,316.1L62.3,315.8L62.5,315.4L62.7,314.8L62.8,314.1L63.0,313.2L63.2,312.3L63.3,311.2L63.5,309.9L63.7,308.6L63.9,307.1L64.0,305.6L64.2,303.9L64.4,302.1L64.5,300.2L64.7,298.2L64.9,296.1L65.1,293.9L65.2,291.6L65.4,289.1L65.6,286.3L65.7,283.3L65.9,280.2L66.1,277.0L66.3,273.8L66.4,270.4L66.6,267.3L66.8,270.5L67.0,273.6L67.1,276.6L67.3,279.6L67.5,282.5L67.6,285.3L67.8,288.0L68.0,290.3L68.2,292.4L68.3,294.5L68.5,296.5L68.7,298.5L68.8,300.3L69.0,302.0L69.2,303.7L69.4,305.2L69.5,306.7L69.7,308.1L69.9,308.8L70.0,308.8L70.2,308.8L70.4,308.8L70.6,308.8L70.7,308.8L70.9,308.8L71.1,308.8L71.3,308.8L71.4,308.7L71.6,308.7L71.8,308.7L71.9,308.7L72.1,308.7L72.3,308.7L72.5,308.7L72.6,308.7L72.8,308.7L73.0,308.7L73.1,308.7L73.3,308.7L73.5,308.7L73.7,308.7L73.8,308.7L74.0,308.7L74.2,308.7L74.3,308.7L74.5,308.7L74.7,308.6L74.9,308.6L75.0,308.6L75.2,308.6L75.4,308.6L75.6,308.6L75.7,308.6L75.9,308.6L76.1,308.6L76.2,308.6L76.4,308.6L76.6,308.6L76.8,308.6L76.9,308.6L77.1,308.6L77.3,308.6L77.4,308.6L77.6,308.6L77.8,308.6L78.0,308.5L78.1,308.5L78.3,308.5L78.5,308.5L78.6,308.5L78.8,308.5L79.0,308.5L79.2,308.5L79.3,308.5L79.5,308.5L79.7,308.5L79.9,308.5L80.0,308.5L80.2,308.5L80.4,308.5L80.5,308.5L80.7,308.5L80.9,308.5L81.1,308.4L81.2,308.4L81.4,308.4L81.6,308.4L81.7,308.4L81.9,308.4L82.1,308.4L82.3,308.4L82.4,308.4L82.6,308.4L82.8,308.4L82.9,308.4L83.1,308.4L83.3,308.4L83.5,308.4L83.6,308.4L83.8,308.4L84.0,308.4L84.2,308.4L84.3,308.3L84.5,308.3L84.7,308.3L84.8,308.3L85.0,308.3L85.2,308.3L85.4,308.3L85.5,308.3L85.7,308.3L85.9,308.2L86.0,308.0L86.2,307.8L86.4,307.6L86.6,307.4L86.7,307.2L86.9,307.0L87.1,306.8L87.2,306.6L87.4,306.4L87.6,306.2L87.8,306.0L87.9,305.8L88.1,305.6L88.3,305.4L88.5,305.2L88.6,305.0L88.8,304.8L89.0,304.6L89.1,308.7L89.3,308.3L89.5,307.8L89.7,307.4L89.8,307.1L90.0,307.2L90.2,307.3L90.3,307.5L90.5,307.6L90.7,307.7L90.9,307.9L91.0,308.1L91.2,308.3L91.4,308.6L91.5,308.8L91.7,309.1L91.9,309.4L92.1,309.7L92.2,310.0L92.4,310.3L92.6,310.7L92.8,311.0L92.9,311.2L93.1,311.4L93.3,311.5L93.4,311.7L93.6,311.9L93.8,312.1L94.0,312.3L94.1,312.5L94.3,312.7L94.5,312.9L94.6,313.2L94.8,313.4L95.0,313.7L95.2,313.9L95.3,314.2L95.5,314.4L95.7,314.7L95.8,314.9L96.0,315.2L96.2,315.4L96.4,315.6L96.5,315.8L96.7,316.0" fill="none" stroke="#8c8c8c" stroke-width="0.55" stroke-opacity="0.9"/>
<line x1="42.50" y1="264.20" x2="42.50" y2="316.60" stroke="#231f20" stroke-width="1.0"/>
<line x1="40.20" y1="267.50" x2="42.70" y2="267.50" stroke="#231f20" stroke-width="1.0"/>
<text x="36.20" y="269.46" font-size="6.510000000000001" text-anchor="end">540</text>
<line x1="40.20" y1="275.50" x2="42.70" y2="275.50" stroke="#231f20" stroke-width="1.0"/>
<text x="36.20" y="277.62" font-size="6.510000000000001" text-anchor="end">450</text>
<line x1="40.20" y1="283.50" x2="42.70" y2="283.50" stroke="#231f20" stroke-width="1.0"/>
<text x="36.20" y="285.79" font-size="6.510000000000001" text-anchor="end">360</text>
<line x1="40.20" y1="291.50" x2="42.70" y2="291.50" stroke="#231f20" stroke-width="1.0"/>
<text x="36.20" y="293.95" font-size="6.510000000000001" text-anchor="end">270</text>
<line x1="40.20" y1="299.50" x2="42.70" y2="299.50" stroke="#231f20" stroke-width="1.0"/>
<text x="36.20" y="302.11" font-size="6.510000000000001" text-anchor="end">180</text>
<line x1="40.20" y1="308.50" x2="42.70" y2="308.50" stroke="#231f20" stroke-width="1.0"/>
<text x="36.20" y="310.28" font-size="6.510000000000001" text-anchor="end">90</text>
<line x1="42.30" y1="316.50" x2="111.50" y2="316.50" stroke="#231f20" stroke-width="1.0"/>
<line x1="42.50" y1="316.20" x2="42.50" y2="318.20" stroke="#231f20" stroke-width="1.0"/>
<text x="42.60" y="327.84" font-size="6.510000000000001" text-anchor="middle">0</text>
<line x1="54.50" y1="316.20" x2="54.50" y2="318.20" stroke="#231f20" stroke-width="1.0"/>
<text x="54.68" y="327.84" font-size="6.510000000000001" text-anchor="middle">32</text>
<line x1="66.50" y1="316.20" x2="66.50" y2="318.20" stroke="#231f20" stroke-width="1.0"/>
<text x="66.76" y="327.84" font-size="6.510000000000001" text-anchor="middle">64</text>
<line x1="78.50" y1="316.20" x2="78.50" y2="318.20" stroke="#231f20" stroke-width="1.0"/>
<text x="78.84" y="327.84" font-size="6.510000000000001" text-anchor="middle">96</text>
<line x1="90.50" y1="316.20" x2="90.50" y2="318.20" stroke="#231f20" stroke-width="1.0"/>
<text x="90.92" y="327.84" font-size="6.510000000000001" text-anchor="middle">128</text>
<line x1="103.50" y1="316.20" x2="103.50" y2="318.20" stroke="#231f20" stroke-width="1.0"/>
<text x="103.00" y="327.84" font-size="6.510000000000001" text-anchor="middle">160</text>
<text x="167.10" y="259.90" font-size="8.6" textLength="19.10" lengthAdjust="spacingAndGlyphs">U266</text>
<path d="M170.9,316.2L170.9,316.2L171.1,313.2L171.2,313.2L171.4,313.2L171.6,313.3L171.7,313.3L171.9,313.3L172.1,313.3L172.3,313.3L172.4,313.4L172.6,313.4L172.8,313.4L172.9,313.4L173.1,313.4L173.3,313.4L173.5,313.5L173.6,313.5L173.8,313.5L174.0,313.5L174.1,313.5L174.3,313.6L174.5,313.6L174.6,313.6L174.8,313.6L175.0,313.6L175.2,313.6L175.3,313.7L175.5,313.7L175.7,313.7L175.8,313.7L176.0,313.7L176.2,313.8L176.4,313.8L176.5,313.8L176.7,313.8L176.9,313.8L177.0,313.8L177.2,313.9L177.4,313.9L177.6,313.9L177.7,313.9L177.9,313.9L178.1,314.0L178.2,314.0L178.4,314.0L178.6,314.0L178.8,314.0L178.9,314.0L179.1,314.1L179.3,314.1L179.4,314.1L179.6,314.1L179.8,314.1L179.9,314.2L180.1,314.2L180.3,314.2L180.5,314.2L180.6,314.2L180.8,314.3L181.0,314.3L181.1,314.3L181.3,314.3L181.5,314.3L181.7,314.3L181.8,314.4L182.0,314.4L182.2,314.4L182.3,314.4L182.5,314.4L182.7,314.5L182.9,314.5L183.0,314.5L183.2,314.5L183.4,314.5L183.5,314.5L183.7,314.6L183.9,314.6L184.1,314.6L184.2,314.6L184.4,314.6L184.6,314.7L184.7,314.7L184.9,314.7L185.1,316.2L185.1,316.2Z" fill="#e0147a"/>
<path d="M161.7,316.2L161.7,316.2L161.8,316.1L162.0,315.9L162.2,315.5L162.3,315.0L162.5,314.4L162.7,313.8L162.8,313.0L163.0,312.1L163.2,311.2L163.4,310.2L163.5,309.1L163.7,307.9L163.9,306.7L164.0,305.4L164.2,304.0L164.4,302.6L164.6,301.1L164.7,299.5L164.9,297.8L165.1,296.1L165.2,294.4L165.4,292.6L165.6,290.7L165.8,288.8L165.9,286.8L166.1,284.7L166.3,282.6L166.4,280.4L166.6,278.2L166.8,275.9L167.0,273.6L167.1,271.2L167.3,268.8L167.5,271.2L167.6,273.8L167.8,276.3L168.0,278.8L168.2,281.1L168.3,283.4L168.5,285.7L168.7,287.9L168.8,290.0L169.0,292.0L169.2,294.0L169.3,295.9L169.5,297.7L169.7,299.5L169.9,301.2L170.0,302.8L170.2,304.3L170.4,305.8L170.5,307.2L170.7,308.5L170.9,309.7L171.1,310.8L171.2,311.9L171.4,312.8L171.6,313.7L171.7,314.4L171.9,315.0L172.1,315.5L172.3,315.9L172.4,316.2L172.6,316.2L183.9,316.2L184.1,316.2L184.2,316.1L184.4,315.9L184.6,315.7L184.7,315.6L184.9,315.4L185.1,315.1L185.2,314.9L185.4,314.7L185.6,314.5L185.8,314.2L185.9,314.0L186.1,313.7L186.3,313.5L186.4,313.2L186.6,313.0L186.8,312.8L187.0,312.5L187.1,312.3L187.3,312.1L187.5,311.9L187.6,311.7L187.8,311.5L188.0,311.3L188.2,311.1L188.3,311.0L188.5,310.8L188.7,310.7L188.8,310.6L189.0,310.4L189.2,310.3L189.4,310.3L189.5,310.2L189.7,310.1L189.9,310.1L190.0,310.0L190.2,310.0L190.4,310.0L190.6,310.0L190.7,310.0L190.9,310.0L191.1,310.1L191.2,310.1L191.4,310.2L191.6,310.2L191.7,310.3L191.9,310.4L192.1,310.5L192.3,310.6L192.4,310.7L192.6,310.8L192.8,311.0L192.9,311.1L193.1,311.2L193.3,311.4L193.5,311.6L193.6,311.7L193.8,311.9L194.0,312.1L194.1,312.3L194.3,312.5L194.5,312.7L194.7,312.9L194.8,313.1L195.0,313.3L195.2,313.5L195.3,313.7L195.5,313.9L195.7,314.1L195.9,314.3L196.0,314.5L196.2,314.8L196.4,315.0L196.5,315.1L196.7,315.3L196.9,315.5L197.0,315.7L197.2,315.8L197.4,316.0L197.6,316.1L197.7,316.2L197.9,316.2L197.9,316.2Z" fill="#1d4a80"/>
<path d="M161.8,316.1L162.0,315.9L162.2,315.5L162.3,315.0L162.5,314.4L162.7,313.8L162.8,313.0L163.0,312.1L163.2,311.2L163.4,310.2L163.5,309.1L163.7,307.9L163.9,306.7L164.0,305.4L164.2,304.0L164.4,302.6L164.6,301.1L164.7,299.5L164.9,297.8L165.1,296.1L165.2,294.4L165.4,292.6L165.6,290.7L165.8,288.8L165.9,286.8L166.1,284.7L166.3,282.6L166.4,280.3L166.6,278.0L166.8,275.6L167.0,273.2L167.1,270.7L167.3,268.2L167.5,270.7L167.6,273.4L167.8,276.0L168.0,278.6L168.2,281.0L168.3,283.4L168.5,285.7L168.7,287.9L168.8,290.0L169.0,292.0L169.2,294.0L169.3,295.9L169.5,297.7L169.7,299.5L169.9,301.2L170.0,302.8L170.2,304.3L170.4,305.8L170.5,307.2L170.7,308.5L170.9,309.7L171.1,310.8L171.2,311.9L171.4,312.8L171.6,313.3L171.7,313.3L171.9,313.3L172.1,313.3L172.3,313.3L172.4,313.4L172.6,313.4L172.8,313.4L172.9,313.4L173.1,313.4L173.3,313.4L173.5,313.5L173.6,313.5L173.8,313.5L174.0,313.5L174.1,313.5L174.3,313.6L174.5,313.6L174.6,313.6L174.8,313.6L175.0,313.6L175.2,313.6L175.3,313.7L175.5,313.7L175.7,313.7L175.8,313.7L176.0,313.7L176.2,313.8L176.4,313.8L176.5,313.8L176.7,313.8L176.9,313.8L177.0,313.8L177.2,313.9L177.4,313.9L177.6,313.9L177.7,313.9L177.9,313.9L178.1,314.0L178.2,314.0L178.4,314.0L178.6,314.0L178.8,314.0L178.9,314.0L179.1,314.1L179.3,314.1L179.4,314.1L179.6,314.1L179.8,314.1L179.9,314.2L180.1,314.2L180.3,314.2L180.5,314.2L180.6,314.2L180.8,314.3L181.0,314.3L181.1,314.3L181.3,314.3L181.5,314.3L181.7,314.3L181.8,314.4L182.0,314.4L182.2,314.4L182.3,314.4L182.5,314.4L182.7,314.5L182.9,314.5L183.0,314.5L183.2,314.5L183.4,314.5L183.5,314.5L183.7,314.6L183.9,314.6L184.1,314.6L184.2,314.6L184.4,314.6L184.6,314.7L184.7,314.7L184.9,314.7L185.1,315.1L185.2,314.9L185.4,314.7L185.6,314.5L185.8,314.2L185.9,314.0L186.1,313.7L186.3,313.5L186.4,313.2L186.6,313.0L186.8,312.8L187.0,312.5L187.1,312.3L187.3,312.1L187.5,311.9L187.6,311.7L187.8,311.5L188.0,311.3L188.2,311.1L188.3,311.0L188.5,310.8L188.7,310.7L188.8,310.6L189.0,310.4L189.2,310.3L189.4,310.3L189.5,310.2L189.7,310.1L189.9,310.1L190.0,310.0L190.2,310.0L190.4,310.0L190.6,310.0L190.7,310.0L190.9,310.0L191.1,310.1L191.2,310.1L191.4,310.2L191.6,310.2L191.7,310.3L191.9,310.4L192.1,310.5L192.3,310.6L192.4,310.7L192.6,310.8L192.8,311.0L192.9,311.1L193.1,311.2L193.3,311.4L193.5,311.6L193.6,311.7L193.8,311.9L194.0,312.1L194.1,312.3L194.3,312.5L194.5,312.7L194.7,312.9L194.8,313.1L195.0,313.3L195.2,313.5L195.3,313.7L195.5,313.9L195.7,314.1L195.9,314.3L196.0,314.5L196.2,314.8L196.4,315.0L196.5,315.1L196.7,315.3L196.9,315.5L197.0,315.7L197.2,315.8L197.4,316.0L197.6,316.1" fill="none" stroke="#8c8c8c" stroke-width="0.55" stroke-opacity="0.9"/>
<line x1="142.50" y1="264.20" x2="142.50" y2="316.60" stroke="#231f20" stroke-width="1.0"/>
<line x1="140.00" y1="267.50" x2="142.50" y2="267.50" stroke="#231f20" stroke-width="1.0"/>
<text x="136.00" y="269.46" font-size="6.510000000000001" text-anchor="end">540</text>
<line x1="140.00" y1="275.50" x2="142.50" y2="275.50" stroke="#231f20" stroke-width="1.0"/>
<text x="136.00" y="277.62" font-size="6.510000000000001" text-anchor="end">450</text>
<line x1="140.00" y1="283.50" x2="142.50" y2="283.50" stroke="#231f20" stroke-width="1.0"/>
<text x="136.00" y="285.79" font-size="6.510000000000001" text-anchor="end">360</text>
<line x1="140.00" y1="291.50" x2="142.50" y2="291.50" stroke="#231f20" stroke-width="1.0"/>
<text x="136.00" y="293.95" font-size="6.510000000000001" text-anchor="end">270</text>
<line x1="140.00" y1="299.50" x2="142.50" y2="299.50" stroke="#231f20" stroke-width="1.0"/>
<text x="136.00" y="302.11" font-size="6.510000000000001" text-anchor="end">180</text>
<line x1="140.00" y1="308.50" x2="142.50" y2="308.50" stroke="#231f20" stroke-width="1.0"/>
<text x="136.00" y="310.28" font-size="6.510000000000001" text-anchor="end">90</text>
<line x1="142.10" y1="316.50" x2="210.90" y2="316.50" stroke="#231f20" stroke-width="1.0"/>
<line x1="142.50" y1="316.20" x2="142.50" y2="318.20" stroke="#231f20" stroke-width="1.0"/>
<text x="142.40" y="327.84" font-size="6.510000000000001" text-anchor="middle">0</text>
<line x1="154.50" y1="316.20" x2="154.50" y2="318.20" stroke="#231f20" stroke-width="1.0"/>
<text x="154.48" y="327.84" font-size="6.510000000000001" text-anchor="middle">32</text>
<line x1="166.50" y1="316.20" x2="166.50" y2="318.20" stroke="#231f20" stroke-width="1.0"/>
<text x="166.56" y="327.84" font-size="6.510000000000001" text-anchor="middle">64</text>
<line x1="178.50" y1="316.20" x2="178.50" y2="318.20" stroke="#231f20" stroke-width="1.0"/>
<text x="178.64" y="327.84" font-size="6.510000000000001" text-anchor="middle">96</text>
<line x1="190.50" y1="316.20" x2="190.50" y2="318.20" stroke="#231f20" stroke-width="1.0"/>
<text x="190.72" y="327.84" font-size="6.510000000000001" text-anchor="middle">128</text>
<line x1="202.50" y1="316.20" x2="202.50" y2="318.20" stroke="#231f20" stroke-width="1.0"/>
<text x="202.80" y="327.84" font-size="6.510000000000001" text-anchor="middle">160</text>
<path d="M70.4,387.3L70.4,387.3L70.6,381.0L70.8,381.0L71.0,381.0L71.1,381.0L71.3,381.0L71.5,381.0L71.7,381.0L71.8,381.0L72.0,381.0L72.2,381.0L72.3,381.0L72.5,381.0L72.7,381.0L72.9,381.0L73.0,381.0L73.2,381.0L73.4,381.0L73.5,381.0L73.7,381.0L73.9,381.0L74.1,381.0L74.2,381.0L74.4,381.0L74.6,381.0L74.8,381.0L74.9,381.0L75.1,381.0L75.3,381.0L75.4,381.0L75.6,381.0L75.8,381.0L76.0,381.0L76.1,381.0L76.3,381.0L76.5,381.0L76.7,381.0L76.8,381.0L77.0,381.0L77.2,381.0L77.3,381.0L77.5,381.0L77.7,381.0L77.9,381.0L78.0,381.0L78.2,381.0L78.4,381.0L78.6,381.0L78.7,381.0L78.9,381.0L79.1,381.0L79.2,381.0L79.4,381.0L79.6,381.0L79.8,381.0L79.9,381.0L80.1,381.0L80.3,381.0L80.5,381.0L80.6,381.0L80.8,381.0L81.0,381.0L81.1,381.0L81.3,381.0L81.5,381.0L81.7,381.0L81.8,381.0L82.0,381.0L82.2,381.0L82.3,381.0L82.5,381.0L82.7,381.0L82.9,381.0L83.0,381.0L83.2,381.0L83.4,381.0L83.6,381.0L83.7,381.0L83.9,381.0L84.1,381.0L84.2,381.0L84.4,381.0L84.6,387.3L84.6,387.3Z" fill="#e0147a"/>
<path d="M59.8,387.3L59.8,387.3L59.9,387.3L60.1,387.0L60.3,386.6L60.4,386.1L60.6,385.6L60.8,385.0L61.0,384.4L61.1,383.7L61.3,382.9L61.5,382.1L61.6,381.3L61.8,380.5L62.0,379.6L62.2,378.7L62.3,377.8L62.5,376.9L62.7,375.9L62.9,374.9L63.0,373.8L63.2,372.8L63.4,371.7L63.5,370.6L63.7,369.5L63.9,368.4L64.1,367.2L64.2,366.0L64.4,364.9L64.6,363.6L64.8,362.4L64.9,361.2L65.1,359.9L65.3,358.6L65.4,357.3L65.6,356.0L65.8,354.7L66.0,354.3L66.1,355.5L66.3,356.8L66.5,358.1L66.7,359.3L66.8,360.6L67.0,361.8L67.2,363.0L67.3,364.2L67.5,365.3L67.7,366.5L67.9,367.6L68.0,368.7L68.2,369.8L68.4,370.9L68.5,371.9L68.7,373.0L68.9,374.0L69.1,375.0L69.2,375.9L69.4,376.9L69.6,377.8L69.8,378.7L69.9,379.6L70.1,380.4L70.3,381.2L70.4,382.0L70.6,382.8L70.8,383.5L71.0,384.2L71.1,384.8L71.3,385.4L71.5,386.0L71.7,386.5L71.8,386.9L72.0,387.2L72.2,387.3L82.7,387.3L82.9,387.2L83.0,386.9L83.2,386.5L83.4,386.1L83.6,385.6L83.7,385.1L83.9,384.5L84.1,384.0L84.2,383.4L84.4,382.8L84.6,382.3L84.8,381.7L84.9,381.2L85.1,380.6L85.3,380.1L85.5,379.6L85.6,379.1L85.8,378.6L86.0,378.2L86.1,377.7L86.3,377.3L86.5,376.9L86.7,376.6L86.8,376.2L87.0,375.9L87.2,375.6L87.3,375.4L87.5,375.1L87.7,374.9L87.9,374.7L88.0,374.6L88.2,374.5L88.4,374.4L88.6,374.3L88.7,374.3L88.9,374.3L89.1,374.3L89.2,374.4L89.4,374.4L89.6,374.5L89.8,374.6L89.9,374.7L90.1,374.9L90.3,375.0L90.5,375.2L90.6,375.4L90.8,375.6L91.0,375.8L91.1,376.0L91.3,376.3L91.5,376.6L91.7,376.9L91.8,377.2L92.0,377.5L92.2,377.8L92.4,378.2L92.5,378.6L92.7,378.9L92.9,379.3L93.0,379.7L93.2,380.1L93.4,380.6L93.6,381.0L93.7,381.4L93.9,381.9L94.1,382.3L94.2,382.8L94.4,383.2L94.6,383.7L94.8,384.1L94.9,384.5L95.1,385.0L95.3,385.4L95.5,385.8L95.6,386.2L95.8,386.6L96.0,386.9L96.1,387.2L96.3,387.3L96.3,387.3Z" fill="#1d4a80"/>
<path d="M60.1,387.0L60.3,386.6L60.4,386.1L60.6,385.6L60.8,385.0L61.0,384.4L61.1,383.7L61.3,382.9L61.5,382.1L61.6,381.3L61.8,380.5L62.0,379.6L62.2,378.7L62.3,377.8L62.5,376.9L62.7,375.9L62.9,374.9L63.0,373.8L63.2,372.8L63.4,371.7L63.5,370.6L63.7,369.5L63.9,368.4L64.1,367.2L64.2,366.0L64.4,364.2L64.6,362.1L64.8,359.9L64.9,357.6L65.1,355.4L65.3,353.2L65.4,350.9L65.6,348.6L65.8,346.3L66.0,345.4L66.1,347.2L66.3,349.0L66.5,350.7L66.7,352.4L66.8,354.2L67.0,355.9L67.2,357.5L67.3,359.2L67.5,360.9L67.7,362.5L67.9,364.1L68.0,365.7L68.2,367.3L68.4,368.8L68.5,370.4L68.7,371.9L68.9,373.4L69.1,374.9L69.2,375.9L69.4,376.9L69.6,377.8L69.8,378.7L69.9,379.6L70.1,380.3L70.3,381.0L70.4,381.7L70.6,380.5L70.8,380.3L71.0,380.2L71.1,380.1L71.3,379.9L71.5,379.8L71.7,379.6L71.8,379.5L72.0,379.3L72.2,379.2L72.3,379.0L72.5,378.9L72.7,378.8L72.9,378.6L73.0,378.5L73.2,378.7L73.4,378.8L73.5,379.0L73.7,379.1L73.9,379.2L74.1,379.4L74.2,379.5L74.4,379.7L74.6,379.8L74.8,380.0L74.9,380.1L75.1,380.3L75.3,380.4L75.4,380.5L75.6,380.7L75.8,380.8L76.0,381.0L76.1,381.0L76.3,381.0L76.5,381.0L76.7,381.0L76.8,381.0L77.0,381.0L77.2,381.0L77.3,381.0L77.5,381.0L77.7,381.0L77.9,381.0L78.0,381.0L78.2,381.0L78.4,381.0L78.6,381.0L78.7,381.0L78.9,381.0L79.1,381.0L79.2,381.0L79.4,381.0L79.6,381.0L79.8,381.0L79.9,381.0L80.1,381.0L80.3,381.0L80.5,381.0L80.6,381.0L80.8,381.0L81.0,381.0L81.1,381.0L81.3,381.0L81.5,381.0L81.7,381.0L81.8,381.0L82.0,381.0L82.2,381.0L82.3,381.0L82.5,381.0L82.7,381.0L82.9,381.0L83.0,381.0L83.2,381.0L83.4,381.0L83.6,381.0L83.7,381.0L83.9,381.0L84.1,381.0L84.2,380.8L84.4,380.5L84.6,381.4L84.8,380.6L84.9,379.7L85.1,378.9L85.3,378.1L85.5,377.3L85.6,376.5L85.8,375.7L86.0,375.0L86.1,374.2L86.3,373.5L86.5,372.8L86.7,372.2L86.8,371.5L87.0,370.9L87.2,370.3L87.3,369.8L87.5,369.3L87.7,369.1L87.9,369.2L88.0,369.3L88.2,369.5L88.4,369.7L88.6,370.0L88.7,370.2L88.9,370.5L89.1,370.9L89.2,371.2L89.4,371.5L89.6,371.9L89.8,372.3L89.9,372.7L90.1,373.2L90.3,373.6L90.5,374.1L90.6,374.6L90.8,375.1L91.0,375.6L91.1,376.0L91.3,376.3L91.5,376.6L91.7,376.9L91.8,377.2L92.0,377.5L92.2,377.8L92.4,378.2L92.5,378.6L92.7,378.9L92.9,379.3L93.0,379.7L93.2,380.1L93.4,380.6L93.6,381.0L93.7,381.4L93.9,381.9L94.1,382.3L94.2,382.8L94.4,383.2L94.6,383.7L94.8,384.1L94.9,384.5L95.1,385.0L95.3,385.4L95.5,385.8L95.6,386.2L95.8,386.6L96.0,386.9L96.1,387.2" fill="none" stroke="#8c8c8c" stroke-width="0.55" stroke-opacity="0.9"/>
<line x1="42.50" y1="335.30" x2="42.50" y2="387.70" stroke="#231f20" stroke-width="1.0"/>
<line x1="40.00" y1="338.50" x2="42.50" y2="338.50" stroke="#231f20" stroke-width="1.0"/>
<text x="36.00" y="340.56" font-size="6.510000000000001" text-anchor="end">540</text>
<line x1="40.00" y1="346.50" x2="42.50" y2="346.50" stroke="#231f20" stroke-width="1.0"/>
<text x="36.00" y="348.72" font-size="6.510000000000001" text-anchor="end">450</text>
<line x1="40.00" y1="354.50" x2="42.50" y2="354.50" stroke="#231f20" stroke-width="1.0"/>
<text x="36.00" y="356.89" font-size="6.510000000000001" text-anchor="end">360</text>
<line x1="40.00" y1="362.50" x2="42.50" y2="362.50" stroke="#231f20" stroke-width="1.0"/>
<text x="36.00" y="365.05" font-size="6.510000000000001" text-anchor="end">270</text>
<line x1="40.00" y1="370.50" x2="42.50" y2="370.50" stroke="#231f20" stroke-width="1.0"/>
<text x="36.00" y="373.21" font-size="6.510000000000001" text-anchor="end">180</text>
<line x1="40.00" y1="379.50" x2="42.50" y2="379.50" stroke="#231f20" stroke-width="1.0"/>
<text x="36.00" y="381.38" font-size="6.510000000000001" text-anchor="end">90</text>
<line x1="42.10" y1="387.50" x2="111.50" y2="387.50" stroke="#231f20" stroke-width="1.0"/>
<line x1="42.50" y1="387.30" x2="42.50" y2="389.30" stroke="#231f20" stroke-width="1.0"/>
<text x="42.40" y="398.74" font-size="6.510000000000001" text-anchor="middle">0</text>
<line x1="54.50" y1="387.30" x2="54.50" y2="389.30" stroke="#231f20" stroke-width="1.0"/>
<text x="54.48" y="398.74" font-size="6.510000000000001" text-anchor="middle">32</text>
<line x1="66.50" y1="387.30" x2="66.50" y2="389.30" stroke="#231f20" stroke-width="1.0"/>
<text x="66.56" y="398.74" font-size="6.510000000000001" text-anchor="middle">64</text>
<line x1="78.50" y1="387.30" x2="78.50" y2="389.30" stroke="#231f20" stroke-width="1.0"/>
<text x="78.64" y="398.74" font-size="6.510000000000001" text-anchor="middle">96</text>
<line x1="90.50" y1="387.30" x2="90.50" y2="389.30" stroke="#231f20" stroke-width="1.0"/>
<text x="90.72" y="398.74" font-size="6.510000000000001" text-anchor="middle">128</text>
<line x1="102.50" y1="387.30" x2="102.50" y2="389.30" stroke="#231f20" stroke-width="1.0"/>
<text x="102.80" y="398.74" font-size="6.510000000000001" text-anchor="middle">160</text>
<path d="M172.4,387.5L172.4,387.5L172.6,384.5L172.8,384.5L172.9,384.6L173.1,384.6L173.3,384.6L173.5,384.6L173.6,384.7L173.8,384.7L174.0,384.7L174.1,384.7L174.3,384.7L174.5,384.8L174.6,384.8L174.8,384.8L175.0,384.8L175.2,384.9L175.3,384.9L175.5,384.9L175.7,384.9L175.8,385.0L176.0,385.0L176.2,385.0L176.4,385.0L176.5,385.1L176.7,385.1L176.9,385.1L177.0,385.1L177.2,385.2L177.4,385.2L177.6,385.2L177.7,385.2L177.9,385.2L178.1,385.3L178.2,385.3L178.4,385.3L178.6,385.3L178.8,385.4L178.9,385.4L179.1,385.4L179.3,385.4L179.4,385.5L179.6,385.5L179.8,385.5L179.9,385.5L180.1,385.6L180.3,385.6L180.5,385.6L180.6,385.6L180.8,385.6L181.0,385.7L181.1,385.7L181.3,385.7L181.5,385.7L181.7,385.8L181.8,385.8L182.0,385.8L182.2,385.8L182.3,385.9L182.5,385.9L182.7,385.9L182.9,385.9L183.0,386.0L183.2,386.0L183.4,386.0L183.5,386.0L183.7,386.0L183.9,386.1L184.1,386.1L184.2,386.1L184.4,386.1L184.6,386.2L184.7,386.2L184.9,386.2L185.1,386.2L185.2,386.3L185.4,386.3L185.6,386.3L185.8,386.3L185.9,386.4L186.1,386.4L186.3,386.4L186.4,386.4L186.6,386.4L186.8,386.5L187.0,386.5L187.1,387.5L187.1,387.5Z" fill="#e0147a"/>
<path d="M164.2,387.5L164.2,387.5L164.4,387.5L164.6,387.2L164.7,386.8L164.9,386.2L165.1,385.5L165.2,384.7L165.4,383.8L165.6,382.8L165.8,381.6L165.9,380.4L166.1,379.1L166.3,377.7L166.4,376.2L166.6,374.6L166.8,373.0L167.0,371.2L167.1,369.4L167.3,367.5L167.5,365.5L167.6,363.5L167.8,361.3L168.0,359.1L168.2,356.8L168.3,354.5L168.5,352.1L168.7,349.6L168.8,347.0L169.0,347.4L169.2,349.5L169.3,351.7L169.5,353.7L169.7,355.8L169.9,357.7L170.0,359.7L170.2,361.5L170.4,363.4L170.5,365.1L170.7,366.8L170.9,368.5L171.1,370.1L171.2,371.6L171.4,373.1L171.6,374.5L171.7,375.8L171.9,377.1L172.1,378.4L172.3,379.5L172.4,380.6L172.6,381.7L172.8,382.6L172.9,383.5L173.1,384.3L173.3,385.1L173.5,385.7L173.6,386.3L173.8,386.8L174.0,387.1L174.1,387.4L174.3,387.5L187.3,387.5L187.5,387.5L187.6,387.4L187.8,387.3L188.0,387.1L188.2,387.0L188.3,386.8L188.5,386.6L188.7,386.5L188.8,386.3L189.0,386.1L189.2,385.9L189.4,385.7L189.5,385.5L189.7,385.3L189.9,385.1L190.0,384.9L190.2,384.7L190.4,384.5L190.6,384.3L190.7,384.1L190.9,384.0L191.1,383.8L191.2,383.6L191.4,383.5L191.6,383.3L191.7,383.2L191.9,383.0L192.1,382.9L192.3,382.8L192.4,382.7L192.6,382.6L192.8,382.5L192.9,382.4L193.1,382.4L193.3,382.3L193.5,382.3L193.6,382.2L193.8,382.2L194.0,382.2L194.1,382.2L194.3,382.2L194.5,382.2L194.7,382.3L194.8,382.3L195.0,382.3L195.2,382.4L195.3,382.5L195.5,382.6L195.7,382.7L195.9,382.8L196.0,382.9L196.2,383.0L196.4,383.1L196.5,383.2L196.7,383.4L196.9,383.5L197.0,383.7L197.2,383.9L197.4,384.0L197.6,384.2L197.7,384.4L197.9,384.6L198.1,384.8L198.2,385.0L198.4,385.2L198.6,385.4L198.8,385.6L198.9,385.8L199.1,386.0L199.3,386.2L199.4,386.4L199.6,386.5L199.8,386.7L200.0,386.9L200.1,387.0L200.3,387.2L200.5,387.3L200.6,387.4L200.8,387.5L201.0,387.5L201.0,387.5Z" fill="#1d4a80"/>
<path d="M164.6,387.2L164.7,386.8L164.9,386.2L165.1,385.5L165.2,384.7L165.4,383.8L165.6,382.8L165.8,381.6L165.9,380.4L166.1,379.1L166.3,377.7L166.4,376.2L166.6,374.6L166.8,373.0L167.0,371.2L167.1,369.4L167.3,367.5L167.5,365.5L167.6,363.5L167.8,361.3L168.0,358.8L168.2,355.7L168.3,352.6L168.5,349.4L168.7,346.1L168.8,342.8L169.0,343.3L169.2,346.3L169.3,349.2L169.5,352.0L169.7,354.8L169.9,357.6L170.0,359.7L170.2,361.5L170.4,363.4L170.5,365.1L170.7,366.8L170.9,368.5L171.1,370.1L171.2,371.6L171.4,373.1L171.6,374.5L171.7,375.8L171.9,377.1L172.1,378.4L172.3,379.5L172.4,380.6L172.6,381.7L172.8,382.6L172.9,383.5L173.1,384.3L173.3,384.6L173.5,384.6L173.6,384.7L173.8,384.7L174.0,384.7L174.1,384.7L174.3,384.7L174.5,384.8L174.6,384.8L174.8,384.8L175.0,384.8L175.2,384.9L175.3,384.9L175.5,384.9L175.7,384.9L175.8,385.0L176.0,385.0L176.2,385.0L176.4,385.0L176.5,385.1L176.7,385.1L176.9,385.1L177.0,385.1L177.2,385.2L177.4,385.2L177.6,385.2L177.7,385.2L177.9,385.2L178.1,385.3L178.2,385.3L178.4,385.3L178.6,385.3L178.8,385.4L178.9,385.4L179.1,385.4L179.3,385.4L179.4,385.5L179.6,385.5L179.8,385.5L179.9,385.5L180.1,385.6L180.3,385.6L180.5,385.6L180.6,385.6L180.8,385.6L181.0,385.7L181.1,385.7L181.3,385.7L181.5,385.7L181.7,385.8L181.8,385.8L182.0,385.8L182.2,385.8L182.3,385.9L182.5,385.9L182.7,385.9L182.9,385.9L183.0,386.0L183.2,386.0L183.4,386.0L183.5,386.0L183.7,386.0L183.9,386.1L184.1,386.1L184.2,386.1L184.4,386.1L184.6,386.2L184.7,386.2L184.9,386.2L185.1,386.2L185.2,386.3L185.4,386.3L185.6,386.3L185.8,386.3L185.9,386.4L186.1,386.4L186.3,386.4L186.4,386.4L186.6,386.4L186.8,386.5L187.0,386.5L187.6,387.4L187.8,387.3L188.0,387.1L188.2,387.0L188.3,386.8L188.5,386.6L188.7,386.5L188.8,386.3L189.0,386.1L189.2,385.9L189.4,385.7L189.5,385.5L189.7,385.3L189.9,385.1L190.0,384.9L190.2,384.7L190.4,384.5L190.6,384.3L190.7,384.1L190.9,384.0L191.1,383.8L191.2,383.6L191.4,383.5L191.6,383.3L191.7,383.2L191.9,383.0L192.1,382.9L192.3,382.8L192.4,382.7L192.6,382.6L192.8,382.5L192.9,382.4L193.1,382.4L193.3,382.3L193.5,382.3L193.6,382.2L193.8,382.2L194.0,382.2L194.1,382.2L194.3,382.2L194.5,382.2L194.7,382.3L194.8,382.3L195.0,382.3L195.2,382.4L195.3,382.5L195.5,382.6L195.7,382.7L195.9,382.8L196.0,382.9L196.2,383.0L196.4,383.1L196.5,383.2L196.7,383.4L196.9,383.5L197.0,383.7L197.2,383.9L197.4,384.0L197.6,384.2L197.7,384.4L197.9,384.6L198.1,384.8L198.2,385.0L198.4,385.2L198.6,385.4L198.8,385.6L198.9,385.8L199.1,386.0L199.3,386.2L199.4,386.4L199.6,386.5L199.8,386.7L200.0,386.9L200.1,387.0L200.3,387.2L200.5,387.3L200.6,387.4" fill="none" stroke="#8c8c8c" stroke-width="0.55" stroke-opacity="0.9"/>
<line x1="142.50" y1="335.50" x2="142.50" y2="387.90" stroke="#231f20" stroke-width="1.0"/>
<line x1="140.00" y1="338.50" x2="142.50" y2="338.50" stroke="#231f20" stroke-width="1.0"/>
<text x="136.00" y="340.76" font-size="6.510000000000001" text-anchor="end">540</text>
<line x1="140.00" y1="346.50" x2="142.50" y2="346.50" stroke="#231f20" stroke-width="1.0"/>
<text x="136.00" y="348.92" font-size="6.510000000000001" text-anchor="end">450</text>
<line x1="140.00" y1="354.50" x2="142.50" y2="354.50" stroke="#231f20" stroke-width="1.0"/>
<text x="136.00" y="357.09" font-size="6.510000000000001" text-anchor="end">360</text>
<line x1="140.00" y1="363.50" x2="142.50" y2="363.50" stroke="#231f20" stroke-width="1.0"/>
<text x="136.00" y="365.25" font-size="6.510000000000001" text-anchor="end">270</text>
<line x1="140.00" y1="371.50" x2="142.50" y2="371.50" stroke="#231f20" stroke-width="1.0"/>
<text x="136.00" y="373.41" font-size="6.510000000000001" text-anchor="end">180</text>
<line x1="140.00" y1="379.50" x2="142.50" y2="379.50" stroke="#231f20" stroke-width="1.0"/>
<text x="136.00" y="381.58" font-size="6.510000000000001" text-anchor="end">90</text>
<line x1="142.10" y1="387.50" x2="210.90" y2="387.50" stroke="#231f20" stroke-width="1.0"/>
<line x1="142.50" y1="387.50" x2="142.50" y2="389.50" stroke="#231f20" stroke-width="1.0"/>
<text x="142.40" y="399.04" font-size="6.510000000000001" text-anchor="middle">0</text>
<line x1="154.50" y1="387.50" x2="154.50" y2="389.50" stroke="#231f20" stroke-width="1.0"/>
<text x="154.48" y="399.04" font-size="6.510000000000001" text-anchor="middle">32</text>
<line x1="166.50" y1="387.50" x2="166.50" y2="389.50" stroke="#231f20" stroke-width="1.0"/>
<text x="166.56" y="399.04" font-size="6.510000000000001" text-anchor="middle">64</text>
<line x1="178.50" y1="387.50" x2="178.50" y2="389.50" stroke="#231f20" stroke-width="1.0"/>
<text x="178.64" y="399.04" font-size="6.510000000000001" text-anchor="middle">96</text>
<line x1="190.50" y1="387.50" x2="190.50" y2="389.50" stroke="#231f20" stroke-width="1.0"/>
<text x="190.72" y="399.04" font-size="6.510000000000001" text-anchor="middle">128</text>
<line x1="202.50" y1="387.50" x2="202.50" y2="389.50" stroke="#231f20" stroke-width="1.0"/>
<text x="202.80" y="399.04" font-size="6.510000000000001" text-anchor="middle">160</text>
<line x1="22.50" y1="267.80" x2="22.50" y2="386.20" stroke="#444" stroke-width="1.2"/>
<text transform="translate(17.31,342.40) rotate(-90)" font-size="7.0200000000000005" font-weight="bold" style="stroke-width:0.18px" textLength="29.90" lengthAdjust="spacingAndGlyphs">Cell number</text>
<line x1="42.50" y1="402.50" x2="210.90" y2="402.50" stroke="#333" stroke-width="1.2"/>
<text x="110.90" y="412.47" font-size="7.7700000000000005" font-weight="bold" style="stroke-width:0.18px" textLength="31.60" lengthAdjust="spacingAndGlyphs">DNA Content</text>
<text x="214.20" y="292.57" font-size="6.300000000000001" textLength="19.00" lengthAdjust="spacingAndGlyphs">Control</text>
<text x="214.20" y="364.07" font-size="6.300000000000001" textLength="18.50" lengthAdjust="spacingAndGlyphs">CL-Exo</text>
<text x="315.20" y="250.20" font-size="8.6" textLength="14.40" lengthAdjust="spacingAndGlyphs">LP-1</text>
<rect x="289.05" y="275.45" width="21.50" height="9.11" fill="#c8c8c8" stroke="#9c9c9c" stroke-width="0.5"/>
<rect x="289.05" y="284.81" width="21.50" height="11.27" fill="#c8102e" stroke="#9c0c23" stroke-width="0.5"/>
<rect x="289.05" y="296.33" width="21.50" height="14.87" fill="#1a4a82" stroke="#143965" stroke-width="0.5"/>
<rect x="335.25" y="275.45" width="21.20" height="6.23" fill="#c8c8c8" stroke="#9c9c9c" stroke-width="0.5"/>
<rect x="335.25" y="281.93" width="21.20" height="5.15" fill="#c8102e" stroke="#9c0c23" stroke-width="0.5"/>
<rect x="335.25" y="287.33" width="21.20" height="23.87" fill="#1a4a82" stroke="#143965" stroke-width="0.5"/>
<line x1="299.80" y1="275.20" x2="299.80" y2="274.12" stroke="#231f20" stroke-width="0.7"/>
<line x1="296.30" y1="274.12" x2="303.30" y2="274.12" stroke="#231f20" stroke-width="0.7"/>
<line x1="299.80" y1="284.56" x2="299.80" y2="283.48" stroke="#231f20" stroke-width="0.7"/>
<line x1="296.30" y1="283.48" x2="303.30" y2="283.48" stroke="#231f20" stroke-width="0.7"/>
<line x1="345.85" y1="275.20" x2="345.85" y2="274.48" stroke="#231f20" stroke-width="0.7"/>
<line x1="342.35" y1="274.48" x2="349.35" y2="274.48" stroke="#231f20" stroke-width="0.7"/>
<line x1="345.85" y1="281.68" x2="345.85" y2="280.96" stroke="#231f20" stroke-width="0.7"/>
<line x1="342.35" y1="280.96" x2="349.35" y2="280.96" stroke="#231f20" stroke-width="0.7"/>
<line x1="345.85" y1="287.08" x2="345.85" y2="286.36" stroke="#231f20" stroke-width="0.7"/>
<line x1="342.35" y1="286.36" x2="349.35" y2="286.36" stroke="#231f20" stroke-width="0.7"/>
<line x1="275.50" y1="254.90" x2="275.50" y2="311.60" stroke="#231f20" stroke-width="1.0"/>
<line x1="273.80" y1="257.50" x2="275.80" y2="257.50" stroke="#231f20" stroke-width="1.0"/>
<text x="270.80" y="259.37" font-size="6.300000000000001" text-anchor="end">150</text>
<line x1="273.80" y1="275.50" x2="275.80" y2="275.50" stroke="#231f20" stroke-width="1.0"/>
<text x="270.80" y="277.37" font-size="6.300000000000001" text-anchor="end">100</text>
<line x1="273.80" y1="293.50" x2="275.80" y2="293.50" stroke="#231f20" stroke-width="1.0"/>
<text x="270.80" y="295.37" font-size="6.300000000000001" text-anchor="end">50</text>
<line x1="273.80" y1="311.50" x2="275.80" y2="311.50" stroke="#231f20" stroke-width="1.0"/>
<text x="270.80" y="313.37" font-size="6.300000000000001" text-anchor="end">0</text>
<line x1="275.80" y1="311.50" x2="368.30" y2="311.50" stroke="#231f20" stroke-width="1.0"/>
<line x1="299.50" y1="311.20" x2="299.50" y2="313.20" stroke="#231f20" stroke-width="1.0"/>
<line x1="345.50" y1="311.20" x2="345.50" y2="313.20" stroke="#231f20" stroke-width="1.0"/>
<text x="290.20" y="321.97" font-size="6.300000000000001" textLength="18.80" lengthAdjust="spacingAndGlyphs">Control</text>
<text x="336.20" y="321.97" font-size="6.300000000000001" textLength="19.00" lengthAdjust="spacingAndGlyphs">CL-Exo</text>
<rect x="367.20" y="267.00" width="7.20" height="2.60" fill="#cfcfcf"/>
<text x="377.00" y="270.61" font-size="6.720000000000001" textLength="16.00" lengthAdjust="spacingAndGlyphs">G2/M</text>
<rect x="367.20" y="273.90" width="7.20" height="2.60" fill="#c8102e"/>
<text x="377.00" y="277.51" font-size="6.720000000000001" textLength="3.60" lengthAdjust="spacingAndGlyphs">S</text>
<rect x="367.20" y="281.40" width="7.20" height="2.60" fill="#1a4a82"/>
<text x="377.00" y="285.01" font-size="6.720000000000001" textLength="19.00" lengthAdjust="spacingAndGlyphs">G0/G1</text>
<text transform="translate(255.31,318.80) rotate(-90)" font-size="7.0200000000000005" font-weight="bold" style="stroke-width:0.18px" textLength="72.10" lengthAdjust="spacingAndGlyphs">Distribution of cell cycle (%)</text>
<text x="313.30" y="345.90" font-size="8.6" textLength="18.60" lengthAdjust="spacingAndGlyphs">U266</text>
<rect x="289.05" y="371.35" width="21.50" height="2.99" fill="#c8c8c8" stroke="#9c9c9c" stroke-width="0.5"/>
<rect x="289.05" y="374.59" width="21.50" height="17.75" fill="#c8102e" stroke="#9c0c23" stroke-width="0.5"/>
<rect x="289.05" y="392.59" width="21.50" height="14.51" fill="#1a4a82" stroke="#143965" stroke-width="0.5"/>
<rect x="335.25" y="371.35" width="21.20" height="4.43" fill="#c8c8c8" stroke="#9c9c9c" stroke-width="0.5"/>
<rect x="335.25" y="376.03" width="21.20" height="7.31" fill="#c8102e" stroke="#9c0c23" stroke-width="0.5"/>
<rect x="335.25" y="383.59" width="21.20" height="23.51" fill="#1a4a82" stroke="#143965" stroke-width="0.5"/>
<line x1="299.80" y1="371.10" x2="299.80" y2="370.02" stroke="#231f20" stroke-width="0.7"/>
<line x1="296.30" y1="370.02" x2="303.30" y2="370.02" stroke="#231f20" stroke-width="0.7"/>
<line x1="299.80" y1="374.34" x2="299.80" y2="373.62" stroke="#231f20" stroke-width="0.7"/>
<line x1="296.30" y1="373.62" x2="303.30" y2="373.62" stroke="#231f20" stroke-width="0.7"/>
<line x1="345.85" y1="371.10" x2="345.85" y2="369.66" stroke="#231f20" stroke-width="0.7"/>
<line x1="342.35" y1="369.66" x2="349.35" y2="369.66" stroke="#231f20" stroke-width="0.7"/>
<line x1="345.85" y1="373.62" x2="345.85" y2="372.90" stroke="#231f20" stroke-width="0.7"/>
<line x1="342.35" y1="372.90" x2="349.35" y2="372.90" stroke="#231f20" stroke-width="0.7"/>
<line x1="345.85" y1="383.34" x2="345.85" y2="382.62" stroke="#231f20" stroke-width="0.7"/>
<line x1="342.35" y1="382.62" x2="349.35" y2="382.62" stroke="#231f20" stroke-width="0.7"/>
<line x1="275.50" y1="350.80" x2="275.50" y2="407.50" stroke="#231f20" stroke-width="1.0"/>
<line x1="273.80" y1="353.50" x2="275.80" y2="353.50" stroke="#231f20" stroke-width="1.0"/>
<text x="270.80" y="355.27" font-size="6.300000000000001" text-anchor="end">150</text>
<line x1="273.80" y1="371.50" x2="275.80" y2="371.50" stroke="#231f20" stroke-width="1.0"/>
<text x="270.80" y="373.27" font-size="6.300000000000001" text-anchor="end">100</text>
<line x1="273.80" y1="389.50" x2="275.80" y2="389.50" stroke="#231f20" stroke-width="1.0"/>
<text x="270.80" y="391.27" font-size="6.300000000000001" text-anchor="end">50</text>
<line x1="273.80" y1="407.50" x2="275.80" y2="407.50" stroke="#231f20" stroke-width="1.0"/>
<text x="270.80" y="409.27" font-size="6.300000000000001" text-anchor="end">0</text>
<line x1="275.80" y1="407.50" x2="368.30" y2="407.50" stroke="#231f20" stroke-width="1.0"/>
<line x1="299.50" y1="407.10" x2="299.50" y2="409.10" stroke="#231f20" stroke-width="1.0"/>
<line x1="345.50" y1="407.10" x2="345.50" y2="409.10" stroke="#231f20" stroke-width="1.0"/>
<text x="290.20" y="418.37" font-size="6.300000000000001" textLength="18.80" lengthAdjust="spacingAndGlyphs">Control</text>
<text x="336.20" y="418.37" font-size="6.300000000000001" textLength="19.00" lengthAdjust="spacingAndGlyphs">CL-Exo</text>
<rect x="367.20" y="362.90" width="7.20" height="2.60" fill="#cfcfcf"/>
<text x="377.00" y="366.51" font-size="6.720000000000001" textLength="16.00" lengthAdjust="spacingAndGlyphs">G2/M</text>
<rect x="367.20" y="369.70" width="7.20" height="2.60" fill="#c8102e"/>
<text x="377.00" y="373.31" font-size="6.720000000000001" textLength="3.60" lengthAdjust="spacingAndGlyphs">S</text>
<rect x="367.20" y="377.50" width="7.20" height="2.60" fill="#1a4a82"/>
<text x="377.00" y="381.11" font-size="6.720000000000001" textLength="19.00" lengthAdjust="spacingAndGlyphs">G0/G1</text>
<text transform="translate(255.31,414.60) rotate(-90)" font-size="7.0200000000000005" font-weight="bold" style="stroke-width:0.18px" textLength="70.70" lengthAdjust="spacingAndGlyphs">Distribution of cell cycle (%)</text>
<text x="450.30" y="297.40" font-size="8.6" textLength="57.00" lengthAdjust="spacingAndGlyphs">M0 macrophage</text>
<line x1="443.50" y1="301.50" x2="443.50" y2="361.90" stroke="#231f20" stroke-width="1.0"/>
<line x1="441.20" y1="303.50" x2="443.20" y2="303.50" stroke="#231f20" stroke-width="1.0"/>
<text x="438.20" y="305.26" font-size="6.300000000000001" text-anchor="end">3</text>
<line x1="441.20" y1="322.50" x2="443.20" y2="322.50" stroke="#231f20" stroke-width="1.0"/>
<text x="438.20" y="324.73" font-size="6.300000000000001" text-anchor="end">2</text>
<line x1="441.20" y1="342.50" x2="443.20" y2="342.50" stroke="#231f20" stroke-width="1.0"/>
<text x="438.20" y="344.20" font-size="6.300000000000001" text-anchor="end">1</text>
<line x1="441.20" y1="361.50" x2="443.20" y2="361.50" stroke="#231f20" stroke-width="1.0"/>
<text x="438.20" y="363.67" font-size="6.300000000000001" text-anchor="end">0</text>
<line x1="443.20" y1="361.50" x2="513.00" y2="361.50" stroke="#231f20" stroke-width="1.0"/>
<rect x="448.25" y="342.28" width="8.70" height="19.22" fill="#c8102e" stroke="#9c0c23" stroke-width="0.5"/>
<rect x="462.05" y="315.61" width="8.80" height="45.89" fill="#1a4a82" stroke="#143965" stroke-width="0.5"/>
<rect x="486.05" y="342.28" width="8.80" height="19.22" fill="#c8102e" stroke="#9c0c23" stroke-width="0.5"/>
<rect x="499.95" y="350.26" width="8.70" height="11.24" fill="#1a4a82" stroke="#143965" stroke-width="0.5"/>
<line x1="466.50" y1="315.36" x2="466.50" y2="310.10" stroke="#231f20" stroke-width="1.0"/>
<line x1="464.15" y1="310.50" x2="468.75" y2="310.50" stroke="#231f20" stroke-width="1.0"/>
<line x1="504.50" y1="350.01" x2="504.50" y2="349.04" stroke="#231f20" stroke-width="1.0"/>
<line x1="502.00" y1="349.50" x2="506.60" y2="349.50" stroke="#231f20" stroke-width="1.0"/>
<text x="466.45" y="309.37" font-size="6.300000000000001" text-anchor="middle">***</text>
<text x="504.30" y="348.77" font-size="6.300000000000001" text-anchor="middle">****</text>
<line x1="459.50" y1="361.50" x2="459.50" y2="363.50" stroke="#231f20" stroke-width="1.0"/>
<line x1="497.50" y1="361.50" x2="497.50" y2="363.50" stroke="#231f20" stroke-width="1.0"/>
<text x="453.10" y="373.47" font-size="6.300000000000001" textLength="13.80" lengthAdjust="spacingAndGlyphs">IL-1β</text>
<text x="487.20" y="373.47" font-size="6.300000000000001" textLength="21.30" lengthAdjust="spacingAndGlyphs">CD206</text>
<rect x="478.90" y="306.20" width="6.90" height="3.00" fill="#c8102e"/>
<rect x="478.90" y="313.60" width="6.90" height="3.00" fill="#1a4a82"/>
<text x="488.20" y="309.87" font-size="6.300000000000001" textLength="20.30" lengthAdjust="spacingAndGlyphs">Control</text>
<text x="488.20" y="317.27" font-size="6.300000000000001" textLength="17.80" lengthAdjust="spacingAndGlyphs">CL-Exo</text>
<text transform="translate(429.61,355.00) rotate(-90)" font-size="7.0200000000000005" font-weight="bold" style="stroke-width:0.18px" textLength="48.50" lengthAdjust="spacingAndGlyphs">Relative expression</text>
<text x="80.40" y="439.30" font-size="8.6" textLength="22.30" lengthAdjust="spacingAndGlyphs">NK-92</text>
<line x1="42.50" y1="444.90" x2="42.50" y2="505.50" stroke="#231f20" stroke-width="1.0"/>
<line x1="40.90" y1="447.50" x2="42.90" y2="447.50" stroke="#231f20" stroke-width="1.0"/>
<text x="37.90" y="449.37" font-size="6.300000000000001" text-anchor="end">1.5</text>
<line x1="40.90" y1="466.50" x2="42.90" y2="466.50" stroke="#231f20" stroke-width="1.0"/>
<text x="37.90" y="468.67" font-size="6.300000000000001" text-anchor="end">1.0</text>
<line x1="40.90" y1="485.50" x2="42.90" y2="485.50" stroke="#231f20" stroke-width="1.0"/>
<text x="37.90" y="487.97" font-size="6.300000000000001" text-anchor="end">0.5</text>
<line x1="40.90" y1="505.50" x2="42.90" y2="505.50" stroke="#231f20" stroke-width="1.0"/>
<text x="37.90" y="507.27" font-size="6.300000000000001" text-anchor="end">0</text>
<line x1="42.90" y1="505.50" x2="140.00" y2="505.50" stroke="#231f20" stroke-width="1.0"/>
<rect x="53.55" y="466.75" width="18.50" height="38.35" fill="#c8102e" stroke="#9c0c23" stroke-width="0.5"/>
<rect x="82.75" y="462.45" width="18.20" height="42.65" fill="#8898b8" stroke="#6a768f" stroke-width="0.5"/>
<rect x="111.65" y="461.95" width="18.20" height="43.15" fill="#1a4a82" stroke="#143965" stroke-width="0.5"/>
<line x1="91.50" y1="462.20" x2="91.50" y2="460.10" stroke="#231f20" stroke-width="1.0"/>
<line x1="88.35" y1="460.50" x2="95.35" y2="460.50" stroke="#231f20" stroke-width="1.0"/>
<line x1="120.50" y1="461.70" x2="120.50" y2="459.60" stroke="#231f20" stroke-width="1.0"/>
<line x1="117.25" y1="459.50" x2="124.25" y2="459.50" stroke="#231f20" stroke-width="1.0"/>
<text x="91.70" y="459.57" font-size="6.300000000000001" text-anchor="middle">**</text>
<text x="120.60" y="459.57" font-size="6.300000000000001" text-anchor="middle">**</text>
<line x1="62.50" y1="505.10" x2="62.50" y2="507.10" stroke="#231f20" stroke-width="1.0"/>
<line x1="91.50" y1="505.10" x2="91.50" y2="507.10" stroke="#231f20" stroke-width="1.0"/>
<line x1="120.50" y1="505.10" x2="120.50" y2="507.10" stroke="#231f20" stroke-width="1.0"/>
<text x="52.80" y="516.77" font-size="6.300000000000001" textLength="19.00" lengthAdjust="spacingAndGlyphs">Control</text>
<text x="91.80" y="516.77" font-size="6.300000000000001" text-anchor="middle">CL-Exo</text>
<text x="91.80" y="523.77" font-size="6.300000000000001" text-anchor="middle">12h</text>
<text x="120.80" y="516.77" font-size="6.300000000000001" text-anchor="middle">CL-Exo</text>
<text x="120.80" y="523.77" font-size="6.300000000000001" text-anchor="middle">24h</text>
<text transform="translate(24.01,489.90) rotate(-90)" font-size="7.0200000000000005" font-weight="bold" style="stroke-width:0.18px" textLength="30.30" lengthAdjust="spacingAndGlyphs">Cell viability</text>
<text x="83.40" y="549.80" font-size="8.6" textLength="15.50" lengthAdjust="spacingAndGlyphs">LP-1</text>
<line x1="43.50" y1="554.90" x2="43.50" y2="615.90" stroke="#231f20" stroke-width="1.0"/>
<line x1="41.30" y1="557.50" x2="43.30" y2="557.50" stroke="#231f20" stroke-width="1.0"/>
<text x="38.30" y="559.47" font-size="6.300000000000001" text-anchor="end">1.5</text>
<line x1="41.30" y1="576.50" x2="43.30" y2="576.50" stroke="#231f20" stroke-width="1.0"/>
<text x="38.30" y="578.87" font-size="6.300000000000001" text-anchor="end">1.0</text>
<line x1="41.30" y1="596.50" x2="43.30" y2="596.50" stroke="#231f20" stroke-width="1.0"/>
<text x="38.30" y="598.27" font-size="6.300000000000001" text-anchor="end">0.5</text>
<line x1="41.30" y1="615.50" x2="43.30" y2="615.50" stroke="#231f20" stroke-width="1.0"/>
<text x="38.30" y="617.67" font-size="6.300000000000001" text-anchor="end">0</text>
<line x1="43.30" y1="615.50" x2="140.00" y2="615.50" stroke="#231f20" stroke-width="1.0"/>
<rect x="51.55" y="576.95" width="14.00" height="38.55" fill="#c8102e" stroke="#9c0c23" stroke-width="0.5"/>
<rect x="74.05" y="586.65" width="14.00" height="28.85" fill="#38a832" stroke="#2b8327" stroke-width="0.5"/>
<rect x="96.95" y="589.75" width="14.40" height="25.75" fill="#8cbe6e" stroke="#6d9455" stroke-width="0.5"/>
<rect x="119.95" y="592.05" width="14.20" height="23.45" fill="#b4d6a0" stroke="#8ca67c" stroke-width="0.5"/>
<line x1="81.50" y1="586.40" x2="81.50" y2="584.30" stroke="#231f20" stroke-width="1.0"/>
<line x1="78.05" y1="584.50" x2="84.05" y2="584.50" stroke="#231f20" stroke-width="1.0"/>
<line x1="104.50" y1="589.50" x2="104.50" y2="587.80" stroke="#231f20" stroke-width="1.0"/>
<line x1="101.15" y1="587.50" x2="107.15" y2="587.50" stroke="#231f20" stroke-width="1.0"/>
<line x1="127.50" y1="591.80" x2="127.50" y2="589.50" stroke="#231f20" stroke-width="1.0"/>
<line x1="124.05" y1="589.50" x2="130.05" y2="589.50" stroke="#231f20" stroke-width="1.0"/>
<line x1="58.50" y1="615.50" x2="58.50" y2="617.50" stroke="#231f20" stroke-width="1.0"/>
<line x1="81.50" y1="615.50" x2="81.50" y2="617.50" stroke="#231f20" stroke-width="1.0"/>
<line x1="104.50" y1="615.50" x2="104.50" y2="617.50" stroke="#231f20" stroke-width="1.0"/>
<line x1="127.50" y1="615.50" x2="127.50" y2="617.50" stroke="#231f20" stroke-width="1.0"/>
<line x1="51.40" y1="571.50" x2="81.10" y2="571.50" stroke="#8a8a8a" stroke-width="1.0"/>
<line x1="78.70" y1="574.50" x2="122.60" y2="574.50" stroke="#231f20" stroke-width="1.0"/>
<line x1="78.70" y1="581.50" x2="100.70" y2="581.50" stroke="#231f20" stroke-width="1.0"/>
<text x="64.00" y="571.17" font-size="6.300000000000001" text-anchor="middle">****</text>
<text x="126.60" y="578.17" font-size="6.300000000000001" text-anchor="middle">**</text>
<text x="104.10" y="585.17" font-size="6.300000000000001" text-anchor="middle">*</text>
<text transform="translate(24.01,599.90) rotate(-90)" font-size="7.0200000000000005" font-weight="bold" style="stroke-width:0.18px" textLength="30.30" lengthAdjust="spacingAndGlyphs">Cell viability</text>
<text transform="translate(59.50,625.30) rotate(-45)" font-size="6.1" text-anchor="end">Control</text>
<text transform="translate(83.00,625.50) rotate(-45)" font-size="6.1" text-anchor="end">NK-92</text>
<text transform="translate(102.20,624.90) rotate(-45)" font-size="6.2" text-anchor="end">NK-92+CL-Exo</text>
<text transform="translate(107.60,629.00) rotate(-45)" font-size="6.2" text-anchor="end">12h</text>
<text transform="translate(126.50,625.10) rotate(-45)" font-size="6.2" text-anchor="end">NK-92+CL-Exo</text>
<text transform="translate(131.90,629.20) rotate(-45)" font-size="6.2" text-anchor="end">24h</text>
<filter id="tb" x="-5%" y="-5%" width="110%" height="110%"><feGaussianBlur stdDeviation="0.75"/></filter>
<clipPath id="cg1"><rect x="188.10" y="444.30" width="67.50" height="44.20"/></clipPath>
<g clip-path="url(#cg1)"><g filter="url(#tb)"><rect x="186.10" y="442.30" width="71.50" height="48.20" fill="#c6d1d5"/><path d="M218.7 468.2l-0.0 1.7M189.0 453.5l-1.7 0.1M214.7 447.3l0.4 0.5M213.4 463.4l-0.4 1.8M192.8 454.2l-0.1 0.4M247.9 478.7l-0.8 1.6M202.4 475.7l-0.9 1.0M237.3 472.4l-0.1 0.3M222.9 461.4l0.0 1.3M231.9 467.4l-1.3 0.6M215.5 470.7l-0.2 0.1M226.5 467.9l-0.0 0.0M242.5 447.6l0.5 0.1M249.2 463.2l0.1 0.1M193.6 449.2l-1.0 0.9" stroke="#a4a4b6" stroke-opacity="0.42" stroke-width="3.6" stroke-linecap="round" fill="none"/><path d="M228.2 452.1l-0.8 0.6M223.1 472.1l0.1 1.0M253.5 479.7l0.2 0.2M201.9 454.9l1.2 1.6M251.6 483.1l1.3 0.4M238.2 445.2l1.0 0.9M224.0 470.9l-1.5 1.2M245.1 486.8l0.9 0.6M209.4 485.1l-0.0 0.0M219.2 467.1l0.7 0.0M213.5 448.6l-0.0 0.1M191.9 450.9l-1.8 0.6M220.6 453.5l-0.4 0.2" stroke="#a4a4b6" stroke-opacity="0.42" stroke-width="2.8" stroke-linecap="round" fill="none"/><path d="M194.5 457.6l-0.2 0.3M204.6 448.7l0.2 0.1M193.4 447.3l-0.7 2.0M250.3 473.7l-1.4 3.2M187.8 457.0l2.1 1.2M206.1 451.3l1.3 1.0M216.8 471.5l-1.6 0.9M189.9 480.0l0.2 0.1M251.9 447.8l0.5 0.6M242.5 483.6l1.4 1.0M229.6 485.2l0.5 0.0M230.0 447.6l-0.1 2.6M243.8 461.6l0.9 2.7M234.7 445.0l-0.7 0.2M224.5 466.5l1.7 1.1M239.1 461.1l1.2 2.3M236.1 476.3l-1.3 3.3M243.2 470.8l0.1 0.4M233.1 464.0l0.2 0.9" stroke="#a4a4b6" stroke-opacity="0.42" stroke-width="2.0" stroke-linecap="round" fill="none"/><path d="M191.1 487.2l-0.4 1.0M204.8 452.6l0.2 0.2M225.2 476.5l-0.5 0.7M246.9 462.5l-0.1 0.4M231.1 487.8l0.3 0.7M248.8 448.0l0.9 0.4M236.9 481.4l0.0 0.1M204.3 449.0l-0.3 0.8" stroke="#a4a4b6" stroke-opacity="0.42" stroke-width="4.4" stroke-linecap="round" fill="none"/><path d="M197.8 444.3l1.9 1.3M230.9 448.7l1.3 1.4M216.1 482.0l-2.7 0.1M244.2 470.1l-0.9 1.1M218.3 446.5l-0.2 1.0M204.1 450.2l0.1 0.6M236.7 451.7l-0.8 1.1M225.6 466.4l-2.6 0.2M250.2 455.2l0.4 2.1M235.8 481.2l-0.7 0.8M215.0 452.9l1.0 0.0M250.9 450.3l0.0 2.1M201.6 445.5l0.4 2.3M216.4 471.8l0.7 0.2" stroke="#a4a4b6" stroke-opacity="0.42" stroke-width="1.6" stroke-linecap="round" fill="none"/><path d="M205.0 445.3l-1.1 0.6M225.7 464.0l0.3 0.1M246.7 452.3l-0.1 0.1M190.6 486.7l0.3 0.3M242.1 484.6l-0.8 0.3M246.7 460.9l1.5 0.7M191.6 475.1l-1.3 1.0M235.5 447.1l-1.5 0.2M200.7 453.4l0.9 1.9M204.7 452.3l0.6 1.4M196.1 454.5l2.1 0.7M219.9 444.4l-0.3 0.8M204.2 485.2l-1.0 1.8M228.5 460.1l-0.1 0.6M202.4 462.8l0.2 0.5M232.5 487.7l-0.5 0.6" stroke="#a4a4b6" stroke-opacity="0.42" stroke-width="2.4" stroke-linecap="round" fill="none"/><path d="M207.0 488.2l-0.2 0.3M197.0 460.3l-0.0 0.0M201.7 481.4l0.3 0.1M238.4 446.5l0.4 0.1" stroke="#a4a4b6" stroke-opacity="0.42" stroke-width="5.2" stroke-linecap="round" fill="none"/><path d="M210.1 453.8l-1.4 1.2M190.4 449.7l-2.1 1.2M210.7 478.5l-0.1 1.3M216.3 467.1l-0.6 1.3M237.1 455.0l1.8 1.3M206.6 475.3l1.3 1.3M231.6 477.6l-1.5 0.1M251.2 462.8l-2.0 0.8" stroke="#a4a4b6" stroke-opacity="0.42" stroke-width="1.2" stroke-linecap="round" fill="none"/><path d="M215.2 481.7l-0.2 0.1M220.7 476.6l0.0 0.0M229.9 461.1l0.9 0.2M237.5 469.9l0.4 0.1M249.1 473.3l0.2 0.3M233.2 453.0l-0.3 0.1M218.9 470.9l-0.4 2.0M193.7 463.4l0.0 0.8M253.5 449.1l-0.0 0.6M192.2 486.2l0.2 0.4M229.4 445.8l-0.2 2.2M224.1 485.7l-1.4 0.1M212.5 455.7l-0.4 1.2M193.8 473.8l0.3 0.7" stroke="#a4a4b6" stroke-opacity="0.42" stroke-width="3.2" stroke-linecap="round" fill="none"/><path d="M193.7 458.9l0.6 0.2M230.7 473.2l-0.1 0.1M241.4 458.2l0.2 0.4M209.0 461.1l0.2 0.1M203.8 477.0l0.1 0.1" stroke="#a4a4b6" stroke-opacity="0.42" stroke-width="4.8" stroke-linecap="round" fill="none"/><path d="M206.4 484.1l1.3 1.4M233.9 470.1l1.7 0.1M255.1 464.0l-1.4 0.6M201.5 464.4l0.2 1.8M233.7 452.6l1.4 0.2M249.5 482.6l0.9 1.0" stroke="#a4a4b6" stroke-opacity="0.42" stroke-width="0.8" stroke-linecap="round" fill="none"/><path d="M235.2 466.2l0.1 0.2M222.1 481.2l-1.0 0.2M248.5 479.5l-0.2 0.5M205.8 484.4l-0.6 0.4M215.9 483.5l-0.9 0.8M222.4 487.0l-0.0 0.0" stroke="#a4a4b6" stroke-opacity="0.42" stroke-width="4.0" stroke-linecap="round" fill="none"/><path d="M202.5 484.1l-0.0 0.0M240.6 467.8l-0.0 0.0" stroke="#a4a4b6" stroke-opacity="0.42" stroke-width="5.6" stroke-linecap="round" fill="none"/><path d="M193.7 447.6l-0.5 0.8M197.1 459.9l1.3 0.5M241.9 461.0l0.6 0.7" stroke="#8a88a0" stroke-opacity="0.45" stroke-width="2.0" stroke-linecap="round" fill="none"/><path d="M208.5 478.1l-0.5 0.9M239.4 482.5l-0.1 1.5M253.4 465.5l-1.3 0.2M254.9 472.7l0.1 1.4" stroke="#8a88a0" stroke-opacity="0.45" stroke-width="0.8" stroke-linecap="round" fill="none"/><path d="M193.4 457.5l0.3 0.4M241.6 468.0l0.7 0.4M250.2 462.3l-0.7 0.3M208.8 449.3l0.3 0.2M192.2 464.6l0.2 0.0" stroke="#8a88a0" stroke-opacity="0.45" stroke-width="2.8" stroke-linecap="round" fill="none"/><path d="M236.1 469.4l-0.2 0.1M242.5 481.1l-0.1 0.1" stroke="#8a88a0" stroke-opacity="0.45" stroke-width="3.6" stroke-linecap="round" fill="none"/><path d="M217.5 479.3l0.4 1.1M251.0 483.4l0.4 0.9M212.8 461.1l-0.3 1.3M238.8 472.7l-0.7 0.7M195.7 452.1l-0.6 0.7M227.9 454.0l0.7 0.4" stroke="#8a88a0" stroke-opacity="0.45" stroke-width="1.2" stroke-linecap="round" fill="none"/><path d="M225.1 469.2l-0.6 0.4" stroke="#8a88a0" stroke-opacity="0.45" stroke-width="3.2" stroke-linecap="round" fill="none"/><path d="M191.5 468.2l1.8 0.5M237.8 484.0l0.2 0.1M223.8 478.1l-0.9 0.1" stroke="#8a88a0" stroke-opacity="0.45" stroke-width="1.6" stroke-linecap="round" fill="none"/><path d="M233.6 465.9l-0.3 0.4M223.3 475.1l0.3 1.1M197.3 476.7l1.4 0.8M201.9 463.1l0.0 0.0M239.2 457.8l0.0 0.5M205.8 482.8l-0.2 1.4" stroke="#8a88a0" stroke-opacity="0.45" stroke-width="2.4" stroke-linecap="round" fill="none"/><path d="M210.0 477.3l0.8 0.4M209.1 480.6l0.3 0.5" stroke="#4a4563" stroke-opacity="0.7" stroke-width="2.8" stroke-linecap="round" fill="none"/><path d="M204.4 467.0l-0.0 0.2M200.6 481.1l-0.5 1.4" stroke="#4a4563" stroke-opacity="0.7" stroke-width="2.4" stroke-linecap="round" fill="none"/><path d="M217.6 481.7l0.6 0.3M202.3 465.1l0.1 1.7M223.0 468.6l-1.9 1.1M219.8 467.1l0.5 1.6M210.5 475.3l0.1 0.6M207.8 467.7l0.6 1.1" stroke="#4a4563" stroke-opacity="0.7" stroke-width="2.0" stroke-linecap="round" fill="none"/><path d="M221.7 459.9l-0.3 0.2" stroke="#4a4563" stroke-opacity="0.7" stroke-width="3.6" stroke-linecap="round" fill="none"/><path d="M213.1 480.9l0.1 0.2M212.5 481.3l0.8 0.0" stroke="#4a4563" stroke-opacity="0.7" stroke-width="3.2" stroke-linecap="round" fill="none"/><path d="M206.6 471.5l-1.4 0.8M211.3 474.3l-0.7 0.8" stroke="#4a4563" stroke-opacity="0.7" stroke-width="1.6" stroke-linecap="round" fill="none"/><path d="M208.7 466.3l0.1 1.0" stroke="#4a4563" stroke-opacity="0.7" stroke-width="1.2" stroke-linecap="round" fill="none"/><path d="M244.2 447.9l-0.6 0.9M194.0 453.8l0.3 1.1" stroke="#55506c" stroke-opacity="0.55" stroke-width="0.8" stroke-linecap="round" fill="none"/><path d="M236.0 452.1l-0.1 0.4" stroke="#55506c" stroke-opacity="0.55" stroke-width="2.0" stroke-linecap="round" fill="none"/><path d="M193.2 484.6l-0.4 0.8M239.8 480.2l0.2 0.7M232.3 448.8l-0.6 0.5" stroke="#55506c" stroke-opacity="0.55" stroke-width="1.6" stroke-linecap="round" fill="none"/><path d="M189.2 461.9l-0.2 0.1" stroke="#55506c" stroke-opacity="0.55" stroke-width="2.8" stroke-linecap="round" fill="none"/><path d="M232.6 471.0l0.2 0.4" stroke="#55506c" stroke-opacity="0.55" stroke-width="1.2" stroke-linecap="round" fill="none"/></g></g>
<clipPath id="cg2"><rect x="257.30" y="444.30" width="68.40" height="44.20"/></clipPath>
<g clip-path="url(#cg2)"><g filter="url(#tb)"><rect x="255.30" y="442.30" width="72.40" height="48.20" fill="#c2cdd1"/><path d="M314.0 471.2l-0.5 0.2M295.4 468.8l-1.9 0.6M277.4 483.7l-0.7 0.4M268.9 466.9l0.5 0.8M302.4 445.8l-2.4 0.3M292.9 454.5l0.8 0.7M319.3 447.2l-0.3 2.8M297.3 446.3l0.1 0.1M302.0 482.5l1.2 1.7M269.8 482.2l0.4 3.5M322.9 450.7l-0.9 2.6M273.4 465.5l0.0 0.8M288.9 455.5l-2.8 0.8M275.3 470.2l0.3 0.2M266.5 461.5l1.0 0.3M275.0 468.6l-0.9 0.2M318.8 445.1l1.1 0.3M299.8 448.1l1.5 0.3M282.7 458.4l1.6 0.9M284.6 465.1l0.4 0.4M281.6 482.8l-1.0 1.8M267.3 481.5l2.2 2.2M285.5 484.2l-2.2 2.8M303.5 467.7l2.5 1.5M264.2 485.4l0.8 0.3M275.4 453.7l1.2 1.3M281.3 477.6l1.1 0.0M305.9 453.8l-0.8 3.2M307.0 468.0l2.3 0.8M318.9 458.4l-2.7 0.1M283.5 472.6l-0.7 0.3M266.7 487.6l-1.5 0.9M294.3 483.0l1.2 2.6M317.2 476.1l0.2 0.7M287.8 446.4l0.3 1.5M258.8 471.4l0.2 1.7" stroke="#9c9db0" stroke-opacity="0.42" stroke-width="2.0" stroke-linecap="round" fill="none"/><path d="M295.5 459.0l-1.4 1.7M326.3 479.8l-2.2 1.3M271.0 464.5l-0.2 0.9M307.6 457.3l2.3 1.0M322.0 443.8l0.7 1.1M276.9 477.1l-0.2 1.3M262.3 462.4l-1.7 0.2M316.0 453.8l1.1 0.9M263.9 458.5l-0.5 1.9M304.8 467.4l1.0 2.8M296.6 465.0l1.6 0.1M291.5 468.6l-1.2 1.2M293.3 454.4l1.1 0.7M314.4 479.3l-0.4 0.7M273.3 452.4l-0.4 0.1M265.5 458.6l0.0 0.5M279.9 444.0l-0.9 2.3M271.9 486.6l-0.4 0.2M283.0 472.3l-1.6 0.5M287.1 486.4l-0.7 0.9M276.7 472.5l-0.5 0.4M282.3 457.2l-0.7 1.7M271.7 487.8l1.0 0.5M276.8 478.6l1.3 0.2" stroke="#9c9db0" stroke-opacity="0.42" stroke-width="1.6" stroke-linecap="round" fill="none"/><path d="M324.6 466.9l0.5 0.3M292.7 466.1l-0.1 1.0M273.7 463.5l-0.6 0.5M274.9 451.2l-0.4 0.3M259.4 488.1l0.6 0.5M281.4 459.1l1.5 0.2M323.9 457.3l0.3 0.3M270.0 464.9l0.1 0.2M284.9 458.5l0.0 0.0M324.9 446.8l0.8 0.8M279.0 473.9l-0.2 0.0M325.5 461.4l-0.6 0.8M258.3 450.7l-0.6 0.7" stroke="#9c9db0" stroke-opacity="0.42" stroke-width="4.0" stroke-linecap="round" fill="none"/><path d="M321.4 471.5l1.1 1.1M288.5 465.6l-1.3 1.8M269.5 450.6l0.2 0.8M288.9 477.1l-0.9 0.3M285.2 472.6l-0.6 0.8M269.3 468.2l1.1 0.9M316.9 452.4l-1.2 1.8M282.2 446.0l0.0 2.3M268.6 445.3l1.4 0.3M267.1 458.6l-0.0 2.4M299.0 474.4l-0.8 1.2M263.9 483.4l0.4 1.0M284.5 476.6l-0.5 1.0M311.5 449.1l-2.2 1.1M322.0 483.5l-0.1 0.9M265.8 468.8l-0.0 1.3" stroke="#9c9db0" stroke-opacity="0.42" stroke-width="1.2" stroke-linecap="round" fill="none"/><path d="M296.7 475.1l0.0 0.0M293.2 467.4l0.2 0.3M261.2 483.1l0.8 1.6M260.3 470.4l-1.3 0.5M316.1 469.5l0.7 1.9M316.9 458.5l1.6 0.3M260.5 445.1l-0.9 0.6M305.5 449.1l0.0 0.4M316.6 488.1l-0.3 0.3M283.6 454.0l-0.0 1.0M265.4 452.2l-0.1 0.2M306.8 473.9l-0.0 0.0" stroke="#9c9db0" stroke-opacity="0.42" stroke-width="3.2" stroke-linecap="round" fill="none"/><path d="M290.5 449.3l-3.0 0.9M325.3 485.0l-1.0 1.7M316.3 462.2l-1.1 0.3M286.2 479.7l-0.1 0.4M278.7 484.4l-2.5 1.4M281.6 465.2l-0.2 0.0M271.0 472.2l0.3 0.0M262.4 454.0l0.6 0.4M320.4 473.7l0.6 0.2M298.1 456.8l0.5 0.1M295.7 472.5l-0.7 0.6M295.1 467.8l2.2 1.1M278.6 445.8l-0.1 0.7M314.4 460.1l1.1 2.1M283.7 484.1l0.9 2.0M259.0 457.9l1.0 0.5M277.1 459.3l2.6 1.8M281.2 483.2l-0.4 0.6M304.7 485.7l-1.0 2.4M265.7 446.2l-0.6 0.0M295.9 473.2l-1.8 0.4M309.8 487.9l0.0 0.0M273.2 461.2l-0.8 0.5M270.5 458.6l-1.3 2.9M258.1 459.0l0.5 0.6M289.2 450.0l-0.0 0.0M286.4 480.0l-0.0 1.1M322.0 458.6l-0.5 2.1M325.8 446.7l-0.6 1.1M300.1 476.9l-0.3 0.4M264.4 481.8l-0.0 0.2" stroke="#9c9db0" stroke-opacity="0.42" stroke-width="2.4" stroke-linecap="round" fill="none"/><path d="M269.4 468.1l1.2 0.8M281.7 456.0l0.9 0.9M284.4 454.2l-0.4 1.3M283.4 483.8l-0.0 1.3M273.1 473.4l-0.3 2.0M291.8 449.6l1.4 0.5" stroke="#9c9db0" stroke-opacity="0.42" stroke-width="0.8" stroke-linecap="round" fill="none"/><path d="M307.5 461.2l0.5 0.0M309.2 477.5l-0.1 0.1M290.6 485.0l1.5 1.2M269.5 454.3l0.3 0.7M307.9 460.8l1.5 0.9M289.3 457.9l-0.0 0.0M305.2 455.6l0.9 0.5M296.9 485.4l-0.4 1.1M321.1 451.0l-0.1 0.1M279.6 476.5l-1.8 0.8M312.4 464.3l0.3 0.2M322.3 456.9l0.6 0.6M280.8 479.8l-0.2 1.4" stroke="#9c9db0" stroke-opacity="0.42" stroke-width="3.6" stroke-linecap="round" fill="none"/><path d="M298.5 464.8l-0.4 0.6M264.7 476.3l-0.3 0.1M324.0 463.7l1.1 0.2M268.0 485.5l-0.3 0.4M271.0 455.9l0.6 1.7M285.5 462.6l-0.2 0.1M284.3 454.4l-0.1 1.0M291.8 479.3l0.4 0.4M306.4 458.7l-0.4 0.2M314.1 469.1l-0.3 0.7M324.0 449.4l-0.7 1.5M259.6 446.9l2.3 0.6M271.1 465.1l-2.6 1.1M289.4 462.4l2.1 0.4M311.8 476.6l-0.5 0.3M279.1 448.3l0.3 0.2M315.4 471.9l1.0 0.4M314.5 474.4l0.2 0.8M259.6 471.6l-0.2 0.8M264.4 445.8l-0.4 0.2M319.5 446.2l-1.1 2.5M276.8 482.8l-0.1 0.2M288.5 485.3l-0.2 0.6M285.1 449.0l0.6 2.3M293.8 448.2l-0.0 2.0M272.7 464.0l-1.1 0.5" stroke="#9c9db0" stroke-opacity="0.42" stroke-width="2.8" stroke-linecap="round" fill="none"/><path d="M261.2 476.0l-0.3 0.8M262.5 484.4l-1.0 0.4M306.1 450.2l0.0 0.1M282.7 457.8l0.3 0.4M269.5 456.4l0.0 0.0M301.7 485.5l-0.0 0.6M291.0 454.8l-0.4 0.3M282.2 452.5l-0.8 0.9" stroke="#9c9db0" stroke-opacity="0.42" stroke-width="4.4" stroke-linecap="round" fill="none"/><path d="M260.2 465.9l0.0 0.0M304.2 473.5l0.5 0.4M300.0 469.0l0.1 0.2M284.1 471.6l0.0 0.0M285.1 471.2l0.1 0.3" stroke="#9c9db0" stroke-opacity="0.42" stroke-width="4.8" stroke-linecap="round" fill="none"/><path d="M273.4 465.6l0.5 0.7M293.1 472.3l0.6 0.6M283.0 471.8l-0.8 0.5M301.4 466.0l0.6 0.8" stroke="#7a7892" stroke-opacity="0.5" stroke-width="0.8" stroke-linecap="round" fill="none"/><path d="M317.9 468.5l0.4 1.6M269.3 457.7l0.1 0.2M279.0 460.6l0.4 0.8M288.6 463.5l0.1 0.0M297.5 478.5l0.3 0.7M281.6 467.7l0.0 1.2M280.8 470.4l-0.1 0.1M316.0 469.1l-0.0 0.0M319.1 477.4l0.0 0.1M305.9 461.2l0.8 0.3M294.5 475.1l0.0 0.2M305.6 454.5l0.5 1.0M296.6 474.9l0.0 0.7" stroke="#7a7892" stroke-opacity="0.5" stroke-width="1.6" stroke-linecap="round" fill="none"/><path d="M291.9 469.5l-0.0 0.2" stroke="#7a7892" stroke-opacity="0.5" stroke-width="3.2" stroke-linecap="round" fill="none"/><path d="M293.0 476.7l-0.8 0.9M293.5 466.2l1.1 0.4M285.9 458.9l-1.0 1.0M268.2 472.7l-0.1 0.5" stroke="#7a7892" stroke-opacity="0.5" stroke-width="1.2" stroke-linecap="round" fill="none"/><path d="M291.8 450.3l0.0 0.0M279.8 473.8l0.0 0.0" stroke="#7a7892" stroke-opacity="0.5" stroke-width="2.4" stroke-linecap="round" fill="none"/><path d="M283.1 459.3l-0.2 0.4" stroke="#7a7892" stroke-opacity="0.5" stroke-width="2.8" stroke-linecap="round" fill="none"/><path d="M297.2 449.7l-0.6 0.9M317.3 466.1l0.4 1.4M266.9 462.9l-0.3 0.1M292.0 470.6l0.4 0.1M273.9 460.1l0.3 0.7" stroke="#7a7892" stroke-opacity="0.5" stroke-width="2.0" stroke-linecap="round" fill="none"/><path d="M318.7 459.5l0.8 0.8M318.6 468.4l0.5 0.5M306.0 463.3l0.8 0.4M318.3 466.1l-1.0 0.8M291.9 469.0l-1.0 0.5" stroke="#5a566e" stroke-opacity="0.55" stroke-width="1.2" stroke-linecap="round" fill="none"/><path d="M308.2 463.4l-0.7 0.4M307.8 458.6l-0.1 0.8M286.4 459.0l0.0 0.8" stroke="#5a566e" stroke-opacity="0.55" stroke-width="0.8" stroke-linecap="round" fill="none"/><path d="M292.0 465.6l-0.1 0.3M308.8 456.5l0.1 0.0M284.6 457.9l0.4 0.2" stroke="#5a566e" stroke-opacity="0.55" stroke-width="1.6" stroke-linecap="round" fill="none"/><path d="M309.5 463.6l-0.1 0.2" stroke="#5a566e" stroke-opacity="0.55" stroke-width="2.4" stroke-linecap="round" fill="none"/></g></g>
<clipPath id="cg3"><rect x="188.10" y="489.60" width="67.50" height="45.60"/></clipPath>
<g clip-path="url(#cg3)"><g filter="url(#tb)"><rect x="186.10" y="487.60" width="71.50" height="49.60" fill="#cdd1dc"/><path d="M207.1 502.4l-1.2 0.5M223.4 491.9l-0.2 2.4M216.9 534.5l-1.6 0.5M211.2 524.8l-0.5 1.7M238.1 509.4l0.0 3.8M252.9 511.4l-1.9 1.1M208.7 498.6l-0.2 4.2M233.1 492.5l-3.1 0.2M254.3 518.0l0.6 0.1M238.0 500.7l0.7 0.6M242.0 522.8l-0.7 1.0M254.3 499.6l0.9 0.5" stroke="#a2a1b4" stroke-opacity="0.5" stroke-width="2.4" stroke-linecap="round" fill="none"/><path d="M199.0 528.0l-0.2 1.5M189.8 490.4l-0.1 1.4M209.3 505.1l0.4 1.6M211.5 525.7l-0.4 0.1M204.1 513.7l1.8 1.2M228.1 521.5l-0.3 1.1" stroke="#a2a1b4" stroke-opacity="0.5" stroke-width="4.8" stroke-linecap="round" fill="none"/><path d="M237.7 513.9l-0.2 0.2M226.8 534.3l-0.3 0.2M242.9 533.8l-1.1 0.8M200.7 519.0l0.2 0.3M239.6 514.9l-0.1 0.0" stroke="#a2a1b4" stroke-opacity="0.5" stroke-width="5.2" stroke-linecap="round" fill="none"/><path d="M206.7 491.2l-2.1 1.7M241.2 533.1l1.1 1.9M248.7 533.1l-2.6 0.6M218.2 516.5l1.9 1.3M189.9 498.7l-1.0 1.8M222.4 508.2l0.2 0.2M241.0 513.0l-1.8 2.3M256.0 514.6l-2.0 1.9" stroke="#a2a1b4" stroke-opacity="0.5" stroke-width="4.0" stroke-linecap="round" fill="none"/><path d="M204.3 510.2l-0.9 0.2M221.6 493.1l-1.4 0.1M211.9 489.0l-0.7 2.6M222.2 500.1l2.4 2.2M223.5 492.3l2.1 1.7M196.1 521.4l3.2 1.5M210.7 515.5l-0.6 0.0M235.4 505.2l-1.7 0.4M193.9 526.0l-0.2 0.2M190.3 495.7l-1.3 2.5M236.8 522.4l-0.3 0.6M252.1 527.9l0.8 1.2M218.1 503.1l1.2 1.7M233.7 523.3l-0.6 0.1M189.7 507.3l-1.0 2.6M204.8 507.3l-3.6 1.0M197.7 525.1l-0.7 0.1M205.9 515.1l1.4 0.8M216.5 495.2l-0.2 2.0M190.9 525.7l-1.9 2.5M235.2 503.4l0.3 3.2" stroke="#a2a1b4" stroke-opacity="0.5" stroke-width="3.2" stroke-linecap="round" fill="none"/><path d="M223.2 515.3l-2.0 0.3M197.2 532.0l-3.3 1.0M245.2 492.2l3.5 0.3M226.5 495.0l-1.1 1.4M225.2 523.7l4.0 0.9M251.7 533.9l0.2 0.5M226.8 517.2l0.0 2.5M253.1 523.9l-0.1 1.9M220.4 532.9l-0.5 0.8M239.5 491.8l0.7 0.8M235.7 509.2l0.2 2.4M235.1 509.1l-0.2 1.0M255.3 494.7l-1.6 0.7" stroke="#a2a1b4" stroke-opacity="0.5" stroke-width="2.0" stroke-linecap="round" fill="none"/><path d="M194.9 515.3l0.1 0.1M211.9 512.1l0.1 0.5M229.6 515.6l-0.2 3.9M252.9 491.0l-0.1 0.0M240.8 504.5l0.5 0.5M255.0 507.2l-0.2 0.1M212.3 491.4l3.0 2.3M191.4 496.9l0.3 0.2M205.9 517.2l-0.5 1.2M251.3 526.7l-0.1 3.7M254.4 502.6l0.3 0.3M205.5 529.8l-0.3 1.9M237.5 525.6l-2.7 1.8M247.1 503.6l-0.3 0.3M251.4 517.9l0.8 1.7M239.8 520.5l1.3 1.5M251.6 518.3l1.1 1.0M188.6 492.7l1.3 0.5M241.3 521.1l0.3 1.6M231.4 529.6l-2.2 1.5M213.1 502.0l1.2 0.1M253.9 504.7l-1.4 0.8" stroke="#a2a1b4" stroke-opacity="0.5" stroke-width="2.8" stroke-linecap="round" fill="none"/><path d="M251.6 534.0l-0.3 0.2" stroke="#a2a1b4" stroke-opacity="0.5" stroke-width="6.4" stroke-linecap="round" fill="none"/><path d="M251.5 490.1l-0.6 0.9M222.9 504.3l1.4 1.3M213.2 495.1l0.1 0.0M196.9 513.2l-0.9 0.9M224.4 510.5l0.2 0.2M226.0 496.3l3.0 0.9M220.3 517.2l0.6 3.2M250.7 531.1l-0.0 0.1M232.1 519.8l0.6 0.5M205.8 521.7l-1.4 0.1" stroke="#a2a1b4" stroke-opacity="0.5" stroke-width="3.6" stroke-linecap="round" fill="none"/><path d="M247.6 496.9l0.1 1.5M200.1 505.2l0.9 0.6M222.5 506.6l0.5 0.6M222.8 504.8l-1.5 0.8M210.3 492.3l-0.1 1.0M214.1 519.3l-1.4 0.6" stroke="#a2a1b4" stroke-opacity="0.5" stroke-width="1.6" stroke-linecap="round" fill="none"/><path d="M209.0 504.2l-1.1 0.8M208.0 523.7l2.0 1.1M220.9 490.2l0.2 2.0M238.5 507.5l-0.4 0.9M240.2 510.3l0.0 0.2M193.7 503.0l-1.0 0.6M209.6 508.9l-0.6 1.6" stroke="#a2a1b4" stroke-opacity="0.5" stroke-width="4.4" stroke-linecap="round" fill="none"/><path d="M233.9 529.8l0.0 0.1M246.7 524.4l-0.1 0.4M192.0 515.9l0.2 0.5" stroke="#a2a1b4" stroke-opacity="0.5" stroke-width="5.6" stroke-linecap="round" fill="none"/><path d="M222.9 532.6l1.5 0.4M218.9 497.8l1.3 0.2M252.1 529.6l1.0 1.1M191.2 521.1l0.1 1.8M250.1 500.7l1.9 0.5" stroke="#a2a1b4" stroke-opacity="0.5" stroke-width="1.2" stroke-linecap="round" fill="none"/><path d="M213.3 530.1l0.3 0.8" stroke="#a2a1b4" stroke-opacity="0.5" stroke-width="6.0" stroke-linecap="round" fill="none"/><path d="M250.3 520.0l-0.8 1.0M243.2 514.1l3.4 0.5M229.5 532.0l0.2 0.6M193.3 497.7l-1.4 0.8M236.4 511.8l0.3 0.7M189.7 494.4l1.8 0.7M232.5 532.8l-0.2 1.1M196.8 524.9l0.5 0.6M199.9 490.3l-1.7 1.9M227.3 512.2l2.8 1.2M240.7 494.3l0.1 0.6M232.8 506.1l-2.3 0.2M225.3 493.8l0.8 0.4M245.0 526.2l0.4 0.1M209.8 505.4l-0.6 1.9M247.8 527.9l1.9 2.4M226.1 502.7l0.2 0.4M207.9 494.8l0.6 0.0" stroke="#4d4866" stroke-opacity="0.6" stroke-width="1.2" stroke-linecap="round" fill="none"/><path d="M201.9 528.2l1.5 3.4M195.3 527.5l0.9 1.4M221.8 507.8l0.1 1.2M195.1 518.4l-0.4 0.4M188.9 529.0l-0.3 2.2M238.6 529.0l-1.1 0.1M199.1 523.3l-1.5 3.9M206.1 506.3l3.8 0.1M220.7 501.5l-1.7 3.6M205.2 524.0l0.2 0.3M188.0 510.1l2.3 0.3M219.3 515.1l0.3 0.6M247.9 492.5l-0.2 0.6M237.2 526.1l3.8 1.5M240.2 508.8l0.6 1.4M219.1 519.4l-0.6 2.8M199.5 534.8l0.2 0.1M192.1 491.3l0.4 1.3M246.7 506.0l1.5 0.1M237.3 519.6l-0.4 1.6M240.4 511.4l-2.8 1.1" stroke="#4d4866" stroke-opacity="0.6" stroke-width="2.4" stroke-linecap="round" fill="none"/><path d="M203.4 522.3l0.2 0.0M225.4 505.1l1.1 1.5M189.6 503.3l-0.1 0.2M239.2 492.2l0.2 0.1M202.1 490.9l-0.8 0.1M223.9 491.8l0.1 0.1M200.7 522.6l0.4 0.0M239.3 522.5l0.2 0.1M199.0 491.2l0.1 0.1M219.3 490.0l1.6 2.8M216.6 528.4l-4.0 0.3M210.3 517.1l-0.9 0.4M189.0 489.7l-1.7 0.0M224.3 519.6l4.8 1.5M245.6 506.5l0.6 0.0M191.0 507.7l0.4 0.2M237.0 528.7l-0.1 4.1M219.6 498.2l1.0 1.2M201.1 494.9l-0.1 0.4M224.6 524.6l3.9 1.9M233.0 507.1l0.3 2.7M224.1 516.1l-0.0 0.0M225.1 525.4l-3.2 3.1M229.5 514.5l0.4 4.7M213.1 532.7l0.8 0.4" stroke="#4d4866" stroke-opacity="0.6" stroke-width="1.6" stroke-linecap="round" fill="none"/><path d="M211.8 534.5l0.3 0.1M210.3 496.3l0.2 0.2M201.4 510.4l-1.1 1.1M190.6 509.8l-0.2 1.5M192.5 530.8l1.1 1.8M195.7 496.0l0.5 0.1M239.3 500.0l0.9 0.2M200.5 503.5l0.7 1.0M243.0 531.5l-0.3 0.1M207.9 509.3l1.3 0.9M208.7 508.1l-1.8 1.1" stroke="#4d4866" stroke-opacity="0.6" stroke-width="4.4" stroke-linecap="round" fill="none"/><path d="M193.9 489.3l2.1 2.4M232.7 520.8l0.8 1.0M205.3 489.9l0.8 0.9M235.0 522.6l-0.3 1.9M248.7 513.1l-4.7 0.1M203.0 508.8l-0.6 2.4M230.4 490.2l0.6 0.5M210.6 499.6l-1.6 3.6M243.7 499.4l0.1 3.3M244.2 498.7l2.5 0.0M231.0 490.9l0.2 3.3M221.8 507.7l-2.1 0.0M238.4 491.0l0.5 3.1M225.5 503.9l-0.3 0.3M196.1 493.7l0.0 0.5M232.3 505.9l-0.8 1.6M244.2 506.0l1.6 2.5M246.6 515.8l0.2 0.1M197.0 505.3l-0.5 0.7M197.1 491.6l1.6 0.2" stroke="#4d4866" stroke-opacity="0.6" stroke-width="2.0" stroke-linecap="round" fill="none"/><path d="M248.3 523.5l-0.7 1.0M227.5 497.3l-0.2 0.4M235.1 533.6l0.5 1.4M221.1 511.7l1.4 1.4M236.1 527.5l1.6 2.4M229.3 494.7l-0.6 1.6M218.4 505.6l0.3 0.3" stroke="#4d4866" stroke-opacity="0.6" stroke-width="3.6" stroke-linecap="round" fill="none"/><path d="M223.6 513.7l0.4 0.3M207.6 497.9l-0.5 0.8M212.1 505.3l-0.4 0.7" stroke="#4d4866" stroke-opacity="0.6" stroke-width="5.2" stroke-linecap="round" fill="none"/><path d="M247.2 534.7l0.7 0.2M228.7 520.2l0.7 0.9M213.6 496.8l0.2 0.2M193.0 509.0l0.9 0.1" stroke="#4d4866" stroke-opacity="0.6" stroke-width="5.6" stroke-linecap="round" fill="none"/><path d="M204.3 533.2l0.9 1.3M188.6 496.2l0.8 0.3M253.5 500.4l-0.1 0.2M213.1 495.6l0.6 1.6M251.4 495.3l0.3 0.7M254.4 501.4l0.6 0.4M195.3 516.5l2.9 1.1M247.8 519.2l-2.9 2.5M194.2 524.3l1.3 3.3M191.9 499.9l2.0 1.7M194.5 524.7l0.8 1.5" stroke="#4d4866" stroke-opacity="0.6" stroke-width="2.8" stroke-linecap="round" fill="none"/><path d="M226.2 532.1l-0.2 0.6M193.0 524.3l-0.0 0.1M215.6 502.9l-1.2 1.9M220.1 512.3l-2.5 0.6M227.5 491.2l2.9 1.4M218.2 505.3l-3.4 0.8M224.2 508.0l-0.6 0.9M191.0 495.3l0.6 3.3" stroke="#4d4866" stroke-opacity="0.6" stroke-width="3.2" stroke-linecap="round" fill="none"/><path d="M194.9 491.5l-1.9 0.5M233.7 521.8l-0.6 2.1M198.1 508.5l0.1 0.7M210.8 508.2l0.1 1.2M237.1 490.6l0.5 0.8M231.0 510.8l1.4 0.8" stroke="#4d4866" stroke-opacity="0.6" stroke-width="4.0" stroke-linecap="round" fill="none"/><path d="M201.7 518.0l-0.2 1.7M235.5 530.6l0.6 0.8M203.7 490.1l-0.2 1.6M230.5 510.6l0.6 0.6M248.6 511.4l-1.4 0.5M249.2 524.8l-0.6 1.8M204.9 520.0l1.1 0.8M243.9 507.0l1.7 0.1M220.6 505.9l1.3 1.8" stroke="#4d4866" stroke-opacity="0.6" stroke-width="0.8" stroke-linecap="round" fill="none"/><path d="M238.6 525.2l0.4 0.2M239.2 512.4l-0.9 0.3" stroke="#4d4866" stroke-opacity="0.6" stroke-width="4.8" stroke-linecap="round" fill="none"/><path d="M248.7 515.9l-0.0 0.0" stroke="#4d4866" stroke-opacity="0.6" stroke-width="6.4" stroke-linecap="round" fill="none"/><path d="M197.4 514.3l0.4 0.4M240.0 517.3l0.0 0.2M255.2 515.9l-0.2 0.2M199.2 500.0l0.0 0.3" stroke="#4d4866" stroke-opacity="0.6" stroke-width="6.0" stroke-linecap="round" fill="none"/><path d="M188.7 499.8l-0.2 0.2M220.0 509.4l-0.0 0.0M250.6 527.7l-0.1 0.5M192.9 522.9l0.5 0.1M231.5 492.5l-0.5 0.3M203.1 508.5l-0.1 0.2M229.5 518.5l0.2 0.5M188.4 527.5l-0.0 0.0M207.4 526.6l-0.1 0.3M191.4 517.5l0.0 0.0" stroke="#2f2c48" stroke-opacity="0.55" stroke-width="2.4" stroke-linecap="round" fill="none"/><path d="M206.4 493.2l0.6 0.1M231.5 517.2l0.0 0.0M219.8 523.4l0.5 0.6M192.3 522.9l-0.2 0.0M218.2 520.2l0.2 0.5M189.6 529.0l-0.1 0.4M234.3 531.0l-0.4 0.3M252.3 526.6l1.2 0.1M246.2 524.6l-1.1 0.4M235.4 504.3l0.2 0.7M216.9 506.1l-0.9 0.6" stroke="#2f2c48" stroke-opacity="0.55" stroke-width="2.0" stroke-linecap="round" fill="none"/><path d="M251.1 513.5l0.2 0.4M206.5 520.0l0.2 0.6M249.3 527.0l0.1 0.8M223.1 501.1l0.7 1.3M246.8 523.2l-0.4 0.4M206.5 533.8l-0.6 1.0M240.5 506.3l-0.8 0.1M203.8 499.3l0.0 0.7M224.3 494.2l-0.4 0.2M250.7 514.2l-0.5 0.1" stroke="#2f2c48" stroke-opacity="0.55" stroke-width="0.8" stroke-linecap="round" fill="none"/><path d="M195.0 529.2l0.2 1.4M191.0 500.4l-0.1 0.0M223.4 519.7l0.2 0.1M253.7 499.2l-0.1 0.0M219.3 498.7l-0.1 0.5M215.1 495.0l-0.6 0.5M189.0 502.7l0.1 1.4M230.2 517.2l-0.0 0.0M223.6 502.1l0.1 0.2M237.2 500.8l-0.0 0.0" stroke="#2f2c48" stroke-opacity="0.55" stroke-width="1.6" stroke-linecap="round" fill="none"/><path d="M189.6 493.6l-0.4 0.2M195.1 489.5l0.6 0.5M211.9 505.1l0.1 0.0M215.2 490.1l-0.7 0.0M214.4 501.6l0.8 1.1M210.9 534.0l0.3 0.3M245.0 534.0l-0.3 1.5M205.5 499.3l0.3 0.5M205.1 527.2l0.2 0.0M194.8 532.7l-0.0 0.3M188.2 525.7l-0.1 0.1M221.6 509.9l0.1 0.0M224.0 531.3l-0.9 1.0M238.3 534.1l1.0 0.6M191.7 521.5l-0.4 0.2M192.6 503.0l0.0 0.1M193.7 505.6l-0.1 0.4" stroke="#2f2c48" stroke-opacity="0.55" stroke-width="1.2" stroke-linecap="round" fill="none"/><path d="M205.9 494.3l-0.0 0.0" stroke="#2f2c48" stroke-opacity="0.55" stroke-width="3.2" stroke-linecap="round" fill="none"/><path d="M233.1 530.8l-0.4 0.1" stroke="#2f2c48" stroke-opacity="0.55" stroke-width="2.8" stroke-linecap="round" fill="none"/><path d="M232.3 492.8l0.5 2.5M252.0 520.6l0.1 1.3M196.9 503.4l1.0 0.1M246.6 509.8l-1.7 1.3M226.1 508.1l1.0 0.2M197.1 492.7l-1.8 1.1M246.7 496.5l0.3 0.3M193.2 499.6l1.2 0.9M231.0 510.1l0.2 1.0M220.9 502.2l0.2 1.0" stroke="#e6e8ee" stroke-opacity="0.6" stroke-width="1.6" stroke-linecap="round" fill="none"/><path d="M242.2 500.4l0.8 2.4M243.9 526.3l1.1 2.1M206.3 491.6l-1.4 0.3M229.9 530.1l-0.7 2.1M207.7 524.1l-0.1 0.2M217.6 527.5l-0.5 1.3M229.3 513.6l0.9 2.1M246.9 494.1l-0.2 1.3M241.8 526.2l-0.0 0.1M205.4 528.7l0.0 0.3M215.3 515.3l-0.2 1.3" stroke="#e6e8ee" stroke-opacity="0.6" stroke-width="2.8" stroke-linecap="round" fill="none"/><path d="M241.9 489.4l-0.6 0.8M219.4 493.1l-0.3 0.3M225.0 520.2l0.8 0.7M241.6 516.9l-0.0 0.1M211.2 500.5l-0.9 1.4" stroke="#e6e8ee" stroke-opacity="0.6" stroke-width="3.2" stroke-linecap="round" fill="none"/><path d="M207.0 514.7l0.1 0.3M228.8 511.2l0.4 0.2M251.1 500.9l-1.3 2.1M252.1 512.6l0.6 0.1M228.6 528.3l1.4 1.7M227.6 512.7l-1.4 1.1M193.6 513.1l-0.2 0.7M225.7 519.1l-1.2 1.9" stroke="#e6e8ee" stroke-opacity="0.6" stroke-width="2.0" stroke-linecap="round" fill="none"/><path d="M191.7 495.0l-0.5 0.2M217.5 529.0l-0.6 0.2M201.6 509.2l-0.0 0.2M206.8 506.0l-0.5 0.3M196.3 509.5l0.2 0.3" stroke="#e6e8ee" stroke-opacity="0.6" stroke-width="5.2" stroke-linecap="round" fill="none"/><path d="M214.5 534.5l-0.3 0.1M205.4 493.2l-1.9 1.9M210.4 506.0l-0.8 1.7M230.1 510.5l0.2 2.0M218.5 522.9l-2.5 0.4M222.5 505.9l0.2 0.1M207.1 513.2l-1.4 2.7M216.6 516.7l0.1 0.7M252.2 523.5l0.0 0.0M213.2 511.5l0.0 0.0" stroke="#e6e8ee" stroke-opacity="0.6" stroke-width="2.4" stroke-linecap="round" fill="none"/><path d="M202.7 489.4l-1.1 0.8M232.0 503.2l-0.4 1.2M246.1 521.7l0.7 1.6M190.9 526.4l1.6 1.0M221.1 528.1l0.9 0.0" stroke="#e6e8ee" stroke-opacity="0.6" stroke-width="1.2" stroke-linecap="round" fill="none"/><path d="M197.4 516.5l-0.5 0.3M191.9 524.5l0.0 0.0M234.8 508.6l1.6 0.9M236.1 497.3l0.1 0.0M191.7 504.0l-0.0 0.0" stroke="#e6e8ee" stroke-opacity="0.6" stroke-width="4.0" stroke-linecap="round" fill="none"/><path d="M247.5 520.5l-1.6 0.4M244.3 516.2l1.0 0.1M235.2 499.4l-1.3 0.1M194.1 490.0l-0.3 0.7M241.2 508.9l-0.6 1.2" stroke="#e6e8ee" stroke-opacity="0.6" stroke-width="3.6" stroke-linecap="round" fill="none"/><path d="M202.6 498.6l-1.0 0.7" stroke="#e6e8ee" stroke-opacity="0.6" stroke-width="0.8" stroke-linecap="round" fill="none"/><path d="M247.8 504.9l1.0 1.0M254.4 516.5l-0.3 1.3M245.3 516.1l0.9 0.8" stroke="#e6e8ee" stroke-opacity="0.6" stroke-width="4.4" stroke-linecap="round" fill="none"/><path d="M254.2 511.6l0.4 1.1" stroke="#e6e8ee" stroke-opacity="0.6" stroke-width="4.8" stroke-linecap="round" fill="none"/><path d="M246.1 489.7l0.1 0.3" stroke="#e6e8ee" stroke-opacity="0.6" stroke-width="5.6" stroke-linecap="round" fill="none"/></g></g>
<clipPath id="cg4"><rect x="257.30" y="489.60" width="68.40" height="45.60"/></clipPath>
<g clip-path="url(#cg4)"><g filter="url(#tb)"><rect x="255.30" y="487.60" width="72.40" height="49.60" fill="#9aa2b4"/><path d="M271.3 510.9l-0.7 2.3M285.3 500.2l-0.9 1.3M270.5 512.8l-0.7 1.4M298.6 514.1l1.2 1.1M298.8 519.5l0.2 0.3M268.6 518.8l1.0 0.1M299.5 507.5l-0.8 1.6M301.4 519.9l0.0 0.2M289.1 531.2l-1.3 1.3M276.4 510.6l0.3 0.2" stroke="#b8d2da" stroke-opacity="0.6" stroke-width="3.2" stroke-linecap="round" fill="none"/><path d="M263.8 500.3l-0.4 0.6M290.0 512.7l0.4 0.4M307.4 519.8l0.2 0.0M311.0 516.9l2.1 0.4M294.9 500.7l0.3 0.3M315.7 514.2l0.1 1.0M307.0 496.0l0.8 1.3M298.1 492.1l-0.5 1.4M314.7 518.2l0.4 0.4M289.8 520.9l2.7 0.4M294.4 496.6l-0.3 0.1M310.2 513.3l1.2 0.0M321.4 512.9l0.5 2.7M269.6 532.6l0.1 0.7M308.0 503.6l-0.2 0.2M323.0 491.0l-0.5 0.4M268.3 519.3l1.1 1.3" stroke="#b8d2da" stroke-opacity="0.6" stroke-width="2.4" stroke-linecap="round" fill="none"/><path d="M273.2 521.0l-0.7 0.0M296.6 502.0l-1.8 1.2M321.7 509.5l0.5 1.4M257.9 530.9l2.3 0.1M281.6 522.1l-0.1 0.0M298.8 507.6l1.5 1.7M325.7 513.8l0.1 1.3M295.9 522.2l-1.0 1.5M299.9 533.1l-0.5 0.4M308.6 498.7l-0.6 0.5M278.6 489.2l-1.8 1.5" stroke="#b8d2da" stroke-opacity="0.6" stroke-width="4.0" stroke-linecap="round" fill="none"/><path d="M279.5 534.7l1.2 0.8M294.4 498.2l0.1 0.6M273.3 523.8l-0.1 2.7M275.5 489.2l1.8 2.5M292.3 493.6l-0.9 0.6M305.8 514.3l1.9 2.5M322.0 510.7l-0.2 0.4M257.8 513.1l2.5 0.8M310.1 512.6l1.7 0.1M313.1 505.9l0.6 2.8M270.9 511.8l1.3 0.2M299.4 494.2l-2.1 1.5M281.2 522.9l1.8 0.3M297.1 520.1l0.5 0.5" stroke="#b8d2da" stroke-opacity="0.6" stroke-width="2.8" stroke-linecap="round" fill="none"/><path d="M262.3 518.8l1.6 0.4M292.8 505.6l0.1 1.2M271.1 523.3l0.7 1.0M258.5 509.5l-0.5 1.3M281.2 503.9l-1.3 0.6" stroke="#b8d2da" stroke-opacity="0.6" stroke-width="1.2" stroke-linecap="round" fill="none"/><path d="M267.2 519.8l0.3 1.6M265.5 519.1l0.7 1.1M317.8 534.2l-0.5 0.8M262.7 519.0l0.0 1.3" stroke="#b8d2da" stroke-opacity="0.6" stroke-width="4.8" stroke-linecap="round" fill="none"/><path d="M293.9 521.5l0.4 0.4M321.3 520.2l0.4 0.3M294.5 516.9l1.0 0.1M314.7 500.5l0.9 0.5M299.0 522.9l0.1 0.3M273.2 493.1l-0.3 0.4M310.9 523.9l0.5 0.1M301.9 506.8l-0.1 0.9" stroke="#b8d2da" stroke-opacity="0.6" stroke-width="5.2" stroke-linecap="round" fill="none"/><path d="M310.3 494.1l0.8 0.5M286.3 524.0l0.1 2.6M282.9 496.3l-1.6 1.2M278.6 532.4l-0.2 1.8M306.8 492.8l0.6 0.8M274.4 522.2l-1.1 0.0M298.7 514.0l-0.0 0.7M277.9 499.3l0.4 0.9M288.5 533.4l-0.3 0.6" stroke="#b8d2da" stroke-opacity="0.6" stroke-width="2.0" stroke-linecap="round" fill="none"/><path d="M293.0 505.9l0.4 0.0M295.9 518.8l-0.0 0.4M277.4 520.4l1.3 2.0M302.0 502.9l-0.4 2.1M297.8 516.2l-1.6 0.3M260.0 513.3l-1.7 0.5M276.8 494.0l1.2 1.4M265.0 491.2l-0.2 0.4" stroke="#b8d2da" stroke-opacity="0.6" stroke-width="3.6" stroke-linecap="round" fill="none"/><path d="M275.2 502.5l-1.2 1.3M288.1 509.0l-0.4 0.4M312.5 521.8l0.3 1.9M292.7 491.1l-0.2 0.4M296.4 493.2l-0.8 0.5M309.1 511.6l0.3 1.9M300.8 525.4l0.2 0.3" stroke="#b8d2da" stroke-opacity="0.6" stroke-width="4.4" stroke-linecap="round" fill="none"/><path d="M267.4 518.1l1.2 0.5M276.4 519.9l1.3 0.2M280.7 515.8l1.3 0.5M257.8 523.4l0.1 1.1M303.5 532.1l-0.7 0.9M268.7 503.2l1.4 0.5M284.1 523.7l0.6 0.7M292.9 507.9l-1.2 0.9M267.9 501.7l1.5 0.2M300.2 518.2l-0.7 0.8M319.0 528.6l-0.7 2.1M274.9 518.0l1.3 0.4" stroke="#b8d2da" stroke-opacity="0.6" stroke-width="1.6" stroke-linecap="round" fill="none"/><path d="M322.4 495.8l-0.0 0.0M305.6 527.9l0.0 0.1" stroke="#b8d2da" stroke-opacity="0.6" stroke-width="6.0" stroke-linecap="round" fill="none"/><path d="M261.5 491.0l-0.1 0.6M275.7 493.0l-0.2 0.1M293.4 530.9l0.3 0.7" stroke="#b8d2da" stroke-opacity="0.6" stroke-width="5.6" stroke-linecap="round" fill="none"/><path d="M258.6 531.3l0.7 0.2M294.6 498.7l-1.0 1.3M261.0 509.6l2.6 1.6M315.9 499.0l-0.2 0.5M288.1 511.5l-0.3 0.1M262.3 499.2l-0.3 0.1M299.0 529.8l0.6 3.0M313.2 520.1l2.3 1.5M280.5 494.3l1.5 2.3M297.1 495.1l-0.6 0.6M285.0 534.8l0.4 0.1M307.3 493.6l0.9 0.3M264.5 514.1l-1.4 1.6M320.9 518.6l1.7 0.5M319.3 509.8l1.1 2.2M260.5 521.3l-2.2 1.1M268.3 531.0l-0.2 0.0M315.1 528.6l0.1 0.3M286.1 519.5l0.9 2.1M275.5 533.4l-1.3 0.1M263.6 507.8l-1.1 0.1M319.4 527.5l-0.0 0.1M323.6 502.7l-1.3 0.1M267.4 500.3l0.9 1.6M265.9 531.0l0.8 0.8M307.8 510.2l0.2 0.1M266.0 510.4l-1.9 0.3" stroke="#6f6c88" stroke-opacity="0.55" stroke-width="2.4" stroke-linecap="round" fill="none"/><path d="M262.7 493.5l-0.0 0.0M325.2 531.0l-0.2 0.2" stroke="#6f6c88" stroke-opacity="0.55" stroke-width="4.8" stroke-linecap="round" fill="none"/><path d="M294.2 493.3l-1.2 1.0M304.6 531.1l-0.1 0.8M260.5 498.6l0.8 0.2M294.1 518.5l1.0 1.9M286.1 527.6l0.0 0.3M321.3 502.4l0.1 1.5M294.1 531.1l-1.6 0.8M256.6 533.6l1.7 0.3M267.1 529.2l-1.8 1.4M280.0 499.7l-0.4 0.9M312.3 502.4l-0.6 1.2M258.5 505.1l1.5 1.8M325.3 529.2l-0.5 0.3M289.2 503.9l-0.2 0.8M277.2 497.0l-0.0 0.3M296.4 528.6l-0.8 0.7M307.0 521.0l-0.7 1.6M279.4 532.9l0.3 0.0" stroke="#6f6c88" stroke-opacity="0.55" stroke-width="3.2" stroke-linecap="round" fill="none"/><path d="M300.1 515.3l1.2 0.3M297.9 507.0l-1.1 1.6M294.9 518.2l-0.4 1.1M299.4 514.6l1.4 0.4M281.6 503.7l0.9 0.0M293.8 531.7l-0.0 1.7M322.0 522.3l1.4 0.9M274.1 515.4l1.8 0.5M257.9 529.6l-0.1 1.1M266.0 513.3l0.1 0.9M269.0 504.7l0.6 1.7M275.1 524.0l0.4 1.7M319.1 505.8l-0.2 1.5M285.7 530.7l-0.6 0.5M281.7 517.5l-0.2 1.0M299.5 510.6l-0.7 0.3M319.3 489.0l0.5 1.3M325.2 531.1l-1.0 0.4M286.7 528.0l0.4 0.5M280.2 516.0l-1.9 1.1M313.0 490.3l0.2 0.6M309.6 519.3l0.2 0.8M313.5 520.1l0.9 1.0M275.8 530.9l-0.2 1.4M272.7 533.9l1.4 1.5M291.4 528.9l-0.5 0.7" stroke="#6f6c88" stroke-opacity="0.55" stroke-width="1.2" stroke-linecap="round" fill="none"/><path d="M288.1 501.6l-2.5 2.4M282.4 515.6l0.7 2.8M281.3 531.0l0.3 2.1M261.3 516.1l-0.1 0.0M265.4 522.1l-0.6 0.4M318.4 531.7l0.1 0.1M310.8 523.1l-1.1 0.2M262.9 503.6l1.2 0.7M263.0 514.9l0.3 0.6M261.7 523.6l-0.9 2.3M257.9 490.8l1.1 0.0M323.1 533.4l2.2 0.3M320.1 514.4l-0.4 0.2M307.1 515.1l-1.1 0.7M281.0 508.5l-1.9 2.2M270.9 507.9l-0.7 0.6M279.4 504.2l-1.0 1.0M274.9 498.8l2.0 0.7M274.2 521.3l-3.0 0.6M309.1 496.9l-0.1 0.4M301.1 519.7l-0.5 2.1M293.7 496.9l-0.0 0.5M260.6 511.8l0.1 0.7M284.8 508.3l-1.6 1.6M320.3 529.7l0.0 0.0" stroke="#6f6c88" stroke-opacity="0.55" stroke-width="2.0" stroke-linecap="round" fill="none"/><path d="M265.9 493.1l-0.7 2.4M299.9 492.7l0.7 2.4M291.6 526.0l-0.3 0.2M298.9 507.4l1.5 0.5M266.0 517.5l-0.1 0.4M296.8 501.2l0.5 0.1M279.7 532.5l1.2 0.7M260.7 520.3l-0.0 1.3M326.0 515.7l-0.6 1.5M265.3 502.5l-0.4 0.4M286.6 499.9l-2.1 0.6M288.8 514.1l-0.1 1.6M285.4 511.8l-0.2 0.5M321.6 509.5l-0.1 0.4M324.3 525.6l0.3 1.0M281.9 523.3l-0.0 0.6M294.4 513.8l-0.7 0.6M264.7 493.1l0.5 0.5M289.5 497.5l-0.2 0.9" stroke="#6f6c88" stroke-opacity="0.55" stroke-width="2.8" stroke-linecap="round" fill="none"/><path d="M258.3 512.4l-0.0 1.3M292.5 490.4l0.7 1.3M290.4 499.5l-1.3 0.2M290.6 525.8l0.9 0.8" stroke="#6f6c88" stroke-opacity="0.55" stroke-width="0.8" stroke-linecap="round" fill="none"/><path d="M260.3 527.2l1.2 1.5M266.8 532.4l0.9 2.4M281.2 522.6l0.4 1.5M277.6 521.4l2.1 1.6M304.6 533.7l-0.2 0.5M300.0 523.7l-1.3 0.4M311.6 533.9l-0.4 0.4M304.5 526.7l-0.7 0.0M283.5 513.3l-3.0 1.3M271.0 522.8l1.3 0.9M287.8 500.8l1.1 0.8M296.3 491.1l0.9 0.6M269.0 528.1l0.5 0.4M272.9 533.7l2.0 1.5M311.0 532.5l-0.3 0.4M317.7 528.2l-1.2 0.1M284.3 501.6l-0.7 1.1M302.6 523.4l1.0 0.1M296.3 530.8l0.4 2.3M259.8 530.1l-0.3 0.0M310.4 527.8l0.8 1.9M265.2 522.4l-0.2 0.9M306.0 519.8l0.4 0.4M301.2 496.7l0.8 1.0M266.5 517.0l-0.5 1.4M321.4 493.0l-0.3 2.8M282.0 512.8l0.1 1.6M278.9 508.2l-1.6 0.7M277.7 513.3l0.5 2.5" stroke="#6f6c88" stroke-opacity="0.55" stroke-width="1.6" stroke-linecap="round" fill="none"/><path d="M273.9 490.7l-0.4 0.3M261.4 493.3l0.2 0.1M263.1 518.8l-1.4 0.4M306.3 510.5l-1.3 0.5M258.5 496.4l-0.3 0.1M323.6 524.0l0.2 0.8M275.4 529.0l0.0 0.0M266.7 514.3l-0.6 0.1" stroke="#6f6c88" stroke-opacity="0.55" stroke-width="4.0" stroke-linecap="round" fill="none"/><path d="M298.6 530.7l-0.7 0.7M299.3 512.6l-0.1 0.0M287.4 526.7l-0.7 0.0M270.5 510.1l-0.6 1.1M273.9 534.5l0.4 0.8M322.4 525.8l1.0 0.1M263.3 494.9l-0.1 0.1M316.9 521.9l-0.0 0.0M272.8 519.4l-1.2 0.3M265.5 521.4l0.1 0.3M282.5 523.5l-0.0 0.1M309.4 533.1l-0.0 1.0M319.6 527.9l-0.0 1.3M300.2 530.9l0.5 1.5" stroke="#6f6c88" stroke-opacity="0.55" stroke-width="3.6" stroke-linecap="round" fill="none"/><path d="M272.9 511.4l-0.2 0.8M279.0 512.7l-0.5 0.2M272.4 490.2l-0.5 0.6M262.5 517.7l-0.2 0.7M315.2 504.1l-0.2 0.1M292.6 520.4l0.6 0.3" stroke="#6f6c88" stroke-opacity="0.55" stroke-width="4.4" stroke-linecap="round" fill="none"/><path d="M294.6 511.8l-0.0 0.0M322.4 507.3l-0.0 0.0" stroke="#6f6c88" stroke-opacity="0.55" stroke-width="5.2" stroke-linecap="round" fill="none"/><path d="M314.5 511.8l0.2 0.7M277.4 503.2l1.1 0.3M294.7 508.9l-0.1 1.0M308.3 532.1l-0.1 0.0M296.1 498.0l1.1 0.5M309.0 490.8l-0.1 0.2M275.4 534.6l-0.7 0.9M295.4 533.4l1.0 0.3M275.3 528.2l1.1 0.2M273.5 519.9l0.4 0.2" stroke="#3a3656" stroke-opacity="0.6" stroke-width="3.2" stroke-linecap="round" fill="none"/><path d="M305.8 513.1l-0.1 0.1M300.7 520.3l-0.3 1.5M310.2 519.1l-0.2 0.1M293.7 508.9l-1.5 0.5M282.0 510.2l0.4 0.4M319.0 503.8l0.4 0.5M305.5 503.2l2.5 0.5M317.5 520.7l0.3 0.5M316.9 531.7l-1.0 0.1M279.3 531.6l-0.1 0.1M257.7 532.2l-0.4 0.4M295.3 494.8l0.5 0.2M280.7 517.5l-0.0 0.0M308.2 507.3l-0.7 1.3M318.8 490.8l-2.4 1.4M309.7 504.6l0.4 1.3M283.4 535.1l-0.0 0.1M269.6 510.2l-2.1 1.0M323.3 528.5l-1.8 0.3M274.7 529.9l0.1 0.3M285.6 492.6l-0.0 0.2M272.8 509.9l0.8 0.5M267.9 528.1l-0.7 0.6M275.8 531.5l0.2 0.3M274.6 494.0l1.4 0.9M299.3 502.1l1.7 0.5M320.7 526.7l0.1 0.0M279.0 525.2l-0.3 0.3M300.4 493.1l-0.2 0.0M268.7 518.4l-0.2 0.6M321.4 497.8l1.8 1.1M314.6 524.1l-0.4 0.0M260.4 524.2l-0.2 0.1M296.2 527.8l-2.3 0.2M261.5 530.9l1.0 0.4M323.9 489.3l1.3 1.7M261.8 502.7l0.2 0.6M323.2 516.5l0.0 0.4" stroke="#3a3656" stroke-opacity="0.6" stroke-width="1.6" stroke-linecap="round" fill="none"/><path d="M318.3 499.1l0.0 2.5M308.8 519.2l0.8 0.7M275.5 502.3l-0.7 1.6M321.4 489.9l0.8 0.9M262.4 506.2l0.3 0.1M283.4 531.5l-0.6 1.3M270.2 514.3l-1.5 0.4M286.2 525.2l1.0 0.3M306.5 510.1l-1.2 2.1M310.2 511.5l-0.4 0.4M300.1 499.7l-0.1 0.4M321.1 496.8l0.4 0.7M286.9 534.3l-0.4 0.9M289.2 526.3l-1.9 1.2M260.2 513.0l0.5 0.5M269.8 512.4l-0.3 0.1M314.8 509.4l0.2 0.1M267.5 508.3l0.5 0.3M275.3 514.1l1.7 0.9M261.7 527.9l0.8 1.6M300.6 498.2l-0.2 2.7M279.1 499.1l0.8 0.1M289.2 523.1l-0.3 0.6M300.7 528.1l0.3 1.0M269.6 510.3l-0.9 1.5M285.6 513.8l0.3 0.1M280.0 503.0l-0.4 0.6M281.3 499.9l0.2 0.3M303.6 534.5l2.3 0.1M311.9 513.4l-0.8 1.9M325.9 492.5l-0.3 0.0M270.7 521.0l-0.0 0.7M312.4 490.6l0.0 0.2M276.0 514.2l0.9 0.3M276.2 526.2l1.0 0.1" stroke="#3a3656" stroke-opacity="0.6" stroke-width="1.2" stroke-linecap="round" fill="none"/><path d="M277.9 512.4l0.1 0.5M260.5 516.7l-1.2 0.0M307.1 505.1l1.5 1.3M297.2 513.6l-1.7 0.5M290.3 527.3l-0.0 0.2M281.2 500.8l1.2 0.1M313.0 513.8l-0.2 0.4M304.0 520.5l1.9 0.9M315.5 490.4l-0.9 0.2M277.1 498.2l-0.0 0.0M260.7 502.3l-0.2 0.2M269.3 521.6l0.9 0.3M293.3 513.2l1.4 0.3M312.0 520.2l1.5 1.0M281.6 534.2l0.7 0.1M266.7 522.8l0.7 1.1M324.0 499.0l-1.4 0.4M269.8 526.0l-1.3 0.0M302.2 502.1l-0.0 0.1M288.8 497.0l2.0 1.3M272.5 518.9l-1.1 2.0M323.3 527.4l1.5 0.1M271.7 491.9l-0.9 1.2M283.8 497.3l-1.0 0.8" stroke="#3a3656" stroke-opacity="0.6" stroke-width="2.0" stroke-linecap="round" fill="none"/><path d="M279.9 509.0l-0.5 0.0M292.3 502.0l-0.5 0.3M281.2 525.6l-0.1 0.0M304.0 495.1l0.1 1.0M319.8 500.9l0.0 0.3M281.0 505.7l0.7 0.9M285.1 504.6l-0.1 0.0M309.8 522.4l0.3 0.5M318.9 534.5l1.1 0.3M296.1 502.9l0.0 0.9M311.8 506.7l-0.4 0.5M276.0 524.0l-0.3 1.5M268.3 501.3l0.4 0.2M264.9 499.0l0.0 0.0M303.2 490.2l0.7 1.6M317.1 500.9l0.5 1.7M290.9 509.9l-0.7 0.9M273.8 531.5l0.0 0.4" stroke="#3a3656" stroke-opacity="0.6" stroke-width="2.4" stroke-linecap="round" fill="none"/><path d="M279.0 490.0l-0.6 0.7M302.9 500.9l-1.1 1.3M259.8 499.1l0.2 0.6M289.6 515.9l-0.7 0.4M269.1 522.6l-0.8 1.5M271.1 523.8l0.6 0.3M279.1 504.2l0.4 0.8M259.6 493.1l0.6 0.8M271.9 519.9l-0.8 0.7M302.1 500.6l-0.1 0.7M293.4 501.4l-0.8 1.2M265.2 509.3l-0.5 0.4M314.8 524.2l-0.6 0.3M287.6 498.8l0.3 0.6M282.3 494.1l-1.2 0.1M288.3 510.7l0.9 0.6M264.9 495.1l-0.3 0.7" stroke="#3a3656" stroke-opacity="0.6" stroke-width="0.8" stroke-linecap="round" fill="none"/><path d="M261.8 490.3l-0.1 0.4M292.0 508.0l-0.1 0.3M274.8 515.4l0.0 0.3M297.0 513.3l-0.1 0.9M267.0 499.1l0.8 0.1M292.9 498.2l1.2 0.0M272.6 496.1l-0.8 0.8M316.5 507.8l-0.0 0.8M278.7 502.9l-0.0 0.0M322.7 523.2l-1.0 0.3M289.4 533.0l0.0 0.0M292.7 515.1l-0.2 0.1M298.8 521.9l1.2 0.2M295.6 511.8l0.1 0.9M278.7 503.7l0.9 1.3M267.7 526.8l-0.4 0.8M305.3 518.5l0.6 1.4M284.6 514.8l0.2 0.5" stroke="#3a3656" stroke-opacity="0.6" stroke-width="2.8" stroke-linecap="round" fill="none"/><path d="M308.3 510.6l-0.0 0.5M313.3 523.0l0.7 0.2M266.2 520.6l0.0 0.0M258.8 492.4l0.2 0.2M305.0 500.5l-0.0 0.6M304.8 493.3l0.2 0.2" stroke="#3a3656" stroke-opacity="0.6" stroke-width="3.6" stroke-linecap="round" fill="none"/><path d="M284.4 490.0l-0.1 0.1M268.0 508.8l-0.0 0.1M300.9 522.0l-0.1 0.0M281.2 501.9l-0.0 0.0" stroke="#3a3656" stroke-opacity="0.6" stroke-width="4.0" stroke-linecap="round" fill="none"/><path d="M275.5 505.2l-0.1 1.2M315.9 507.5l-0.4 0.8M291.4 531.9l-0.0 0.1M262.4 531.9l-0.2 1.2M309.9 521.2l-0.4 0.0M262.7 514.4l-1.5 1.6M287.1 529.1l0.6 0.6M324.5 530.3l-0.0 0.0M315.3 490.7l0.4 0.3M283.1 490.1l1.0 1.3M264.0 521.3l0.5 0.1" stroke="#dde4ec" stroke-opacity="0.5" stroke-width="1.6" stroke-linecap="round" fill="none"/><path d="M259.0 506.9l-0.1 0.7M315.8 494.7l-1.1 0.7M272.3 495.8l0.1 1.0M272.8 503.0l1.3 0.4M319.2 506.8l1.5 1.3M258.8 508.3l0.3 1.4M294.8 525.7l-0.3 0.7M263.3 512.5l-0.4 0.4M307.6 534.2l-0.9 0.1M263.5 529.7l-0.7 1.0M266.9 517.1l-1.5 0.2M310.6 497.0l-1.0 0.6" stroke="#dde4ec" stroke-opacity="0.5" stroke-width="1.2" stroke-linecap="round" fill="none"/><path d="M319.2 528.9l0.8 1.1M295.1 509.7l-1.1 0.2M302.6 517.9l0.5 0.0M291.1 514.6l1.0 0.2M298.3 507.2l-1.1 0.3M318.2 520.6l-0.5 0.6M294.9 509.3l-0.4 0.2" stroke="#dde4ec" stroke-opacity="0.5" stroke-width="2.4" stroke-linecap="round" fill="none"/><path d="M308.3 531.8l-0.0 0.0M321.0 506.2l-0.9 0.3M290.7 525.1l1.7 0.1M316.3 532.1l0.6 0.0M321.8 502.0l-0.1 0.0M295.0 500.7l0.0 0.2M266.2 496.5l-0.1 0.1M279.2 515.6l0.4 1.1M303.0 515.2l0.1 0.2M290.2 509.4l-0.8 0.6M273.1 511.1l0.1 0.3M286.6 501.9l1.6 1.1M295.5 504.5l1.1 1.4" stroke="#dde4ec" stroke-opacity="0.5" stroke-width="2.0" stroke-linecap="round" fill="none"/><path d="M289.8 521.0l0.4 0.4M320.6 533.7l0.2 0.2M270.1 499.5l0.0 0.1M269.6 512.6l-0.1 0.9M288.7 498.8l0.0 0.0M301.7 504.6l-0.0 0.0M305.1 491.9l-0.8 0.5" stroke="#dde4ec" stroke-opacity="0.5" stroke-width="2.8" stroke-linecap="round" fill="none"/><path d="M321.6 527.5l-0.9 0.0M264.7 523.1l0.6 0.6M313.3 491.0l-0.7 1.3M312.4 521.7l1.3 0.5M265.9 515.5l0.7 0.9" stroke="#dde4ec" stroke-opacity="0.5" stroke-width="0.8" stroke-linecap="round" fill="none"/><path d="M321.4 517.1l0.3 0.7M296.0 519.5l-0.2 0.0M306.6 529.8l-0.2 0.7M296.7 525.6l0.6 0.6M322.1 515.7l-0.0 0.0" stroke="#dde4ec" stroke-opacity="0.5" stroke-width="3.2" stroke-linecap="round" fill="none"/></g></g>
<line x1="244.00" y1="485.50" x2="253.50" y2="485.50" stroke="#ffffff" stroke-width="1.3"/>
<line x1="312.00" y1="485.50" x2="322.00" y2="485.50" stroke="#ffffff" stroke-width="1.3"/>
<line x1="244.90" y1="532.50" x2="253.50" y2="532.50" stroke="#ffffff" stroke-width="1.3"/>
<line x1="314.00" y1="532.50" x2="323.00" y2="532.50" stroke="#ffffff" stroke-width="1.3"/>
<text x="211.90" y="440.27" font-size="6.300000000000001" textLength="19.80" lengthAdjust="spacingAndGlyphs">Control</text>
<text x="291.50" y="440.27" font-size="6.300000000000001" text-anchor="middle">CL-Exo</text>
<text x="170.20" y="466.97" font-size="6.300000000000001" textLength="14.80" lengthAdjust="spacingAndGlyphs">7 Day</text>
<text x="166.60" y="511.37" font-size="6.300000000000001" textLength="18.60" lengthAdjust="spacingAndGlyphs">14 Day</text>
<text x="408.80" y="453.90" font-size="8.6" textLength="18.70" lengthAdjust="spacingAndGlyphs">MSC</text>
<line x1="370.50" y1="459.20" x2="370.50" y2="519.60" stroke="#231f20" stroke-width="1.0"/>
<line x1="368.20" y1="461.50" x2="370.20" y2="461.50" stroke="#231f20" stroke-width="1.0"/>
<text x="365.20" y="463.77" font-size="6.300000000000001" text-anchor="end">8</text>
<line x1="368.20" y1="476.50" x2="370.20" y2="476.50" stroke="#231f20" stroke-width="1.0"/>
<text x="365.20" y="478.17" font-size="6.300000000000001" text-anchor="end">6</text>
<line x1="368.20" y1="490.50" x2="370.20" y2="490.50" stroke="#231f20" stroke-width="1.0"/>
<text x="365.20" y="492.57" font-size="6.300000000000001" text-anchor="end">4</text>
<line x1="368.20" y1="504.50" x2="370.20" y2="504.50" stroke="#231f20" stroke-width="1.0"/>
<text x="365.20" y="506.97" font-size="6.300000000000001" text-anchor="end">2</text>
<line x1="368.20" y1="519.50" x2="370.20" y2="519.50" stroke="#231f20" stroke-width="1.0"/>
<text x="365.20" y="521.37" font-size="6.300000000000001" text-anchor="end">0</text>
<line x1="370.20" y1="519.50" x2="464.60" y2="519.50" stroke="#231f20" stroke-width="1.0"/>
<rect x="378.35" y="510.85" width="11.80" height="8.35" fill="#c8102e" stroke="#9c0c23" stroke-width="0.5"/>
<rect x="397.35" y="508.15" width="11.20" height="11.05" fill="#1a4a82" stroke="#143965" stroke-width="0.5"/>
<rect x="427.55" y="499.25" width="11.00" height="19.95" fill="#c8102e" stroke="#9c0c23" stroke-width="0.5"/>
<rect x="446.25" y="480.25" width="11.00" height="38.95" fill="#1a4a82" stroke="#143965" stroke-width="0.5"/>
<line x1="384.50" y1="510.60" x2="384.50" y2="508.70" stroke="#231f20" stroke-width="1.0"/>
<line x1="381.85" y1="508.50" x2="386.65" y2="508.50" stroke="#231f20" stroke-width="1.0"/>
<line x1="402.50" y1="507.90" x2="402.50" y2="505.80" stroke="#231f20" stroke-width="1.0"/>
<line x1="400.55" y1="505.50" x2="405.35" y2="505.50" stroke="#231f20" stroke-width="1.0"/>
<line x1="433.50" y1="499.00" x2="433.50" y2="496.20" stroke="#231f20" stroke-width="1.0"/>
<line x1="430.65" y1="496.50" x2="435.45" y2="496.50" stroke="#231f20" stroke-width="1.0"/>
<line x1="451.50" y1="480.00" x2="451.50" y2="469.80" stroke="#231f20" stroke-width="1.0"/>
<line x1="449.35" y1="469.50" x2="454.15" y2="469.50" stroke="#231f20" stroke-width="1.0"/>
<text x="451.70" y="469.37" font-size="6.300000000000001" text-anchor="middle">**</text>
<line x1="393.50" y1="519.20" x2="393.50" y2="521.20" stroke="#231f20" stroke-width="1.0"/>
<line x1="442.50" y1="519.20" x2="442.50" y2="521.20" stroke="#231f20" stroke-width="1.0"/>
<text x="389.0" y="502.70" font-size="6" textLength="26.6" lengthAdjust="spacingAndGlyphs"><tspan font-style="italic">P</tspan> = .0591</text>
<rect x="377.50" y="462.50" width="8.30" height="3.00" fill="#c8102e"/>
<rect x="377.50" y="469.30" width="8.30" height="3.00" fill="#1a4a82"/>
<text x="387.70" y="466.17" font-size="6.300000000000001" textLength="19.60" lengthAdjust="spacingAndGlyphs">Control</text>
<text x="387.70" y="472.97" font-size="6.300000000000001" textLength="17.60" lengthAdjust="spacingAndGlyphs">CL-Exo</text>
<text x="386.20" y="531.77" font-size="6.300000000000001" textLength="15.70" lengthAdjust="spacingAndGlyphs">7 Day</text>
<text x="433.50" y="531.77" font-size="6.300000000000001" textLength="18.20" lengthAdjust="spacingAndGlyphs">14 Day</text>
<text transform="translate(349.11,503.50) rotate(-90)" font-size="7.0200000000000005" font-weight="bold" style="stroke-width:0.18px" textLength="27.90" lengthAdjust="spacingAndGlyphs">ALP activity</text>
<text transform="translate(355.71,502.00) rotate(-90)" font-size="7.0200000000000005" font-weight="bold" style="stroke-width:0.18px" textLength="25.00" lengthAdjust="spacingAndGlyphs">(U/g.prot)</text>
<text x="245.80" y="560.90" font-size="8.6" textLength="17.90" lengthAdjust="spacingAndGlyphs">MSC</text>
<line x1="201.50" y1="567.00" x2="201.50" y2="623.30" stroke="#231f20" stroke-width="1.0"/>
<line x1="199.00" y1="569.50" x2="201.00" y2="569.50" stroke="#231f20" stroke-width="1.0"/>
<text x="196.00" y="571.17" font-size="6.300000000000001" text-anchor="end">2.5</text>
<line x1="199.00" y1="579.50" x2="201.00" y2="579.50" stroke="#231f20" stroke-width="1.0"/>
<text x="196.00" y="581.95" font-size="6.300000000000001" text-anchor="end">2.0</text>
<line x1="199.00" y1="590.50" x2="201.00" y2="590.50" stroke="#231f20" stroke-width="1.0"/>
<text x="196.00" y="592.73" font-size="6.300000000000001" text-anchor="end">1.5</text>
<line x1="199.00" y1="601.50" x2="201.00" y2="601.50" stroke="#231f20" stroke-width="1.0"/>
<text x="196.00" y="603.51" font-size="6.300000000000001" text-anchor="end">1.0</text>
<line x1="199.00" y1="612.50" x2="201.00" y2="612.50" stroke="#231f20" stroke-width="1.0"/>
<text x="196.00" y="614.29" font-size="6.300000000000001" text-anchor="end">0.5</text>
<line x1="199.00" y1="622.50" x2="201.00" y2="622.50" stroke="#231f20" stroke-width="1.0"/>
<text x="196.00" y="625.07" font-size="6.300000000000001" text-anchor="end">0</text>
<line x1="201.00" y1="622.50" x2="306.00" y2="622.50" stroke="#231f20" stroke-width="1.0"/>
<rect x="206.45" y="601.59" width="4.50" height="21.31" fill="#c8102e" stroke="#9c0c23" stroke-width="0.5"/>
<rect x="214.25" y="599.05" width="4.30" height="23.85" fill="#1a4a82" stroke="#143965" stroke-width="0.5"/>
<line x1="216.50" y1="598.80" x2="216.50" y2="596.00" stroke="#231f20" stroke-width="1.0"/>
<line x1="214.80" y1="596.50" x2="218.00" y2="596.50" stroke="#231f20" stroke-width="1.0"/>
<line x1="212.50" y1="622.90" x2="212.50" y2="624.90" stroke="#231f20" stroke-width="1.0"/>
<rect x="227.15" y="601.59" width="4.30" height="21.31" fill="#c8102e" stroke="#9c0c23" stroke-width="0.5"/>
<rect x="235.25" y="585.25" width="4.30" height="37.65" fill="#1a4a82" stroke="#143965" stroke-width="0.5"/>
<line x1="237.50" y1="585.00" x2="237.50" y2="575.40" stroke="#231f20" stroke-width="1.0"/>
<line x1="235.80" y1="575.50" x2="239.00" y2="575.50" stroke="#231f20" stroke-width="1.0"/>
<line x1="233.50" y1="622.90" x2="233.50" y2="624.90" stroke="#231f20" stroke-width="1.0"/>
<rect x="248.55" y="601.59" width="4.30" height="21.31" fill="#c8102e" stroke="#9c0c23" stroke-width="0.5"/>
<rect x="256.25" y="597.15" width="4.30" height="25.75" fill="#1a4a82" stroke="#143965" stroke-width="0.5"/>
<line x1="258.50" y1="596.90" x2="258.50" y2="592.10" stroke="#231f20" stroke-width="1.0"/>
<line x1="256.80" y1="592.50" x2="260.00" y2="592.50" stroke="#231f20" stroke-width="1.0"/>
<line x1="254.50" y1="622.90" x2="254.50" y2="624.90" stroke="#231f20" stroke-width="1.0"/>
<rect x="269.65" y="601.59" width="3.90" height="21.31" fill="#c8102e" stroke="#9c0c23" stroke-width="0.5"/>
<rect x="277.35" y="605.25" width="4.30" height="17.65" fill="#1a4a82" stroke="#143965" stroke-width="0.5"/>
<line x1="279.50" y1="605.00" x2="279.50" y2="589.60" stroke="#231f20" stroke-width="1.0"/>
<line x1="277.90" y1="589.50" x2="281.10" y2="589.50" stroke="#231f20" stroke-width="1.0"/>
<line x1="275.50" y1="622.90" x2="275.50" y2="624.90" stroke="#231f20" stroke-width="1.0"/>
<rect x="290.25" y="601.59" width="4.30" height="21.31" fill="#c8102e" stroke="#9c0c23" stroke-width="0.5"/>
<rect x="298.55" y="598.75" width="4.30" height="24.15" fill="#1a4a82" stroke="#143965" stroke-width="0.5"/>
<line x1="300.50" y1="598.50" x2="300.50" y2="592.10" stroke="#231f20" stroke-width="1.0"/>
<line x1="299.10" y1="592.50" x2="302.30" y2="592.50" stroke="#231f20" stroke-width="1.0"/>
<line x1="296.50" y1="622.90" x2="296.50" y2="624.90" stroke="#231f20" stroke-width="1.0"/>
<line x1="206.30" y1="593.80" x2="218.00" y2="593.80" stroke="#555" stroke-width="0.8"/>
<text x="212.15" y="594.17" font-size="6.300000000000001" text-anchor="middle">****</text>
<line x1="227.50" y1="574.40" x2="239.10" y2="574.40" stroke="#555" stroke-width="0.8"/>
<text x="233.30" y="573.67" font-size="6.300000000000001" text-anchor="middle">*</text>
<line x1="248.20" y1="589.20" x2="260.30" y2="589.20" stroke="#555" stroke-width="0.8"/>
<text x="254.25" y="588.57" font-size="6.300000000000001" text-anchor="middle">n.s</text>
<line x1="269.40" y1="587.10" x2="281.40" y2="587.10" stroke="#555" stroke-width="0.8"/>
<text x="275.40" y="585.87" font-size="6.300000000000001" text-anchor="middle">n.s</text>
<line x1="290.50" y1="588.10" x2="302.20" y2="588.10" stroke="#555" stroke-width="0.8"/>
<text x="296.35" y="587.17" font-size="6.300000000000001" text-anchor="middle">n.s</text>
<text x="203.80" y="634.17" font-size="6.300000000000001" textLength="16.40" lengthAdjust="spacingAndGlyphs">Runx2</text>
<text x="226.90" y="634.17" font-size="6.300000000000001" textLength="12.50" lengthAdjust="spacingAndGlyphs">OPN</text>
<text x="247.70" y="634.17" font-size="6.300000000000001" textLength="13.10" lengthAdjust="spacingAndGlyphs">OCN</text>
<text x="269.40" y="634.17" font-size="6.300000000000001" textLength="11.60" lengthAdjust="spacingAndGlyphs">ALP</text>
<text x="290.00" y="634.17" font-size="6.300000000000001" textLength="12.10" lengthAdjust="spacingAndGlyphs">Col-I</text>
<text x="247.70" y="645.77" font-size="7.7700000000000005" font-weight="bold" style="stroke-width:0.18px" textLength="13.60" lengthAdjust="spacingAndGlyphs">7 Day</text>
<text transform="translate(183.61,618.10) rotate(-90)" font-size="7.0200000000000005" font-weight="bold" style="stroke-width:0.18px" textLength="46.20" lengthAdjust="spacingAndGlyphs">Relative expression</text>
<text x="414.00" y="561.30" font-size="8.6" textLength="18.30" lengthAdjust="spacingAndGlyphs">MSC</text>
<line x1="370.50" y1="566.98" x2="370.50" y2="623.30" stroke="#231f20" stroke-width="1.0"/>
<line x1="368.80" y1="568.50" x2="370.80" y2="568.50" stroke="#231f20" stroke-width="1.0"/>
<text x="365.80" y="571.15" font-size="6.300000000000001" text-anchor="end">8</text>
<line x1="368.80" y1="582.50" x2="370.80" y2="582.50" stroke="#231f20" stroke-width="1.0"/>
<text x="365.80" y="584.63" font-size="6.300000000000001" text-anchor="end">6</text>
<line x1="368.80" y1="595.50" x2="370.80" y2="595.50" stroke="#231f20" stroke-width="1.0"/>
<text x="365.80" y="598.11" font-size="6.300000000000001" text-anchor="end">4</text>
<line x1="368.80" y1="609.50" x2="370.80" y2="609.50" stroke="#231f20" stroke-width="1.0"/>
<text x="365.80" y="611.59" font-size="6.300000000000001" text-anchor="end">2</text>
<line x1="368.80" y1="622.50" x2="370.80" y2="622.50" stroke="#231f20" stroke-width="1.0"/>
<text x="365.80" y="625.07" font-size="6.300000000000001" text-anchor="end">0</text>
<line x1="370.80" y1="622.50" x2="474.20" y2="622.50" stroke="#231f20" stroke-width="1.0"/>
<rect x="374.85" y="616.41" width="4.70" height="6.49" fill="#c8102e" stroke="#9c0c23" stroke-width="0.5"/>
<rect x="382.55" y="614.05" width="4.30" height="8.85" fill="#1a4a82" stroke="#143965" stroke-width="0.5"/>
<line x1="381.50" y1="622.90" x2="381.50" y2="624.90" stroke="#231f20" stroke-width="1.0"/>
<rect x="396.05" y="616.41" width="4.30" height="6.49" fill="#c8102e" stroke="#9c0c23" stroke-width="0.5"/>
<rect x="403.75" y="578.35" width="4.30" height="44.55" fill="#1a4a82" stroke="#143965" stroke-width="0.5"/>
<line x1="405.50" y1="578.10" x2="405.50" y2="572.50" stroke="#231f20" stroke-width="1.0"/>
<line x1="404.30" y1="572.50" x2="407.50" y2="572.50" stroke="#231f20" stroke-width="1.0"/>
<line x1="402.50" y1="622.90" x2="402.50" y2="624.90" stroke="#231f20" stroke-width="1.0"/>
<rect x="416.55" y="616.41" width="4.40" height="6.49" fill="#c8102e" stroke="#9c0c23" stroke-width="0.5"/>
<rect x="424.45" y="612.55" width="4.30" height="10.35" fill="#1a4a82" stroke="#143965" stroke-width="0.5"/>
<line x1="426.50" y1="612.30" x2="426.50" y2="611.00" stroke="#231f20" stroke-width="1.0"/>
<line x1="425.00" y1="611.50" x2="428.20" y2="611.50" stroke="#231f20" stroke-width="1.0"/>
<line x1="422.50" y1="622.90" x2="422.50" y2="624.90" stroke="#231f20" stroke-width="1.0"/>
<rect x="437.55" y="616.41" width="4.90" height="6.49" fill="#c8102e" stroke="#9c0c23" stroke-width="0.5"/>
<rect x="445.25" y="613.55" width="4.90" height="9.35" fill="#1a4a82" stroke="#143965" stroke-width="0.5"/>
<line x1="447.50" y1="613.30" x2="447.50" y2="611.30" stroke="#231f20" stroke-width="1.0"/>
<line x1="446.10" y1="611.50" x2="449.30" y2="611.50" stroke="#231f20" stroke-width="1.0"/>
<line x1="443.50" y1="622.90" x2="443.50" y2="624.90" stroke="#231f20" stroke-width="1.0"/>
<rect x="458.35" y="616.41" width="4.70" height="6.49" fill="#c8102e" stroke="#9c0c23" stroke-width="0.5"/>
<rect x="466.45" y="590.45" width="4.80" height="32.45" fill="#1a4a82" stroke="#143965" stroke-width="0.5"/>
<line x1="468.50" y1="590.20" x2="468.50" y2="586.30" stroke="#231f20" stroke-width="1.0"/>
<line x1="467.25" y1="586.50" x2="470.45" y2="586.50" stroke="#231f20" stroke-width="1.0"/>
<line x1="464.50" y1="622.90" x2="464.50" y2="624.90" stroke="#231f20" stroke-width="1.0"/>
<line x1="374.60" y1="610.80" x2="387.10" y2="610.80" stroke="#555" stroke-width="0.8"/>
<text x="380.85" y="610.57" font-size="6.300000000000001" text-anchor="middle">****</text>
<line x1="395.80" y1="570.00" x2="408.30" y2="570.00" stroke="#555" stroke-width="0.8"/>
<text x="402.05" y="569.57" font-size="6.300000000000001" text-anchor="middle">***</text>
<line x1="416.30" y1="607.50" x2="429.00" y2="607.50" stroke="#555" stroke-width="0.8"/>
<text x="422.65" y="607.67" font-size="6.300000000000001" text-anchor="middle">**</text>
<line x1="437.30" y1="609.40" x2="450.40" y2="609.40" stroke="#555" stroke-width="0.8"/>
<text x="443.85" y="609.57" font-size="6.300000000000001" text-anchor="middle">*</text>
<line x1="458.10" y1="583.10" x2="471.50" y2="583.10" stroke="#555" stroke-width="0.8"/>
<text x="464.80" y="583.67" font-size="6.300000000000001" text-anchor="middle">***</text>
<text x="372.70" y="634.17" font-size="6.300000000000001" textLength="16.30" lengthAdjust="spacingAndGlyphs">Runx2</text>
<text x="395.80" y="634.17" font-size="6.300000000000001" textLength="12.50" lengthAdjust="spacingAndGlyphs">OPN</text>
<text x="416.00" y="634.17" font-size="6.300000000000001" textLength="13.40" lengthAdjust="spacingAndGlyphs">OCN</text>
<text x="438.80" y="634.17" font-size="6.300000000000001" textLength="11.00" lengthAdjust="spacingAndGlyphs">ALP</text>
<text x="458.50" y="634.17" font-size="6.300000000000001" textLength="12.50" lengthAdjust="spacingAndGlyphs">Col-I</text>
<text x="414.60" y="645.77" font-size="7.7700000000000005" font-weight="bold" style="stroke-width:0.18px" textLength="17.30" lengthAdjust="spacingAndGlyphs">14 Day</text>
<text transform="translate(357.81,618.10) rotate(-90)" font-size="7.0200000000000005" font-weight="bold" style="stroke-width:0.18px" textLength="47.10" lengthAdjust="spacingAndGlyphs">Relative expression</text>
<rect x="429.60" y="567.90" width="7.30" height="3.00" fill="#c8102e"/>
<rect x="429.60" y="574.80" width="7.30" height="3.00" fill="#1a4a82"/>
<text x="439.20" y="571.57" font-size="6.300000000000001" textLength="19.60" lengthAdjust="spacingAndGlyphs">Control</text>
<text x="439.20" y="578.47" font-size="6.300000000000001" textLength="17.50" lengthAdjust="spacingAndGlyphs">CL-Exo</text>
</g>
</svg>
</body></html>
